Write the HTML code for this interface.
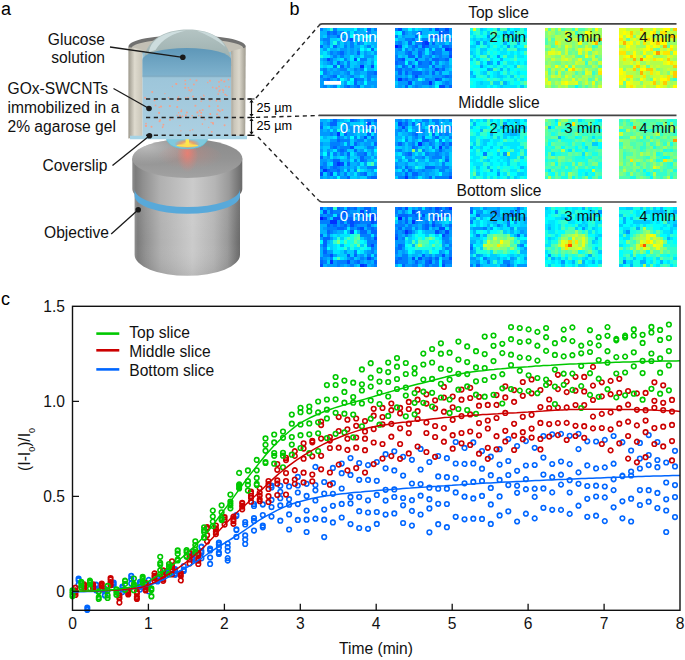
<!DOCTYPE html><html><head><meta charset="utf-8"><style>html,body{margin:0;padding:0;background:#fff;overflow:hidden}svg{display:block}text{font-family:"Liberation Sans", sans-serif}</style></head><body>
<svg width="685" height="660" viewBox="0 0 685 660">
<defs>
<linearGradient id="wallL" x1="0" x2="1" y1="0" y2="0"><stop offset="0" stop-color="#9d998d"/><stop offset="0.45" stop-color="#dedace"/><stop offset="1" stop-color="#c9c5b8"/></linearGradient>
<linearGradient id="wallR" x1="0" x2="1" y1="0" y2="0"><stop offset="0" stop-color="#a9a69b"/><stop offset="0.2" stop-color="#c9c5b9"/><stop offset="0.55" stop-color="#dcd8cc"/><stop offset="1" stop-color="#a09c90"/></linearGradient>
<linearGradient id="gel" x1="0" x2="0" y1="0" y2="1"><stop offset="0" stop-color="#96c1d6"/><stop offset="0.4" stop-color="#9fc7db"/><stop offset="1" stop-color="#acd0e2"/></linearGradient>
<linearGradient id="sol" x1="0" x2="0" y1="0" y2="1"><stop offset="0" stop-color="#5e97b8"/><stop offset="0.5" stop-color="#6fa5c3"/><stop offset="1" stop-color="#80b3ce"/></linearGradient>
<linearGradient id="dome" x1="0" x2="0" y1="0" y2="1"><stop offset="0" stop-color="#b4c4c3"/><stop offset="1" stop-color="#97abaa"/></linearGradient>
<linearGradient id="rim" x1="0" x2="0" y1="0" y2="1"><stop offset="0" stop-color="#7a7a78"/><stop offset="1" stop-color="#b9b6ab"/></linearGradient>
<linearGradient id="obj" x1="0" x2="1" y1="0" y2="0"><stop offset="0" stop-color="#8e8e8e"/><stop offset="0.03" stop-color="#7c7c7c"/><stop offset="0.1" stop-color="#909090"/><stop offset="0.25" stop-color="#b0b0b0"/><stop offset="0.55" stop-color="#cbcbcb"/><stop offset="0.75" stop-color="#b5b5b5"/><stop offset="0.88" stop-color="#9a9a9a"/><stop offset="0.97" stop-color="#747474"/><stop offset="1" stop-color="#6a6a6a"/></linearGradient>
<linearGradient id="objv" x1="0" x2="0" y1="0" y2="1"><stop offset="0" stop-color="#fff" stop-opacity="0.08"/><stop offset="0.6" stop-color="#fff" stop-opacity="0"/><stop offset="1" stop-color="#000" stop-opacity="0.08"/></linearGradient>
<linearGradient id="face" x1="0" x2="0" y1="0" y2="1"><stop offset="0" stop-color="#8c8c8c"/><stop offset="0.5" stop-color="#939393"/><stop offset="1" stop-color="#a2a2a2"/></linearGradient>
<radialGradient id="glow" cx="0.5" cy="0.3" r="0.5"><stop offset="0" stop-color="#ff7a6a" stop-opacity="0.7"/><stop offset="0.6" stop-color="#ff7a6a" stop-opacity="0.25"/><stop offset="1" stop-color="#ff7a6a" stop-opacity="0"/></radialGradient>
<radialGradient id="spot" cx="0.5" cy="0.6" r="0.5"><stop offset="0" stop-color="#fff27a"/><stop offset="0.5" stop-color="#ff9a4a" stop-opacity="0.8"/><stop offset="1" stop-color="#ff7050" stop-opacity="0"/></radialGradient>
<linearGradient id="rimhl" x1="0" x2="1" y1="0" y2="0.4"><stop offset="0" stop-color="#d6d6d6" stop-opacity="0.8"/><stop offset="0.45" stop-color="#d6d6d6" stop-opacity="0.15"/><stop offset="1" stop-color="#d6d6d6" stop-opacity="0"/></linearGradient>
<radialGradient id="facehl" cx="0.12" cy="0.2" r="0.45"><stop offset="0" stop-color="#c8c8c8" stop-opacity="0.75"/><stop offset="1" stop-color="#c8c8c8" stop-opacity="0"/></radialGradient>
</defs>
<text x="1" y="14.8" font-size="18">a</text>
<text x="289.5" y="14.9" font-size="18">b</text>
<text x="1" y="304.8" font-size="18">c</text>
<path d="M134.6 194 L134.6 254.8 A52.7 21 0 0 0 240 254.8 L240 194 Z" fill="url(#obj)"/>
<path d="M134.6 194 L134.6 254.8 A52.7 21 0 0 0 240 254.8 L240 194 Z" fill="url(#objv)"/>
<path d="M132.3 158.5 L132.3 189 A55 18 0 0 0 242.3 189 L242.3 158.5 Z" fill="url(#obj)"/>
<path d="M134.6 189 A52.7 18 0 0 0 240 189 L240 195.8 A52.7 18 0 0 1 134.6 195.8 Z" fill="#58a9da"/>
<ellipse cx="187.3" cy="158.5" rx="55" ry="19.5" fill="url(#face)"/>
<clipPath id="faceclip"><ellipse cx="187.3" cy="158.5" rx="55" ry="19.5"/></clipPath>
<ellipse cx="187.3" cy="158.5" rx="55" ry="19.5" fill="url(#facehl)"/>
<ellipse cx="190" cy="160" rx="34" ry="16" fill="url(#glow)" opacity="0.35"/>
<ellipse cx="187.5" cy="161" rx="11" ry="19" fill="url(#glow)"/>
<path d="M166 137.5 L208 137.5 C206 146 198 148.6 187 148.6 C176 148.6 168 146 166 137.5Z" fill="#7fc9dd" stroke="#5ec3da" stroke-width="0.8"/>
<ellipse cx="187.3" cy="143" rx="13" ry="5" fill="url(#spot)"/>
<path d="M185.6 137.5 h3.4 v8.5 h-3.4z" fill="#ffe84a"/>
<ellipse cx="187.3" cy="145.6" rx="11" ry="1.4" fill="#ffe050"/>
<ellipse cx="187.1" cy="46.5" rx="58.6" ry="11.5" fill="#717170"/>
<ellipse cx="187.4" cy="48.2" rx="55.8" ry="9.6" fill="#c3c0b5"/>
<path d="M142.3 52 L231.2 52 L231.2 136 L142.3 136 Z" fill="url(#gel)"/>
<path d="M143 66 C143.5 40 164 29.5 188 29.5 C212 29.5 231 40 231.5 66 Z" fill="url(#dome)"/>
<path d="M142.3 60 A44.45 12 0 0 1 231.2 60 L231.2 76.5 L142.3 76.5 Z" fill="url(#sol)"/>
<path d="M142.3 75.6 L231.2 75.6 L231.2 77.2 L142.3 77.2 Z" fill="#7fa9c0" opacity="0.7"/>
<path d="M149 52 C151 38 167 31 186 30.5 C173 33.5 162 39 155.5 50 Z" fill="#d3e3e4" opacity="0.85"/>
<path d="M197 30.8 C211 32 221 38 225.5 47 C217 40 207 35 197 30.8Z" fill="#d3e3e4" opacity="0.7"/>
<g fill="#fb9f86" opacity="0.95"><circle cx="152.2" cy="92.0" r="1.00"/><circle cx="193.9" cy="84.2" r="0.82"/><circle cx="185.2" cy="87.8" r="0.97"/><circle cx="154.5" cy="100.5" r="0.86"/><circle cx="181.2" cy="111.3" r="0.97"/><circle cx="225.3" cy="94.6" r="0.92"/><circle cx="203.5" cy="95.1" r="0.60"/><circle cx="226.8" cy="95.4" r="0.76"/><circle cx="219.9" cy="111.2" r="0.84"/><circle cx="210.0" cy="80.7" r="0.95"/><circle cx="176.4" cy="84.0" r="0.93"/><circle cx="223.2" cy="90.4" r="0.92"/><circle cx="170.0" cy="119.8" r="0.96"/><circle cx="163.4" cy="124.6" r="0.93"/><circle cx="202.4" cy="124.1" r="0.81"/><circle cx="208.7" cy="127.3" r="0.65"/><circle cx="216.4" cy="100.7" r="0.84"/><circle cx="157.3" cy="117.4" r="0.75"/><circle cx="218.2" cy="94.1" r="0.88"/><circle cx="178.6" cy="112.7" r="0.70"/><circle cx="160.1" cy="120.1" r="0.98"/><circle cx="192.6" cy="129.7" r="0.70"/><circle cx="216.5" cy="88.3" r="1.08"/><circle cx="197.4" cy="112.4" r="1.09"/><circle cx="211.1" cy="122.4" r="0.63"/><circle cx="176.0" cy="83.7" r="0.70"/><circle cx="163.0" cy="126.2" r="0.66"/><circle cx="169.9" cy="106.1" r="1.02"/><circle cx="226.1" cy="117.9" r="0.71"/><circle cx="190.8" cy="117.8" r="0.63"/><circle cx="202.1" cy="99.3" r="0.89"/><circle cx="201.2" cy="115.8" r="0.86"/><circle cx="191.6" cy="89.9" r="0.85"/><circle cx="155.5" cy="105.4" r="0.87"/><circle cx="210.0" cy="100.7" r="0.61"/><circle cx="189.3" cy="90.3" r="0.97"/><circle cx="177.7" cy="99.9" r="1.05"/><circle cx="178.0" cy="98.2" r="0.77"/><circle cx="185.4" cy="84.1" r="0.87"/><circle cx="222.4" cy="110.0" r="0.97"/><circle cx="224.6" cy="125.3" r="0.97"/><circle cx="213.3" cy="124.1" r="0.73"/><circle cx="185.5" cy="97.8" r="0.73"/><circle cx="193.0" cy="96.5" r="0.91"/><circle cx="193.9" cy="84.7" r="0.82"/><circle cx="177.7" cy="117.9" r="0.64"/><circle cx="159.2" cy="107.2" r="0.80"/><circle cx="200.9" cy="97.3" r="0.70"/><circle cx="223.3" cy="92.4" r="0.67"/><circle cx="168.5" cy="97.7" r="0.71"/><circle cx="190.1" cy="130.5" r="0.66"/><circle cx="179.9" cy="115.7" r="1.04"/><circle cx="229.0" cy="86.9" r="0.87"/><circle cx="219.0" cy="81.9" r="0.89"/><circle cx="159.6" cy="121.2" r="1.07"/><circle cx="190.2" cy="79.5" r="0.63"/><circle cx="179.9" cy="125.6" r="0.72"/><circle cx="201.2" cy="101.3" r="0.73"/><circle cx="204.1" cy="96.0" r="0.79"/><circle cx="209.3" cy="106.2" r="0.99"/><circle cx="188.4" cy="87.8" r="0.82"/><circle cx="218.3" cy="110.1" r="1.08"/><circle cx="145.1" cy="97.7" r="0.98"/><circle cx="202.6" cy="109.9" r="0.93"/><circle cx="218.6" cy="116.6" r="0.87"/><circle cx="192.2" cy="115.7" r="0.76"/><circle cx="201.2" cy="112.8" r="0.99"/><circle cx="185.3" cy="80.5" r="0.87"/><circle cx="217.0" cy="114.2" r="0.92"/><circle cx="177.8" cy="98.6" r="0.96"/><circle cx="151.5" cy="126.7" r="1.04"/><circle cx="225.8" cy="86.5" r="0.66"/><circle cx="220.1" cy="101.1" r="0.74"/><circle cx="177.1" cy="115.3" r="0.68"/><circle cx="185.9" cy="115.3" r="0.96"/><circle cx="146.0" cy="123.6" r="0.82"/><circle cx="181.6" cy="109.9" r="0.74"/><circle cx="219.5" cy="90.7" r="0.87"/><circle cx="159.1" cy="112.9" r="1.05"/><circle cx="219.1" cy="86.4" r="0.91"/><circle cx="220.0" cy="90.0" r="0.81"/><circle cx="204.9" cy="119.6" r="0.83"/><circle cx="198.6" cy="115.8" r="0.78"/><circle cx="199.8" cy="110.8" r="0.95"/><circle cx="188.0" cy="97.5" r="0.82"/><circle cx="222.5" cy="89.3" r="0.67"/><circle cx="146.0" cy="125.9" r="1.09"/><circle cx="164.9" cy="93.6" r="0.70"/><circle cx="195.4" cy="105.7" r="1.01"/><circle cx="162.6" cy="127.3" r="0.83"/><circle cx="212.9" cy="123.1" r="1.06"/><circle cx="186.9" cy="112.5" r="0.88"/><circle cx="161.0" cy="106.6" r="1.06"/><circle cx="221.3" cy="80.2" r="0.93"/><circle cx="172.4" cy="86.5" r="0.67"/><circle cx="211.8" cy="131.8" r="0.86"/><circle cx="177.2" cy="107.0" r="1.01"/><circle cx="207.7" cy="82.5" r="0.71"/><circle cx="217.9" cy="106.1" r="0.93"/><circle cx="210.3" cy="114.0" r="0.97"/><circle cx="190.8" cy="91.6" r="0.69"/><circle cx="228.5" cy="79.6" r="0.95"/><circle cx="219.0" cy="91.7" r="0.62"/><circle cx="178.5" cy="97.1" r="0.83"/><circle cx="180.9" cy="130.8" r="0.66"/><circle cx="224.3" cy="81.5" r="1.07"/><circle cx="173.0" cy="119.0" r="0.60"/><circle cx="182.6" cy="116.3" r="0.91"/><circle cx="212.7" cy="87.4" r="0.80"/><circle cx="196.5" cy="80.6" r="1.02"/></g>
<path d="M128.4 47 L142.3 49.5 L142.3 136 L128.4 138.5 Z" fill="url(#wallL)"/>
<path d="M231.2 51 L245.7 47.5 L245.2 138.5 L231.2 136.5 Z" fill="url(#wallR)"/>
<path d="M130 135.8 L247 135.8 L247 139.2 L130 139.2 Z" fill="#a6d3e5"/>
<g stroke="#222" stroke-width="1.4" stroke-dasharray="4.2 3.6" fill="none">
<path d="M146 99 H252"/><path d="M146 117.5 H252"/><path d="M146 135.3 H252"/>
<path d="M256 98 L318.6 26"/><path d="M256 117.4 L319 115.5"/><path d="M258 137 L318.8 200.6"/>
</g>
<g stroke="#111" stroke-width="1.2" fill="none"><path d="M248.5 99 H254.5 M248.5 117.5 H254.5 M248.5 135.3 H254.5"/><path d="M251.5 101 V115.5 M251.5 119.5 V133.5"/></g>
<g fill="#111"><path d="M249.4 102.6 L251.5 99.6 L253.6 102.6Z M249.4 113.9 L251.5 116.9 L253.6 113.9Z M249.4 121.1 L251.5 118.1 L253.6 121.1Z M249.4 131.7 L251.5 134.7 L253.6 131.7Z"/></g>
<text x="256.5" y="111.7" font-size="12.7">25 µm</text>
<text x="256.5" y="130.1" font-size="12.7">25 µm</text>
<g stroke="#1a1a1a" stroke-width="1.3" fill="none"><path d="M110 47 L182.8 57.3"/><path d="M113.5 88.5 L149 108.5"/><path d="M112.5 165.6 L149.5 135.8"/><path d="M111.2 234 L138.2 209.8"/></g>
<g fill="#1a1a1a"><circle cx="182.8" cy="57.3" r="2.8"/><circle cx="149" cy="108.5" r="2.8"/><circle cx="149.5" cy="135.8" r="2.8"/><circle cx="138.2" cy="209.8" r="2.8"/></g>
<g font-size="15.6" fill="#111">
<text x="105" y="44.6" text-anchor="end">Glucose</text>
<text x="105" y="63" text-anchor="end">solution</text>
<text x="7.5" y="94">GOx-SWCNTs</text>
<text x="7.5" y="113">immobilized in a</text>
<text x="7.5" y="131.5">2% agarose gel</text>
<text x="42.4" y="171.3">Coverslip</text>
<text x="44" y="237.7">Objective</text>
</g>
<g font-size="15.6" fill="#111" text-anchor="middle">
<text x="498.5" y="17.9">Top slice</text><text x="499" y="108.1">Middle slice</text><text x="499" y="195.7">Bottom slice</text>
</g>
<g stroke="#444" stroke-width="1.6" fill="none"><path d="M318.6 26 Q319.9 23.9 322 23.9 H676.5"/><path d="M319 115.4 H676.5"/><path d="M318.8 200.6 Q320 202 322 202 H676.5"/></g>
<g transform="translate(320.00 28.00) scale(3.3706 3.3333)" shape-rendering="crispEdges"><path fill="#007fff" d="M0 0h1v1h-1zM4 0h1v1h-1zM16 0h1v1h-1zM3 1h1v1h-1zM6 1h1v1h-1zM14 1h1v1h-1zM2 2h1v1h-1zM1 3h1v1h-1zM2 3h1v1h-1zM6 3h1v1h-1zM8 3h1v1h-1zM13 3h1v1h-1zM2 4h1v1h-1zM9 4h1v1h-1zM11 4h1v1h-1zM7 5h1v1h-1zM9 5h1v1h-1zM14 5h1v1h-1zM3 7h1v1h-1zM5 7h1v1h-1zM4 8h1v1h-1zM6 8h1v1h-1zM3 9h1v1h-1zM7 9h1v1h-1zM12 9h1v1h-1zM13 9h1v1h-1zM3 10h1v1h-1zM8 10h1v1h-1zM8 11h1v1h-1zM1 12h1v1h-1zM6 12h1v1h-1zM7 12h1v1h-1zM10 12h1v1h-1zM12 12h1v1h-1zM1 13h1v1h-1zM8 13h1v1h-1zM14 13h1v1h-1zM15 13h1v1h-1zM0 14h1v1h-1zM3 14h1v1h-1zM9 14h1v1h-1zM14 14h1v1h-1zM1 15h1v1h-1zM5 15h1v1h-1zM11 15h1v1h-1zM12 15h1v1h-1zM14 15h1v1h-1zM2 16h1v1h-1zM4 16h1v1h-1zM5 16h1v1h-1zM1 17h1v1h-1zM4 17h1v1h-1zM7 17h1v1h-1zM10 17h1v1h-1z"/><path fill="#00b2ff" d="M1 0h1v1h-1zM12 0h1v1h-1zM15 0h1v1h-1zM0 1h1v1h-1zM1 1h1v1h-1zM11 1h1v1h-1zM12 1h1v1h-1zM13 1h1v1h-1zM15 1h1v1h-1zM16 1h1v1h-1zM0 2h1v1h-1zM6 2h1v1h-1zM10 2h1v1h-1zM11 2h1v1h-1zM10 3h1v1h-1zM16 3h1v1h-1zM8 4h1v1h-1zM15 4h1v1h-1zM16 4h1v1h-1zM1 5h1v1h-1zM5 5h1v1h-1zM8 5h1v1h-1zM10 5h1v1h-1zM11 5h1v1h-1zM13 5h1v1h-1zM16 5h1v1h-1zM3 6h1v1h-1zM4 6h1v1h-1zM8 6h1v1h-1zM10 6h1v1h-1zM2 7h1v1h-1zM8 7h1v1h-1zM10 7h1v1h-1zM14 7h1v1h-1zM3 8h1v1h-1zM5 8h1v1h-1zM7 8h1v1h-1zM8 8h1v1h-1zM10 8h1v1h-1zM11 8h1v1h-1zM0 9h1v1h-1zM4 9h1v1h-1zM8 9h1v1h-1zM15 9h1v1h-1zM1 10h1v1h-1zM11 10h1v1h-1zM13 10h1v1h-1zM7 11h1v1h-1zM10 11h1v1h-1zM11 11h1v1h-1zM14 11h1v1h-1zM2 12h1v1h-1zM4 12h1v1h-1zM9 12h1v1h-1zM14 12h1v1h-1zM15 12h1v1h-1zM3 13h1v1h-1zM6 13h1v1h-1zM12 13h1v1h-1zM13 13h1v1h-1zM1 14h1v1h-1zM7 14h1v1h-1zM10 14h1v1h-1zM11 14h1v1h-1zM13 14h1v1h-1zM4 15h1v1h-1zM16 15h1v1h-1zM1 16h1v1h-1zM11 16h1v1h-1zM2 17h1v1h-1zM6 17h1v1h-1zM15 17h1v1h-1z"/><path fill="#00ccff" d="M2 0h1v1h-1zM5 0h1v1h-1zM6 0h1v1h-1zM7 0h1v1h-1zM8 0h1v1h-1zM9 0h1v1h-1zM1 2h1v1h-1zM12 2h1v1h-1zM3 3h1v1h-1zM4 3h1v1h-1zM12 3h1v1h-1zM14 3h1v1h-1zM0 4h1v1h-1zM3 4h1v1h-1zM6 4h1v1h-1zM10 4h1v1h-1zM14 4h1v1h-1zM6 5h1v1h-1zM15 5h1v1h-1zM0 6h1v1h-1zM5 6h1v1h-1zM13 6h1v1h-1zM0 7h1v1h-1zM12 7h1v1h-1zM15 7h1v1h-1zM5 9h1v1h-1zM14 9h1v1h-1zM0 10h1v1h-1zM4 10h1v1h-1zM7 10h1v1h-1zM9 10h1v1h-1zM10 10h1v1h-1zM14 10h1v1h-1zM1 11h1v1h-1zM9 11h1v1h-1zM13 11h1v1h-1zM8 12h1v1h-1zM9 13h1v1h-1zM7 15h1v1h-1zM13 15h1v1h-1zM15 15h1v1h-1zM3 16h1v1h-1zM6 16h1v1h-1zM12 17h1v1h-1z"/><path fill="#32ffcc" d="M3 0h1v1h-1z"/><path fill="#00ffff" d="M10 0h1v1h-1zM9 2h1v1h-1zM14 2h1v1h-1zM12 6h1v1h-1zM14 6h1v1h-1zM11 9h1v1h-1zM16 10h1v1h-1zM13 12h1v1h-1zM0 13h1v1h-1zM6 15h1v1h-1zM9 15h1v1h-1zM8 16h1v1h-1zM13 16h1v1h-1z"/><path fill="#0099ff" d="M11 0h1v1h-1zM5 1h1v1h-1zM8 1h1v1h-1zM10 1h1v1h-1zM3 2h1v1h-1zM4 2h1v1h-1zM7 2h1v1h-1zM8 2h1v1h-1zM15 2h1v1h-1zM0 3h1v1h-1zM7 3h1v1h-1zM15 3h1v1h-1zM1 4h1v1h-1zM5 4h1v1h-1zM7 4h1v1h-1zM12 4h1v1h-1zM2 5h1v1h-1zM1 6h1v1h-1zM6 6h1v1h-1zM7 6h1v1h-1zM9 6h1v1h-1zM11 6h1v1h-1zM4 7h1v1h-1zM7 7h1v1h-1zM9 7h1v1h-1zM13 7h1v1h-1zM16 7h1v1h-1zM13 8h1v1h-1zM14 8h1v1h-1zM15 8h1v1h-1zM1 9h1v1h-1zM2 10h1v1h-1zM6 10h1v1h-1zM12 10h1v1h-1zM15 10h1v1h-1zM0 12h1v1h-1zM3 12h1v1h-1zM5 12h1v1h-1zM11 12h1v1h-1zM2 13h1v1h-1zM4 13h1v1h-1zM5 13h1v1h-1zM7 13h1v1h-1zM10 13h1v1h-1zM11 13h1v1h-1zM2 14h1v1h-1zM6 14h1v1h-1zM8 14h1v1h-1zM15 14h1v1h-1zM16 14h1v1h-1zM0 15h1v1h-1zM3 15h1v1h-1zM8 15h1v1h-1zM0 16h1v1h-1zM7 16h1v1h-1zM12 16h1v1h-1zM14 16h1v1h-1zM15 16h1v1h-1zM16 16h1v1h-1zM0 17h1v1h-1zM3 17h1v1h-1zM9 17h1v1h-1zM13 17h1v1h-1zM14 17h1v1h-1zM16 17h1v1h-1z"/><path fill="#00e5ff" d="M13 0h1v1h-1zM7 1h1v1h-1zM9 1h1v1h-1zM13 2h1v1h-1zM16 2h1v1h-1zM5 3h1v1h-1zM11 3h1v1h-1zM13 4h1v1h-1zM3 5h1v1h-1zM12 5h1v1h-1zM2 6h1v1h-1zM16 6h1v1h-1zM1 7h1v1h-1zM1 8h1v1h-1zM2 8h1v1h-1zM9 8h1v1h-1zM12 8h1v1h-1zM16 8h1v1h-1zM6 9h1v1h-1zM9 9h1v1h-1zM16 9h1v1h-1zM0 11h1v1h-1zM2 11h1v1h-1zM3 11h1v1h-1zM16 11h1v1h-1zM16 12h1v1h-1zM5 14h1v1h-1zM12 14h1v1h-1zM9 16h1v1h-1zM5 17h1v1h-1z"/><path fill="#0066ff" d="M14 0h1v1h-1zM2 1h1v1h-1zM4 1h1v1h-1zM5 2h1v1h-1zM0 5h1v1h-1zM4 5h1v1h-1zM15 6h1v1h-1zM6 7h1v1h-1zM11 7h1v1h-1zM5 10h1v1h-1zM4 11h1v1h-1zM6 11h1v1h-1zM16 13h1v1h-1zM4 14h1v1h-1zM2 15h1v1h-1zM10 15h1v1h-1zM10 16h1v1h-1zM8 17h1v1h-1zM11 17h1v1h-1z"/><path fill="#004cff" d="M9 3h1v1h-1zM2 9h1v1h-1zM10 9h1v1h-1zM15 11h1v1h-1z"/><path fill="#19ffe5" d="M4 4h1v1h-1zM0 8h1v1h-1zM5 11h1v1h-1z"/><path fill="#0032ff" d="M12 11h1v1h-1z"/></g>
<g transform="translate(394.85 28.00) scale(3.3706 3.3333)" shape-rendering="crispEdges"><path fill="#007fff" d="M0 0h1v1h-1zM10 0h1v1h-1zM13 0h1v1h-1zM14 0h1v1h-1zM0 2h1v1h-1zM10 2h1v1h-1zM3 3h1v1h-1zM4 3h1v1h-1zM8 3h1v1h-1zM9 3h1v1h-1zM14 3h1v1h-1zM16 3h1v1h-1zM1 4h1v1h-1zM6 4h1v1h-1zM7 4h1v1h-1zM5 5h1v1h-1zM16 5h1v1h-1zM1 6h1v1h-1zM3 6h1v1h-1zM5 6h1v1h-1zM7 6h1v1h-1zM8 6h1v1h-1zM10 6h1v1h-1zM12 6h1v1h-1zM13 6h1v1h-1zM3 7h1v1h-1zM12 7h1v1h-1zM13 7h1v1h-1zM0 8h1v1h-1zM10 8h1v1h-1zM13 8h1v1h-1zM0 9h1v1h-1zM9 9h1v1h-1zM13 9h1v1h-1zM14 9h1v1h-1zM1 10h1v1h-1zM2 10h1v1h-1zM4 10h1v1h-1zM8 10h1v1h-1zM9 10h1v1h-1zM12 10h1v1h-1zM3 11h1v1h-1zM7 11h1v1h-1zM8 11h1v1h-1zM9 11h1v1h-1zM14 11h1v1h-1zM0 12h1v1h-1zM3 12h1v1h-1zM4 12h1v1h-1zM13 12h1v1h-1zM9 13h1v1h-1zM13 13h1v1h-1zM5 14h1v1h-1zM14 14h1v1h-1zM16 14h1v1h-1zM2 15h1v1h-1zM5 15h1v1h-1zM9 15h1v1h-1zM8 16h1v1h-1zM9 16h1v1h-1zM15 16h1v1h-1zM6 17h1v1h-1z"/><path fill="#004cff" d="M1 0h1v1h-1zM12 0h1v1h-1zM15 0h1v1h-1zM13 1h1v1h-1zM11 2h1v1h-1zM8 4h1v1h-1zM1 5h1v1h-1zM8 5h1v1h-1zM16 6h1v1h-1zM16 8h1v1h-1zM2 9h1v1h-1zM6 9h1v1h-1zM5 11h1v1h-1zM12 12h1v1h-1zM6 14h1v1h-1zM12 15h1v1h-1zM4 16h1v1h-1zM13 17h1v1h-1zM14 17h1v1h-1z"/><path fill="#00b2ff" d="M2 0h1v1h-1zM3 0h1v1h-1zM5 0h1v1h-1zM8 0h1v1h-1zM9 0h1v1h-1zM4 1h1v1h-1zM8 1h1v1h-1zM9 1h1v1h-1zM12 1h1v1h-1zM3 2h1v1h-1zM4 2h1v1h-1zM5 2h1v1h-1zM14 2h1v1h-1zM15 2h1v1h-1zM1 3h1v1h-1zM2 3h1v1h-1zM6 3h1v1h-1zM7 3h1v1h-1zM10 3h1v1h-1zM2 4h1v1h-1zM10 4h1v1h-1zM12 4h1v1h-1zM7 5h1v1h-1zM4 6h1v1h-1zM6 6h1v1h-1zM1 7h1v1h-1zM2 7h1v1h-1zM5 7h1v1h-1zM6 7h1v1h-1zM14 7h1v1h-1zM15 7h1v1h-1zM2 8h1v1h-1zM8 8h1v1h-1zM7 9h1v1h-1zM8 9h1v1h-1zM10 9h1v1h-1zM5 10h1v1h-1zM14 10h1v1h-1zM6 11h1v1h-1zM12 11h1v1h-1zM13 11h1v1h-1zM16 11h1v1h-1zM6 12h1v1h-1zM8 12h1v1h-1zM10 12h1v1h-1zM15 12h1v1h-1zM0 13h1v1h-1zM2 13h1v1h-1zM10 13h1v1h-1zM12 13h1v1h-1zM2 14h1v1h-1zM9 14h1v1h-1zM10 14h1v1h-1zM15 15h1v1h-1zM0 17h1v1h-1zM2 17h1v1h-1zM8 17h1v1h-1zM9 17h1v1h-1zM11 17h1v1h-1z"/><path fill="#00ffff" d="M4 0h1v1h-1zM1 1h1v1h-1zM7 2h1v1h-1zM3 10h1v1h-1zM12 17h1v1h-1z"/><path fill="#00e5ff" d="M6 0h1v1h-1zM0 1h1v1h-1zM0 3h1v1h-1zM3 5h1v1h-1zM2 6h1v1h-1zM9 6h1v1h-1zM11 6h1v1h-1zM9 7h1v1h-1zM6 10h1v1h-1zM7 12h1v1h-1zM12 16h1v1h-1z"/><path fill="#00ccff" d="M7 0h1v1h-1zM11 0h1v1h-1zM10 1h1v1h-1zM11 1h1v1h-1zM1 2h1v1h-1zM8 2h1v1h-1zM9 2h1v1h-1zM16 2h1v1h-1zM11 3h1v1h-1zM3 4h1v1h-1zM5 4h1v1h-1zM15 4h1v1h-1zM2 5h1v1h-1zM13 5h1v1h-1zM14 6h1v1h-1zM1 8h1v1h-1zM3 8h1v1h-1zM6 8h1v1h-1zM11 8h1v1h-1zM3 9h1v1h-1zM4 9h1v1h-1zM5 9h1v1h-1zM16 9h1v1h-1zM11 10h1v1h-1zM13 10h1v1h-1zM16 10h1v1h-1zM1 11h1v1h-1zM4 11h1v1h-1zM10 11h1v1h-1zM16 12h1v1h-1zM14 13h1v1h-1zM15 13h1v1h-1zM4 14h1v1h-1zM8 15h1v1h-1zM14 15h1v1h-1zM0 16h1v1h-1zM5 16h1v1h-1zM13 16h1v1h-1zM4 17h1v1h-1z"/><path fill="#0099ff" d="M16 0h1v1h-1zM3 1h1v1h-1zM5 1h1v1h-1zM6 1h1v1h-1zM16 1h1v1h-1zM2 2h1v1h-1zM12 3h1v1h-1zM13 3h1v1h-1zM15 3h1v1h-1zM0 4h1v1h-1zM13 4h1v1h-1zM14 4h1v1h-1zM16 4h1v1h-1zM4 5h1v1h-1zM10 5h1v1h-1zM11 5h1v1h-1zM12 5h1v1h-1zM0 6h1v1h-1zM0 7h1v1h-1zM8 7h1v1h-1zM10 7h1v1h-1zM9 8h1v1h-1zM12 8h1v1h-1zM14 8h1v1h-1zM15 8h1v1h-1zM15 10h1v1h-1zM0 11h1v1h-1zM15 11h1v1h-1zM2 12h1v1h-1zM5 12h1v1h-1zM9 12h1v1h-1zM11 12h1v1h-1zM4 13h1v1h-1zM8 13h1v1h-1zM16 13h1v1h-1zM0 14h1v1h-1zM1 14h1v1h-1zM3 14h1v1h-1zM7 14h1v1h-1zM8 14h1v1h-1zM11 14h1v1h-1zM12 14h1v1h-1zM13 14h1v1h-1zM0 15h1v1h-1zM4 15h1v1h-1zM6 15h1v1h-1zM10 15h1v1h-1zM11 15h1v1h-1zM16 15h1v1h-1zM1 16h1v1h-1zM2 16h1v1h-1zM3 16h1v1h-1zM6 16h1v1h-1zM7 16h1v1h-1zM11 16h1v1h-1zM14 16h1v1h-1zM16 16h1v1h-1zM1 17h1v1h-1zM5 17h1v1h-1zM7 17h1v1h-1zM10 17h1v1h-1zM15 17h1v1h-1z"/><path fill="#0066ff" d="M2 1h1v1h-1zM7 1h1v1h-1zM14 1h1v1h-1zM15 1h1v1h-1zM6 2h1v1h-1zM12 2h1v1h-1zM13 2h1v1h-1zM5 3h1v1h-1zM4 4h1v1h-1zM11 4h1v1h-1zM6 5h1v1h-1zM9 5h1v1h-1zM14 5h1v1h-1zM15 5h1v1h-1zM4 7h1v1h-1zM7 7h1v1h-1zM11 7h1v1h-1zM16 7h1v1h-1zM4 8h1v1h-1zM5 8h1v1h-1zM7 8h1v1h-1zM1 9h1v1h-1zM11 9h1v1h-1zM12 9h1v1h-1zM15 9h1v1h-1zM0 10h1v1h-1zM7 10h1v1h-1zM10 10h1v1h-1zM2 11h1v1h-1zM11 11h1v1h-1zM1 12h1v1h-1zM14 12h1v1h-1zM1 13h1v1h-1zM3 13h1v1h-1zM5 13h1v1h-1zM6 13h1v1h-1zM7 13h1v1h-1zM11 13h1v1h-1zM15 14h1v1h-1zM3 15h1v1h-1zM13 15h1v1h-1zM3 17h1v1h-1zM16 17h1v1h-1z"/><path fill="#0032ff" d="M9 4h1v1h-1zM15 6h1v1h-1zM1 15h1v1h-1zM10 16h1v1h-1z"/><path fill="#0019ff" d="M0 5h1v1h-1z"/><path fill="#19ffe5" d="M7 15h1v1h-1z"/></g>
<g transform="translate(469.70 28.00) scale(3.3706 3.3333)" shape-rendering="crispEdges"><path fill="#19ffe5" d="M0 0h1v1h-1zM5 0h1v1h-1zM1 1h1v1h-1zM4 1h1v1h-1zM8 1h1v1h-1zM13 1h1v1h-1zM0 2h1v1h-1zM2 2h1v1h-1zM3 2h1v1h-1zM6 2h1v1h-1zM7 2h1v1h-1zM9 2h1v1h-1zM10 2h1v1h-1zM9 3h1v1h-1zM11 3h1v1h-1zM14 3h1v1h-1zM15 3h1v1h-1zM3 4h1v1h-1zM6 4h1v1h-1zM9 4h1v1h-1zM15 4h1v1h-1zM16 4h1v1h-1zM4 5h1v1h-1zM10 5h1v1h-1zM12 5h1v1h-1zM2 6h1v1h-1zM6 6h1v1h-1zM9 6h1v1h-1zM2 7h1v1h-1zM7 7h1v1h-1zM0 8h1v1h-1zM6 8h1v1h-1zM1 9h1v1h-1zM4 9h1v1h-1zM12 9h1v1h-1zM1 10h1v1h-1zM0 11h1v1h-1zM6 11h1v1h-1zM8 11h1v1h-1zM9 11h1v1h-1zM11 11h1v1h-1zM16 11h1v1h-1zM1 12h1v1h-1zM2 12h1v1h-1zM8 12h1v1h-1zM10 12h1v1h-1zM13 12h1v1h-1zM15 12h1v1h-1zM16 12h1v1h-1zM2 13h1v1h-1zM12 13h1v1h-1zM2 14h1v1h-1zM4 14h1v1h-1zM11 14h1v1h-1zM16 14h1v1h-1zM4 15h1v1h-1zM6 15h1v1h-1zM8 15h1v1h-1zM10 15h1v1h-1zM11 15h1v1h-1zM12 15h1v1h-1zM0 16h1v1h-1zM12 16h1v1h-1zM14 17h1v1h-1zM16 17h1v1h-1z"/><path fill="#cbff33" d="M1 0h1v1h-1z"/><path fill="#32ffcc" d="M2 0h1v1h-1zM7 0h1v1h-1zM15 0h1v1h-1zM2 1h1v1h-1zM6 1h1v1h-1zM15 1h1v1h-1zM12 2h1v1h-1zM7 3h1v1h-1zM16 3h1v1h-1zM12 4h1v1h-1zM13 4h1v1h-1zM3 5h1v1h-1zM7 5h1v1h-1zM12 6h1v1h-1zM5 7h1v1h-1zM13 8h1v1h-1zM10 10h1v1h-1zM15 11h1v1h-1zM5 13h1v1h-1zM10 13h1v1h-1zM3 14h1v1h-1zM13 14h1v1h-1zM15 14h1v1h-1zM7 15h1v1h-1zM14 15h1v1h-1zM15 16h1v1h-1z"/><path fill="#00ccff" d="M3 0h1v1h-1zM11 0h1v1h-1zM5 1h1v1h-1zM14 2h1v1h-1zM1 3h1v1h-1zM3 3h1v1h-1zM5 3h1v1h-1zM6 3h1v1h-1zM13 3h1v1h-1zM0 5h1v1h-1zM1 5h1v1h-1zM5 5h1v1h-1zM13 5h1v1h-1zM3 6h1v1h-1zM4 6h1v1h-1zM14 6h1v1h-1zM0 7h1v1h-1zM3 7h1v1h-1zM1 8h1v1h-1zM5 8h1v1h-1zM0 9h1v1h-1zM2 9h1v1h-1zM3 10h1v1h-1zM13 11h1v1h-1zM11 12h1v1h-1zM4 13h1v1h-1zM8 13h1v1h-1zM0 14h1v1h-1zM5 14h1v1h-1zM8 14h1v1h-1zM9 14h1v1h-1zM12 14h1v1h-1zM3 16h1v1h-1zM7 16h1v1h-1zM8 16h1v1h-1zM9 17h1v1h-1zM15 17h1v1h-1z"/><path fill="#00e5ff" d="M4 0h1v1h-1zM13 0h1v1h-1zM14 0h1v1h-1zM16 0h1v1h-1zM0 1h1v1h-1zM3 1h1v1h-1zM1 2h1v1h-1zM8 2h1v1h-1zM13 2h1v1h-1zM16 2h1v1h-1zM0 3h1v1h-1zM2 3h1v1h-1zM4 3h1v1h-1zM1 4h1v1h-1zM5 4h1v1h-1zM9 5h1v1h-1zM0 6h1v1h-1zM1 6h1v1h-1zM8 6h1v1h-1zM10 6h1v1h-1zM15 6h1v1h-1zM16 6h1v1h-1zM1 7h1v1h-1zM4 7h1v1h-1zM9 7h1v1h-1zM10 7h1v1h-1zM12 7h1v1h-1zM14 7h1v1h-1zM11 8h1v1h-1zM12 8h1v1h-1zM14 8h1v1h-1zM15 8h1v1h-1zM6 9h1v1h-1zM11 10h1v1h-1zM12 10h1v1h-1zM14 10h1v1h-1zM16 10h1v1h-1zM4 11h1v1h-1zM7 11h1v1h-1zM10 11h1v1h-1zM3 13h1v1h-1zM7 13h1v1h-1zM11 13h1v1h-1zM14 13h1v1h-1zM7 14h1v1h-1zM10 14h1v1h-1zM9 15h1v1h-1zM13 15h1v1h-1zM15 15h1v1h-1zM2 16h1v1h-1zM4 16h1v1h-1zM5 16h1v1h-1zM11 16h1v1h-1zM2 17h1v1h-1zM3 17h1v1h-1zM4 17h1v1h-1zM6 17h1v1h-1zM8 17h1v1h-1zM10 17h1v1h-1zM11 17h1v1h-1zM12 17h1v1h-1zM13 17h1v1h-1z"/><path fill="#00ffff" d="M6 0h1v1h-1zM12 0h1v1h-1zM9 1h1v1h-1zM11 1h1v1h-1zM16 1h1v1h-1zM4 2h1v1h-1zM15 2h1v1h-1zM8 3h1v1h-1zM12 3h1v1h-1zM0 4h1v1h-1zM7 4h1v1h-1zM8 4h1v1h-1zM11 4h1v1h-1zM2 5h1v1h-1zM6 5h1v1h-1zM8 5h1v1h-1zM14 5h1v1h-1zM15 5h1v1h-1zM5 6h1v1h-1zM7 6h1v1h-1zM6 7h1v1h-1zM8 7h1v1h-1zM11 7h1v1h-1zM13 7h1v1h-1zM15 7h1v1h-1zM2 8h1v1h-1zM7 8h1v1h-1zM9 8h1v1h-1zM16 8h1v1h-1zM3 9h1v1h-1zM7 9h1v1h-1zM8 9h1v1h-1zM10 9h1v1h-1zM11 9h1v1h-1zM14 9h1v1h-1zM15 9h1v1h-1zM16 9h1v1h-1zM0 10h1v1h-1zM4 10h1v1h-1zM7 10h1v1h-1zM9 10h1v1h-1zM13 10h1v1h-1zM15 10h1v1h-1zM1 11h1v1h-1zM2 11h1v1h-1zM5 11h1v1h-1zM12 11h1v1h-1zM0 12h1v1h-1zM3 12h1v1h-1zM4 12h1v1h-1zM12 12h1v1h-1zM14 12h1v1h-1zM1 13h1v1h-1zM6 13h1v1h-1zM9 13h1v1h-1zM13 13h1v1h-1zM15 13h1v1h-1zM16 13h1v1h-1zM6 14h1v1h-1zM14 14h1v1h-1zM0 15h1v1h-1zM1 15h1v1h-1zM2 15h1v1h-1zM3 15h1v1h-1zM16 15h1v1h-1zM1 16h1v1h-1zM13 16h1v1h-1zM14 16h1v1h-1zM0 17h1v1h-1zM1 17h1v1h-1zM5 17h1v1h-1zM7 17h1v1h-1z"/><path fill="#00b2ff" d="M8 0h1v1h-1zM10 1h1v1h-1zM12 1h1v1h-1zM4 4h1v1h-1zM10 4h1v1h-1zM14 4h1v1h-1zM9 9h1v1h-1zM6 10h1v1h-1zM6 12h1v1h-1zM9 12h1v1h-1zM0 13h1v1h-1zM1 14h1v1h-1zM10 16h1v1h-1z"/><path fill="#4cffb2" d="M9 0h1v1h-1zM10 0h1v1h-1zM14 1h1v1h-1zM10 3h1v1h-1zM11 6h1v1h-1zM13 6h1v1h-1zM16 7h1v1h-1zM3 8h1v1h-1zM4 8h1v1h-1zM10 8h1v1h-1zM5 9h1v1h-1zM13 9h1v1h-1zM2 10h1v1h-1zM7 12h1v1h-1zM5 15h1v1h-1zM6 16h1v1h-1zM9 16h1v1h-1z"/><path fill="#65ff99" d="M7 1h1v1h-1zM16 16h1v1h-1z"/><path fill="#0099ff" d="M5 2h1v1h-1zM11 2h1v1h-1zM2 4h1v1h-1zM11 5h1v1h-1zM8 8h1v1h-1zM5 10h1v1h-1zM8 10h1v1h-1zM3 11h1v1h-1zM5 12h1v1h-1z"/><path fill="#7fff7f" d="M16 5h1v1h-1zM14 11h1v1h-1z"/></g>
<g transform="translate(544.55 28.00) scale(3.3706 3.3333)" shape-rendering="crispEdges"><path fill="#cbff33" d="M0 0h1v1h-1zM4 0h1v1h-1zM9 0h1v1h-1zM6 2h1v1h-1zM9 3h1v1h-1zM4 4h1v1h-1zM12 5h1v1h-1zM2 6h1v1h-1zM6 6h1v1h-1zM3 7h1v1h-1zM6 7h1v1h-1zM12 7h1v1h-1zM15 7h1v1h-1zM5 8h1v1h-1zM14 8h1v1h-1zM2 9h1v1h-1zM5 9h1v1h-1zM14 9h1v1h-1zM9 10h1v1h-1zM16 10h1v1h-1zM5 12h1v1h-1zM9 12h1v1h-1zM12 12h1v1h-1zM0 13h1v1h-1zM4 13h1v1h-1zM13 13h1v1h-1zM2 14h1v1h-1zM4 14h1v1h-1zM15 15h1v1h-1zM0 16h1v1h-1zM7 16h1v1h-1zM8 16h1v1h-1zM12 16h1v1h-1zM16 17h1v1h-1z"/><path fill="#4cffb2" d="M1 0h1v1h-1zM5 0h1v1h-1zM10 0h1v1h-1zM11 0h1v1h-1zM0 3h1v1h-1zM2 3h1v1h-1zM0 4h1v1h-1zM2 5h1v1h-1zM15 5h1v1h-1zM10 8h1v1h-1zM15 8h1v1h-1zM16 11h1v1h-1zM1 12h1v1h-1zM1 13h1v1h-1zM3 13h1v1h-1zM9 13h1v1h-1zM11 13h1v1h-1zM13 15h1v1h-1zM10 17h1v1h-1zM12 17h1v1h-1z"/><path fill="#b2ff4c" d="M2 0h1v1h-1zM13 0h1v1h-1zM1 1h1v1h-1zM7 1h1v1h-1zM8 1h1v1h-1zM15 1h1v1h-1zM3 2h1v1h-1zM4 2h1v1h-1zM11 2h1v1h-1zM12 2h1v1h-1zM15 2h1v1h-1zM16 2h1v1h-1zM1 3h1v1h-1zM3 3h1v1h-1zM4 3h1v1h-1zM5 3h1v1h-1zM8 3h1v1h-1zM13 4h1v1h-1zM4 5h1v1h-1zM7 5h1v1h-1zM16 5h1v1h-1zM11 6h1v1h-1zM14 7h1v1h-1zM0 8h1v1h-1zM1 8h1v1h-1zM8 8h1v1h-1zM7 9h1v1h-1zM15 9h1v1h-1zM10 10h1v1h-1zM11 10h1v1h-1zM13 10h1v1h-1zM0 11h1v1h-1zM1 11h1v1h-1zM4 11h1v1h-1zM14 11h1v1h-1zM2 12h1v1h-1zM10 12h1v1h-1zM7 13h1v1h-1zM0 14h1v1h-1zM3 14h1v1h-1zM7 14h1v1h-1zM11 14h1v1h-1zM12 14h1v1h-1zM5 15h1v1h-1zM6 15h1v1h-1zM10 15h1v1h-1zM12 15h1v1h-1zM3 16h1v1h-1zM1 17h1v1h-1zM4 17h1v1h-1zM6 17h1v1h-1zM14 17h1v1h-1z"/><path fill="#65ff99" d="M3 0h1v1h-1zM14 0h1v1h-1zM3 1h1v1h-1zM7 2h1v1h-1zM2 4h1v1h-1zM16 4h1v1h-1zM10 5h1v1h-1zM0 6h1v1h-1zM8 6h1v1h-1zM14 6h1v1h-1zM7 7h1v1h-1zM9 7h1v1h-1zM13 7h1v1h-1zM9 8h1v1h-1zM11 8h1v1h-1zM11 9h1v1h-1zM12 9h1v1h-1zM13 9h1v1h-1zM16 9h1v1h-1zM3 10h1v1h-1zM4 10h1v1h-1zM15 10h1v1h-1zM7 11h1v1h-1zM12 11h1v1h-1zM13 11h1v1h-1zM15 12h1v1h-1zM5 13h1v1h-1zM15 13h1v1h-1zM8 14h1v1h-1zM14 14h1v1h-1zM1 15h1v1h-1zM4 15h1v1h-1zM14 15h1v1h-1zM16 15h1v1h-1zM10 16h1v1h-1zM15 16h1v1h-1zM2 17h1v1h-1zM7 17h1v1h-1zM8 17h1v1h-1z"/><path fill="#7fff7f" d="M6 0h1v1h-1zM7 0h1v1h-1zM12 0h1v1h-1zM0 1h1v1h-1zM4 1h1v1h-1zM10 1h1v1h-1zM0 2h1v1h-1zM2 2h1v1h-1zM10 3h1v1h-1zM11 3h1v1h-1zM14 3h1v1h-1zM15 3h1v1h-1zM1 4h1v1h-1zM8 4h1v1h-1zM11 4h1v1h-1zM12 4h1v1h-1zM3 5h1v1h-1zM5 5h1v1h-1zM8 5h1v1h-1zM11 5h1v1h-1zM1 6h1v1h-1zM4 6h1v1h-1zM5 6h1v1h-1zM7 6h1v1h-1zM5 7h1v1h-1zM8 7h1v1h-1zM11 7h1v1h-1zM3 8h1v1h-1zM4 8h1v1h-1zM16 8h1v1h-1zM1 9h1v1h-1zM8 9h1v1h-1zM0 10h1v1h-1zM2 10h1v1h-1zM6 10h1v1h-1zM8 10h1v1h-1zM14 10h1v1h-1zM2 11h1v1h-1zM5 11h1v1h-1zM9 11h1v1h-1zM10 11h1v1h-1zM11 11h1v1h-1zM3 12h1v1h-1zM11 12h1v1h-1zM14 12h1v1h-1zM10 13h1v1h-1zM1 14h1v1h-1zM5 14h1v1h-1zM10 14h1v1h-1zM16 14h1v1h-1zM2 15h1v1h-1zM3 15h1v1h-1zM9 15h1v1h-1zM2 16h1v1h-1zM13 16h1v1h-1zM3 17h1v1h-1zM11 17h1v1h-1zM13 17h1v1h-1zM15 17h1v1h-1z"/><path fill="#32ffcc" d="M8 0h1v1h-1zM9 1h1v1h-1zM10 2h1v1h-1zM6 3h1v1h-1zM14 5h1v1h-1zM12 10h1v1h-1zM6 12h1v1h-1zM14 13h1v1h-1z"/><path fill="#ffff00" d="M15 0h1v1h-1zM12 1h1v1h-1zM12 3h1v1h-1zM10 4h1v1h-1zM12 8h1v1h-1zM3 11h1v1h-1zM6 11h1v1h-1zM7 12h1v1h-1zM6 16h1v1h-1z"/><path fill="#99ff65" d="M16 0h1v1h-1zM2 1h1v1h-1zM5 1h1v1h-1zM11 1h1v1h-1zM14 1h1v1h-1zM16 1h1v1h-1zM1 2h1v1h-1zM5 2h1v1h-1zM8 2h1v1h-1zM9 2h1v1h-1zM14 2h1v1h-1zM13 3h1v1h-1zM5 4h1v1h-1zM6 4h1v1h-1zM7 4h1v1h-1zM9 4h1v1h-1zM0 5h1v1h-1zM1 5h1v1h-1zM9 5h1v1h-1zM13 5h1v1h-1zM3 6h1v1h-1zM9 6h1v1h-1zM15 6h1v1h-1zM16 6h1v1h-1zM0 7h1v1h-1zM16 7h1v1h-1zM2 8h1v1h-1zM6 8h1v1h-1zM7 8h1v1h-1zM13 8h1v1h-1zM0 9h1v1h-1zM3 9h1v1h-1zM4 9h1v1h-1zM9 9h1v1h-1zM1 10h1v1h-1zM5 10h1v1h-1zM7 10h1v1h-1zM15 11h1v1h-1zM0 12h1v1h-1zM4 12h1v1h-1zM13 12h1v1h-1zM2 13h1v1h-1zM6 13h1v1h-1zM8 13h1v1h-1zM9 14h1v1h-1zM13 14h1v1h-1zM15 14h1v1h-1zM7 15h1v1h-1zM11 15h1v1h-1zM4 16h1v1h-1zM11 16h1v1h-1zM16 16h1v1h-1zM0 17h1v1h-1zM5 17h1v1h-1z"/><path fill="#e5ff19" d="M6 1h1v1h-1zM13 1h1v1h-1zM13 2h1v1h-1zM7 3h1v1h-1zM14 4h1v1h-1zM6 5h1v1h-1zM10 6h1v1h-1zM12 6h1v1h-1zM13 6h1v1h-1zM1 7h1v1h-1zM2 7h1v1h-1zM4 7h1v1h-1zM10 7h1v1h-1zM6 9h1v1h-1zM10 9h1v1h-1zM8 11h1v1h-1zM16 12h1v1h-1zM12 13h1v1h-1zM6 14h1v1h-1zM0 15h1v1h-1zM8 15h1v1h-1zM1 16h1v1h-1zM5 16h1v1h-1zM9 16h1v1h-1zM14 16h1v1h-1z"/><path fill="#ff9900" d="M16 3h1v1h-1z"/><path fill="#ffe500" d="M3 4h1v1h-1zM16 13h1v1h-1z"/><path fill="#ffb200" d="M15 4h1v1h-1z"/><path fill="#ffcb00" d="M8 12h1v1h-1z"/><path fill="#00ffff" d="M9 17h1v1h-1z"/></g>
<g transform="translate(619.40 28.00) scale(3.3706 3.3333)" shape-rendering="crispEdges"><path fill="#e5ff19" d="M0 0h1v1h-1zM1 0h1v1h-1zM0 1h1v1h-1zM2 1h1v1h-1zM6 1h1v1h-1zM5 2h1v1h-1zM8 2h1v1h-1zM4 3h1v1h-1zM7 3h1v1h-1zM9 3h1v1h-1zM10 3h1v1h-1zM13 3h1v1h-1zM0 4h1v1h-1zM2 4h1v1h-1zM5 4h1v1h-1zM10 4h1v1h-1zM11 5h1v1h-1zM0 6h1v1h-1zM2 6h1v1h-1zM7 6h1v1h-1zM14 6h1v1h-1zM12 7h1v1h-1zM1 8h1v1h-1zM6 8h1v1h-1zM9 8h1v1h-1zM14 8h1v1h-1zM8 9h1v1h-1zM11 9h1v1h-1zM3 10h1v1h-1zM5 10h1v1h-1zM13 10h1v1h-1zM16 10h1v1h-1zM4 11h1v1h-1zM7 11h1v1h-1zM1 13h1v1h-1zM11 13h1v1h-1zM15 13h1v1h-1zM0 14h1v1h-1zM1 14h1v1h-1zM12 14h1v1h-1zM0 15h1v1h-1zM3 15h1v1h-1zM3 16h1v1h-1zM9 16h1v1h-1zM12 16h1v1h-1zM2 17h1v1h-1zM4 17h1v1h-1zM7 17h1v1h-1zM12 17h1v1h-1z"/><path fill="#b2ff4c" d="M2 0h1v1h-1zM9 0h1v1h-1zM11 0h1v1h-1zM5 1h1v1h-1zM14 1h1v1h-1zM16 1h1v1h-1zM1 2h1v1h-1zM7 2h1v1h-1zM11 2h1v1h-1zM13 2h1v1h-1zM5 3h1v1h-1zM6 3h1v1h-1zM11 3h1v1h-1zM16 3h1v1h-1zM4 4h1v1h-1zM1 5h1v1h-1zM5 6h1v1h-1zM13 6h1v1h-1zM16 6h1v1h-1zM3 7h1v1h-1zM5 7h1v1h-1zM8 7h1v1h-1zM9 7h1v1h-1zM13 8h1v1h-1zM16 8h1v1h-1zM3 9h1v1h-1zM5 9h1v1h-1zM15 9h1v1h-1zM0 10h1v1h-1zM4 10h1v1h-1zM9 10h1v1h-1zM10 10h1v1h-1zM11 10h1v1h-1zM12 10h1v1h-1zM0 11h1v1h-1zM10 11h1v1h-1zM12 11h1v1h-1zM13 11h1v1h-1zM14 11h1v1h-1zM15 11h1v1h-1zM13 12h1v1h-1zM15 12h1v1h-1zM2 13h1v1h-1zM3 13h1v1h-1zM4 13h1v1h-1zM8 13h1v1h-1zM13 13h1v1h-1zM4 14h1v1h-1zM5 14h1v1h-1zM9 14h1v1h-1zM15 14h1v1h-1zM11 16h1v1h-1zM14 16h1v1h-1zM16 16h1v1h-1zM5 17h1v1h-1zM6 17h1v1h-1zM8 17h1v1h-1zM10 17h1v1h-1zM15 17h1v1h-1z"/><path fill="#cbff33" d="M3 0h1v1h-1zM4 0h1v1h-1zM5 0h1v1h-1zM7 0h1v1h-1zM8 0h1v1h-1zM12 0h1v1h-1zM4 1h1v1h-1zM8 1h1v1h-1zM15 1h1v1h-1zM6 2h1v1h-1zM9 2h1v1h-1zM12 2h1v1h-1zM1 3h1v1h-1zM3 3h1v1h-1zM14 3h1v1h-1zM15 3h1v1h-1zM8 4h1v1h-1zM3 5h1v1h-1zM4 5h1v1h-1zM9 5h1v1h-1zM16 5h1v1h-1zM1 6h1v1h-1zM3 6h1v1h-1zM4 6h1v1h-1zM6 6h1v1h-1zM12 6h1v1h-1zM0 8h1v1h-1zM5 8h1v1h-1zM15 8h1v1h-1zM0 9h1v1h-1zM2 9h1v1h-1zM9 9h1v1h-1zM13 9h1v1h-1zM1 10h1v1h-1zM2 10h1v1h-1zM8 10h1v1h-1zM6 11h1v1h-1zM9 11h1v1h-1zM11 11h1v1h-1zM2 12h1v1h-1zM3 12h1v1h-1zM10 12h1v1h-1zM14 12h1v1h-1zM7 13h1v1h-1zM10 13h1v1h-1zM6 14h1v1h-1zM10 14h1v1h-1zM11 14h1v1h-1zM13 14h1v1h-1zM7 15h1v1h-1zM11 15h1v1h-1zM4 16h1v1h-1zM5 16h1v1h-1zM7 16h1v1h-1zM8 16h1v1h-1zM9 17h1v1h-1zM13 17h1v1h-1z"/><path fill="#ffb200" d="M6 0h1v1h-1zM15 2h1v1h-1zM1 4h1v1h-1zM13 5h1v1h-1zM4 9h1v1h-1zM6 13h1v1h-1z"/><path fill="#ffff00" d="M10 0h1v1h-1zM13 0h1v1h-1zM14 0h1v1h-1zM1 1h1v1h-1zM9 1h1v1h-1zM0 2h1v1h-1zM2 2h1v1h-1zM3 4h1v1h-1zM9 4h1v1h-1zM12 4h1v1h-1zM13 4h1v1h-1zM2 5h1v1h-1zM8 5h1v1h-1zM10 5h1v1h-1zM15 5h1v1h-1zM8 6h1v1h-1zM4 7h1v1h-1zM7 7h1v1h-1zM10 7h1v1h-1zM16 7h1v1h-1zM2 8h1v1h-1zM4 8h1v1h-1zM8 8h1v1h-1zM7 9h1v1h-1zM12 9h1v1h-1zM14 10h1v1h-1zM0 12h1v1h-1zM6 12h1v1h-1zM7 12h1v1h-1zM0 13h1v1h-1zM1 15h1v1h-1zM6 15h1v1h-1zM10 15h1v1h-1zM12 15h1v1h-1zM13 15h1v1h-1zM0 16h1v1h-1zM2 16h1v1h-1zM11 17h1v1h-1zM16 17h1v1h-1z"/><path fill="#99ff65" d="M15 0h1v1h-1zM14 2h1v1h-1zM6 4h1v1h-1zM15 4h1v1h-1zM16 4h1v1h-1zM0 5h1v1h-1zM5 5h1v1h-1zM6 5h1v1h-1zM7 5h1v1h-1zM12 5h1v1h-1zM2 7h1v1h-1zM6 7h1v1h-1zM10 8h1v1h-1zM11 8h1v1h-1zM12 8h1v1h-1zM16 9h1v1h-1zM6 10h1v1h-1zM7 10h1v1h-1zM1 11h1v1h-1zM2 11h1v1h-1zM12 12h1v1h-1zM16 12h1v1h-1zM5 13h1v1h-1zM12 13h1v1h-1zM8 14h1v1h-1zM2 15h1v1h-1zM4 15h1v1h-1zM8 15h1v1h-1zM15 16h1v1h-1zM0 17h1v1h-1zM14 17h1v1h-1z"/><path fill="#ffcb00" d="M16 0h1v1h-1zM3 1h1v1h-1zM8 3h1v1h-1zM11 4h1v1h-1zM3 8h1v1h-1zM14 9h1v1h-1zM5 11h1v1h-1zM16 11h1v1h-1zM4 12h1v1h-1zM8 12h1v1h-1zM9 12h1v1h-1zM16 13h1v1h-1zM16 14h1v1h-1zM10 16h1v1h-1zM13 16h1v1h-1z"/><path fill="#ffe500" d="M7 1h1v1h-1zM10 1h1v1h-1zM12 1h1v1h-1zM13 1h1v1h-1zM3 2h1v1h-1zM16 2h1v1h-1zM0 3h1v1h-1zM12 3h1v1h-1zM7 4h1v1h-1zM9 6h1v1h-1zM15 6h1v1h-1zM0 7h1v1h-1zM1 7h1v1h-1zM13 7h1v1h-1zM14 7h1v1h-1zM1 9h1v1h-1zM10 9h1v1h-1zM15 10h1v1h-1zM9 13h1v1h-1zM2 14h1v1h-1zM3 14h1v1h-1zM7 14h1v1h-1zM14 14h1v1h-1zM14 15h1v1h-1zM3 17h1v1h-1z"/><path fill="#7fff7f" d="M11 1h1v1h-1zM4 2h1v1h-1zM10 2h1v1h-1zM14 4h1v1h-1zM10 6h1v1h-1zM15 7h1v1h-1zM7 8h1v1h-1zM3 11h1v1h-1zM1 12h1v1h-1zM5 12h1v1h-1zM11 12h1v1h-1zM14 13h1v1h-1zM5 15h1v1h-1zM6 16h1v1h-1zM1 17h1v1h-1z"/><path fill="#65ff99" d="M2 3h1v1h-1zM14 5h1v1h-1zM11 6h1v1h-1zM8 11h1v1h-1zM9 15h1v1h-1zM15 15h1v1h-1zM1 16h1v1h-1z"/><path fill="#ff9900" d="M11 7h1v1h-1z"/><path fill="#ff7f00" d="M6 9h1v1h-1z"/><path fill="#32ffcc" d="M16 15h1v1h-1z"/></g>
<g transform="translate(320.00 119.00) scale(3.3706 3.3333)" shape-rendering="crispEdges"><path fill="#00b2ff" d="M0 0h1v1h-1zM1 0h1v1h-1zM6 0h1v1h-1zM1 1h1v1h-1zM13 1h1v1h-1zM4 2h1v1h-1zM6 2h1v1h-1zM7 2h1v1h-1zM11 2h1v1h-1zM12 2h1v1h-1zM15 2h1v1h-1zM16 2h1v1h-1zM1 3h1v1h-1zM6 3h1v1h-1zM10 4h1v1h-1zM12 4h1v1h-1zM1 5h1v1h-1zM1 7h1v1h-1zM2 7h1v1h-1zM12 7h1v1h-1zM0 8h1v1h-1zM13 8h1v1h-1zM16 8h1v1h-1zM3 9h1v1h-1zM11 9h1v1h-1zM14 9h1v1h-1zM0 10h1v1h-1zM5 10h1v1h-1zM7 10h1v1h-1zM10 10h1v1h-1zM1 11h1v1h-1zM4 11h1v1h-1zM11 11h1v1h-1zM2 12h1v1h-1zM6 12h1v1h-1zM7 12h1v1h-1zM14 12h1v1h-1zM15 12h1v1h-1zM9 13h1v1h-1zM10 13h1v1h-1zM16 13h1v1h-1zM2 14h1v1h-1zM7 14h1v1h-1zM9 14h1v1h-1zM12 14h1v1h-1zM13 14h1v1h-1zM14 15h1v1h-1zM6 16h1v1h-1zM9 16h1v1h-1zM15 16h1v1h-1zM1 17h1v1h-1zM3 17h1v1h-1zM11 17h1v1h-1z"/><path fill="#00ccff" d="M2 0h1v1h-1zM7 0h1v1h-1zM12 0h1v1h-1zM5 1h1v1h-1zM9 1h1v1h-1zM10 1h1v1h-1zM11 1h1v1h-1zM15 1h1v1h-1zM1 2h1v1h-1zM5 2h1v1h-1zM8 3h1v1h-1zM11 4h1v1h-1zM13 4h1v1h-1zM2 5h1v1h-1zM3 5h1v1h-1zM7 5h1v1h-1zM14 5h1v1h-1zM0 6h1v1h-1zM1 6h1v1h-1zM2 6h1v1h-1zM9 6h1v1h-1zM13 6h1v1h-1zM9 7h1v1h-1zM15 7h1v1h-1zM1 8h1v1h-1zM2 8h1v1h-1zM10 8h1v1h-1zM11 8h1v1h-1zM12 8h1v1h-1zM1 9h1v1h-1zM8 9h1v1h-1zM9 9h1v1h-1zM14 10h1v1h-1zM16 10h1v1h-1zM5 11h1v1h-1zM7 11h1v1h-1zM9 11h1v1h-1zM10 11h1v1h-1zM15 11h1v1h-1zM11 12h1v1h-1zM2 13h1v1h-1zM7 13h1v1h-1zM9 15h1v1h-1zM13 15h1v1h-1zM1 16h1v1h-1zM8 16h1v1h-1zM14 16h1v1h-1zM9 17h1v1h-1zM10 17h1v1h-1zM12 17h1v1h-1zM13 17h1v1h-1z"/><path fill="#0099ff" d="M3 0h1v1h-1zM5 0h1v1h-1zM11 0h1v1h-1zM13 0h1v1h-1zM15 0h1v1h-1zM2 1h1v1h-1zM7 1h1v1h-1zM8 1h1v1h-1zM16 1h1v1h-1zM3 2h1v1h-1zM8 2h1v1h-1zM9 2h1v1h-1zM10 2h1v1h-1zM0 3h1v1h-1zM2 3h1v1h-1zM4 3h1v1h-1zM9 3h1v1h-1zM10 3h1v1h-1zM11 3h1v1h-1zM13 3h1v1h-1zM0 4h1v1h-1zM1 4h1v1h-1zM2 4h1v1h-1zM4 4h1v1h-1zM8 4h1v1h-1zM9 4h1v1h-1zM16 4h1v1h-1zM6 5h1v1h-1zM8 5h1v1h-1zM12 5h1v1h-1zM16 5h1v1h-1zM3 6h1v1h-1zM4 6h1v1h-1zM10 6h1v1h-1zM14 6h1v1h-1zM15 6h1v1h-1zM16 6h1v1h-1zM0 7h1v1h-1zM6 7h1v1h-1zM11 7h1v1h-1zM13 7h1v1h-1zM14 7h1v1h-1zM5 8h1v1h-1zM0 9h1v1h-1zM2 9h1v1h-1zM12 9h1v1h-1zM15 9h1v1h-1zM15 10h1v1h-1zM2 11h1v1h-1zM13 11h1v1h-1zM14 11h1v1h-1zM16 11h1v1h-1zM0 12h1v1h-1zM1 12h1v1h-1zM3 12h1v1h-1zM8 12h1v1h-1zM0 13h1v1h-1zM11 13h1v1h-1zM13 13h1v1h-1zM6 14h1v1h-1zM8 14h1v1h-1zM10 14h1v1h-1zM0 15h1v1h-1zM6 15h1v1h-1zM15 15h1v1h-1zM11 16h1v1h-1zM16 16h1v1h-1zM0 17h1v1h-1zM2 17h1v1h-1zM4 17h1v1h-1zM6 17h1v1h-1zM7 17h1v1h-1z"/><path fill="#0066ff" d="M4 0h1v1h-1zM9 0h1v1h-1zM16 0h1v1h-1zM3 1h1v1h-1zM4 1h1v1h-1zM0 2h1v1h-1zM15 3h1v1h-1zM7 4h1v1h-1zM14 4h1v1h-1zM15 5h1v1h-1zM5 6h1v1h-1zM10 7h1v1h-1zM16 7h1v1h-1zM4 8h1v1h-1zM6 9h1v1h-1zM10 9h1v1h-1zM8 10h1v1h-1zM13 10h1v1h-1zM0 11h1v1h-1zM12 11h1v1h-1zM4 12h1v1h-1zM5 12h1v1h-1zM12 12h1v1h-1zM4 13h1v1h-1zM8 13h1v1h-1zM0 14h1v1h-1zM4 14h1v1h-1zM2 15h1v1h-1zM5 15h1v1h-1zM13 16h1v1h-1zM8 17h1v1h-1zM15 17h1v1h-1zM16 17h1v1h-1z"/><path fill="#00e5ff" d="M8 0h1v1h-1zM6 1h1v1h-1zM12 1h1v1h-1zM2 2h1v1h-1zM3 3h1v1h-1zM12 3h1v1h-1zM6 4h1v1h-1zM15 4h1v1h-1zM0 5h1v1h-1zM4 5h1v1h-1zM11 5h1v1h-1zM7 7h1v1h-1zM4 9h1v1h-1zM13 9h1v1h-1zM3 10h1v1h-1zM9 10h1v1h-1zM3 11h1v1h-1zM6 11h1v1h-1zM9 12h1v1h-1zM16 12h1v1h-1zM3 13h1v1h-1zM12 13h1v1h-1zM11 14h1v1h-1zM7 15h1v1h-1zM12 15h1v1h-1zM4 16h1v1h-1zM10 16h1v1h-1z"/><path fill="#007fff" d="M10 0h1v1h-1zM14 0h1v1h-1zM0 1h1v1h-1zM13 2h1v1h-1zM14 2h1v1h-1zM7 3h1v1h-1zM16 3h1v1h-1zM3 4h1v1h-1zM5 5h1v1h-1zM10 5h1v1h-1zM6 6h1v1h-1zM7 6h1v1h-1zM8 6h1v1h-1zM11 6h1v1h-1zM12 6h1v1h-1zM3 7h1v1h-1zM4 7h1v1h-1zM5 7h1v1h-1zM8 7h1v1h-1zM3 8h1v1h-1zM6 8h1v1h-1zM7 8h1v1h-1zM8 8h1v1h-1zM14 8h1v1h-1zM15 8h1v1h-1zM5 9h1v1h-1zM7 9h1v1h-1zM2 10h1v1h-1zM4 10h1v1h-1zM6 10h1v1h-1zM11 10h1v1h-1zM12 10h1v1h-1zM8 11h1v1h-1zM10 12h1v1h-1zM13 12h1v1h-1zM1 13h1v1h-1zM1 14h1v1h-1zM3 14h1v1h-1zM5 14h1v1h-1zM14 14h1v1h-1zM15 14h1v1h-1zM16 14h1v1h-1zM3 15h1v1h-1zM4 15h1v1h-1zM8 15h1v1h-1zM10 15h1v1h-1zM2 16h1v1h-1zM5 16h1v1h-1zM7 16h1v1h-1zM12 16h1v1h-1zM14 17h1v1h-1z"/><path fill="#004cff" d="M14 1h1v1h-1zM13 5h1v1h-1zM9 8h1v1h-1zM6 13h1v1h-1zM0 16h1v1h-1zM3 16h1v1h-1z"/><path fill="#19ffe5" d="M5 3h1v1h-1zM14 13h1v1h-1z"/><path fill="#00ffff" d="M14 3h1v1h-1zM9 5h1v1h-1zM16 9h1v1h-1zM1 10h1v1h-1zM16 15h1v1h-1zM5 17h1v1h-1z"/><path fill="#0032ff" d="M5 4h1v1h-1zM5 13h1v1h-1zM1 15h1v1h-1z"/><path fill="#4cffb2" d="M15 13h1v1h-1z"/><path fill="#32ffcc" d="M11 15h1v1h-1z"/></g>
<g transform="translate(394.85 119.00) scale(3.3706 3.3333)" shape-rendering="crispEdges"><path fill="#0099ff" d="M0 0h1v1h-1zM14 0h1v1h-1zM9 1h1v1h-1zM1 2h1v1h-1zM3 2h1v1h-1zM5 2h1v1h-1zM6 2h1v1h-1zM7 2h1v1h-1zM12 2h1v1h-1zM15 2h1v1h-1zM0 3h1v1h-1zM6 3h1v1h-1zM7 3h1v1h-1zM15 3h1v1h-1zM0 4h1v1h-1zM4 4h1v1h-1zM8 4h1v1h-1zM14 4h1v1h-1zM3 5h1v1h-1zM5 5h1v1h-1zM11 5h1v1h-1zM5 6h1v1h-1zM10 6h1v1h-1zM11 6h1v1h-1zM0 7h1v1h-1zM2 7h1v1h-1zM4 7h1v1h-1zM8 7h1v1h-1zM11 7h1v1h-1zM13 7h1v1h-1zM15 7h1v1h-1zM0 9h1v1h-1zM6 9h1v1h-1zM12 9h1v1h-1zM14 9h1v1h-1zM2 10h1v1h-1zM10 10h1v1h-1zM11 10h1v1h-1zM13 10h1v1h-1zM15 10h1v1h-1zM3 11h1v1h-1zM4 11h1v1h-1zM6 11h1v1h-1zM7 11h1v1h-1zM10 11h1v1h-1zM1 12h1v1h-1zM5 12h1v1h-1zM10 12h1v1h-1zM11 12h1v1h-1zM0 13h1v1h-1zM3 13h1v1h-1zM1 14h1v1h-1zM4 14h1v1h-1zM12 14h1v1h-1zM13 14h1v1h-1zM5 15h1v1h-1zM7 15h1v1h-1zM9 15h1v1h-1zM10 15h1v1h-1zM16 15h1v1h-1zM0 16h1v1h-1zM1 16h1v1h-1zM7 16h1v1h-1zM9 16h1v1h-1zM14 16h1v1h-1zM15 16h1v1h-1zM4 17h1v1h-1zM6 17h1v1h-1zM9 17h1v1h-1z"/><path fill="#007fff" d="M1 0h1v1h-1zM3 0h1v1h-1zM8 0h1v1h-1zM9 0h1v1h-1zM11 0h1v1h-1zM12 0h1v1h-1zM16 0h1v1h-1zM2 1h1v1h-1zM7 1h1v1h-1zM12 1h1v1h-1zM16 2h1v1h-1zM1 3h1v1h-1zM3 3h1v1h-1zM8 3h1v1h-1zM16 3h1v1h-1zM5 4h1v1h-1zM13 4h1v1h-1zM15 4h1v1h-1zM6 5h1v1h-1zM16 5h1v1h-1zM3 6h1v1h-1zM13 6h1v1h-1zM5 7h1v1h-1zM10 7h1v1h-1zM6 8h1v1h-1zM11 8h1v1h-1zM15 8h1v1h-1zM1 9h1v1h-1zM8 9h1v1h-1zM3 10h1v1h-1zM9 10h1v1h-1zM12 10h1v1h-1zM8 11h1v1h-1zM11 11h1v1h-1zM12 11h1v1h-1zM13 11h1v1h-1zM15 11h1v1h-1zM4 12h1v1h-1zM14 13h1v1h-1zM0 14h1v1h-1zM14 14h1v1h-1zM15 14h1v1h-1zM2 15h1v1h-1zM8 15h1v1h-1zM13 15h1v1h-1zM14 15h1v1h-1zM16 16h1v1h-1zM1 17h1v1h-1zM2 17h1v1h-1zM5 17h1v1h-1zM12 17h1v1h-1zM13 17h1v1h-1zM14 17h1v1h-1zM15 17h1v1h-1z"/><path fill="#00b2ff" d="M2 0h1v1h-1zM4 0h1v1h-1zM6 0h1v1h-1zM13 0h1v1h-1zM15 0h1v1h-1zM4 1h1v1h-1zM13 1h1v1h-1zM15 1h1v1h-1zM8 2h1v1h-1zM2 3h1v1h-1zM5 3h1v1h-1zM9 3h1v1h-1zM10 3h1v1h-1zM12 3h1v1h-1zM2 4h1v1h-1zM3 4h1v1h-1zM7 4h1v1h-1zM9 4h1v1h-1zM16 4h1v1h-1zM0 5h1v1h-1zM1 5h1v1h-1zM7 5h1v1h-1zM14 5h1v1h-1zM0 6h1v1h-1zM6 6h1v1h-1zM15 6h1v1h-1zM9 7h1v1h-1zM2 8h1v1h-1zM4 8h1v1h-1zM7 8h1v1h-1zM9 8h1v1h-1zM14 8h1v1h-1zM16 8h1v1h-1zM2 9h1v1h-1zM4 9h1v1h-1zM9 9h1v1h-1zM15 9h1v1h-1zM16 9h1v1h-1zM5 10h1v1h-1zM7 10h1v1h-1zM14 10h1v1h-1zM0 11h1v1h-1zM1 11h1v1h-1zM7 12h1v1h-1zM8 12h1v1h-1zM12 12h1v1h-1zM1 13h1v1h-1zM2 13h1v1h-1zM6 13h1v1h-1zM9 13h1v1h-1zM12 13h1v1h-1zM5 14h1v1h-1zM16 14h1v1h-1zM6 15h1v1h-1zM11 15h1v1h-1zM15 15h1v1h-1zM2 16h1v1h-1zM4 16h1v1h-1zM8 16h1v1h-1zM10 16h1v1h-1zM11 16h1v1h-1zM8 17h1v1h-1z"/><path fill="#00ffff" d="M5 0h1v1h-1zM4 3h1v1h-1zM2 6h1v1h-1zM12 6h1v1h-1zM14 6h1v1h-1zM2 11h1v1h-1zM13 16h1v1h-1z"/><path fill="#00ccff" d="M7 0h1v1h-1zM10 0h1v1h-1zM0 1h1v1h-1zM6 1h1v1h-1zM8 1h1v1h-1zM10 1h1v1h-1zM11 1h1v1h-1zM14 1h1v1h-1zM16 1h1v1h-1zM0 2h1v1h-1zM11 2h1v1h-1zM14 2h1v1h-1zM13 3h1v1h-1zM14 3h1v1h-1zM1 4h1v1h-1zM4 5h1v1h-1zM13 5h1v1h-1zM15 5h1v1h-1zM1 6h1v1h-1zM4 6h1v1h-1zM16 6h1v1h-1zM3 7h1v1h-1zM6 7h1v1h-1zM12 7h1v1h-1zM0 8h1v1h-1zM1 8h1v1h-1zM3 8h1v1h-1zM8 8h1v1h-1zM12 8h1v1h-1zM3 9h1v1h-1zM10 9h1v1h-1zM0 10h1v1h-1zM16 10h1v1h-1zM5 11h1v1h-1zM9 11h1v1h-1zM14 11h1v1h-1zM16 11h1v1h-1zM2 12h1v1h-1zM14 12h1v1h-1zM16 12h1v1h-1zM4 13h1v1h-1zM5 13h1v1h-1zM7 13h1v1h-1zM8 13h1v1h-1zM10 13h1v1h-1zM11 13h1v1h-1zM13 13h1v1h-1zM15 13h1v1h-1zM16 13h1v1h-1zM2 14h1v1h-1zM8 14h1v1h-1zM0 15h1v1h-1zM3 15h1v1h-1zM12 15h1v1h-1zM12 16h1v1h-1zM0 17h1v1h-1zM11 17h1v1h-1z"/><path fill="#004cff" d="M1 1h1v1h-1zM2 2h1v1h-1zM10 2h1v1h-1zM11 3h1v1h-1zM16 17h1v1h-1z"/><path fill="#0066ff" d="M3 1h1v1h-1zM5 1h1v1h-1zM13 2h1v1h-1zM6 4h1v1h-1zM11 4h1v1h-1zM8 5h1v1h-1zM12 5h1v1h-1zM8 6h1v1h-1zM9 6h1v1h-1zM1 7h1v1h-1zM14 7h1v1h-1zM16 7h1v1h-1zM5 8h1v1h-1zM13 9h1v1h-1zM4 10h1v1h-1zM15 12h1v1h-1zM3 14h1v1h-1zM9 14h1v1h-1zM10 14h1v1h-1zM11 14h1v1h-1zM4 15h1v1h-1zM3 16h1v1h-1zM5 16h1v1h-1zM6 16h1v1h-1zM10 17h1v1h-1z"/><path fill="#00e5ff" d="M4 2h1v1h-1zM9 2h1v1h-1zM12 4h1v1h-1zM2 5h1v1h-1zM9 5h1v1h-1zM10 5h1v1h-1zM7 6h1v1h-1zM10 8h1v1h-1zM11 9h1v1h-1zM1 10h1v1h-1zM6 10h1v1h-1zM8 10h1v1h-1zM0 12h1v1h-1zM3 12h1v1h-1zM9 12h1v1h-1zM7 14h1v1h-1zM1 15h1v1h-1zM7 17h1v1h-1z"/><path fill="#19ffe5" d="M10 4h1v1h-1zM6 12h1v1h-1zM13 12h1v1h-1zM6 14h1v1h-1z"/><path fill="#0032ff" d="M7 7h1v1h-1zM13 8h1v1h-1zM3 17h1v1h-1z"/><path fill="#99ff65" d="M5 9h1v1h-1z"/><path fill="#32ffcc" d="M7 9h1v1h-1z"/></g>
<g transform="translate(469.70 119.00) scale(3.3706 3.3333)" shape-rendering="crispEdges"><path fill="#00ccff" d="M0 0h1v1h-1zM4 0h1v1h-1zM6 0h1v1h-1zM11 0h1v1h-1zM13 0h1v1h-1zM14 0h1v1h-1zM16 0h1v1h-1zM14 1h1v1h-1zM0 2h1v1h-1zM10 2h1v1h-1zM15 2h1v1h-1zM16 2h1v1h-1zM8 3h1v1h-1zM13 3h1v1h-1zM10 4h1v1h-1zM11 4h1v1h-1zM14 4h1v1h-1zM8 5h1v1h-1zM10 5h1v1h-1zM4 6h1v1h-1zM5 6h1v1h-1zM1 7h1v1h-1zM4 7h1v1h-1zM3 8h1v1h-1zM6 8h1v1h-1zM9 8h1v1h-1zM8 10h1v1h-1zM11 11h1v1h-1zM15 11h1v1h-1zM5 12h1v1h-1zM11 12h1v1h-1zM11 13h1v1h-1zM2 14h1v1h-1zM8 15h1v1h-1zM2 16h1v1h-1zM14 16h1v1h-1zM15 16h1v1h-1zM11 17h1v1h-1zM13 17h1v1h-1z"/><path fill="#19ffe5" d="M1 0h1v1h-1zM0 1h1v1h-1zM3 1h1v1h-1zM4 1h1v1h-1zM7 1h1v1h-1zM13 1h1v1h-1zM16 1h1v1h-1zM2 2h1v1h-1zM8 2h1v1h-1zM12 2h1v1h-1zM0 3h1v1h-1zM7 3h1v1h-1zM9 3h1v1h-1zM15 3h1v1h-1zM1 4h1v1h-1zM7 4h1v1h-1zM8 4h1v1h-1zM9 4h1v1h-1zM2 5h1v1h-1zM4 5h1v1h-1zM9 5h1v1h-1zM11 6h1v1h-1zM12 6h1v1h-1zM14 6h1v1h-1zM15 6h1v1h-1zM16 6h1v1h-1zM0 7h1v1h-1zM8 7h1v1h-1zM9 7h1v1h-1zM10 8h1v1h-1zM11 9h1v1h-1zM2 10h1v1h-1zM5 10h1v1h-1zM6 10h1v1h-1zM9 10h1v1h-1zM3 11h1v1h-1zM12 12h1v1h-1zM16 12h1v1h-1zM5 13h1v1h-1zM12 13h1v1h-1zM13 13h1v1h-1zM1 14h1v1h-1zM4 14h1v1h-1zM6 14h1v1h-1zM10 14h1v1h-1zM11 14h1v1h-1zM13 14h1v1h-1zM4 15h1v1h-1zM9 15h1v1h-1zM11 15h1v1h-1zM0 16h1v1h-1zM0 17h1v1h-1zM3 17h1v1h-1zM7 17h1v1h-1zM10 17h1v1h-1zM12 17h1v1h-1zM15 17h1v1h-1z"/><path fill="#00e5ff" d="M2 0h1v1h-1zM8 0h1v1h-1zM12 0h1v1h-1zM8 1h1v1h-1zM12 1h1v1h-1zM3 2h1v1h-1zM4 2h1v1h-1zM7 2h1v1h-1zM13 2h1v1h-1zM11 3h1v1h-1zM16 3h1v1h-1zM2 4h1v1h-1zM0 5h1v1h-1zM1 5h1v1h-1zM6 5h1v1h-1zM12 5h1v1h-1zM14 5h1v1h-1zM0 6h1v1h-1zM1 6h1v1h-1zM3 6h1v1h-1zM7 6h1v1h-1zM8 6h1v1h-1zM13 6h1v1h-1zM3 7h1v1h-1zM7 7h1v1h-1zM10 7h1v1h-1zM11 7h1v1h-1zM12 7h1v1h-1zM13 7h1v1h-1zM14 7h1v1h-1zM2 8h1v1h-1zM12 8h1v1h-1zM13 8h1v1h-1zM15 8h1v1h-1zM1 9h1v1h-1zM3 9h1v1h-1zM5 9h1v1h-1zM13 9h1v1h-1zM14 9h1v1h-1zM16 9h1v1h-1zM0 10h1v1h-1zM1 10h1v1h-1zM12 10h1v1h-1zM13 10h1v1h-1zM16 10h1v1h-1zM1 11h1v1h-1zM2 11h1v1h-1zM6 11h1v1h-1zM9 11h1v1h-1zM10 11h1v1h-1zM12 11h1v1h-1zM13 11h1v1h-1zM0 12h1v1h-1zM1 12h1v1h-1zM4 12h1v1h-1zM8 12h1v1h-1zM10 12h1v1h-1zM1 13h1v1h-1zM2 13h1v1h-1zM3 13h1v1h-1zM6 13h1v1h-1zM9 13h1v1h-1zM14 13h1v1h-1zM16 14h1v1h-1zM2 15h1v1h-1zM12 15h1v1h-1zM13 15h1v1h-1zM16 15h1v1h-1zM4 16h1v1h-1zM10 16h1v1h-1zM16 16h1v1h-1zM1 17h1v1h-1zM4 17h1v1h-1zM6 17h1v1h-1zM8 17h1v1h-1zM14 17h1v1h-1z"/><path fill="#00ffff" d="M3 0h1v1h-1zM7 0h1v1h-1zM10 0h1v1h-1zM15 0h1v1h-1zM2 1h1v1h-1zM6 1h1v1h-1zM11 1h1v1h-1zM15 1h1v1h-1zM1 2h1v1h-1zM5 2h1v1h-1zM11 2h1v1h-1zM14 2h1v1h-1zM1 3h1v1h-1zM2 3h1v1h-1zM6 3h1v1h-1zM10 3h1v1h-1zM5 4h1v1h-1zM3 5h1v1h-1zM5 5h1v1h-1zM11 5h1v1h-1zM13 5h1v1h-1zM16 5h1v1h-1zM6 6h1v1h-1zM9 6h1v1h-1zM5 7h1v1h-1zM6 7h1v1h-1zM1 8h1v1h-1zM4 8h1v1h-1zM5 8h1v1h-1zM7 8h1v1h-1zM8 8h1v1h-1zM11 8h1v1h-1zM14 8h1v1h-1zM0 9h1v1h-1zM4 9h1v1h-1zM6 9h1v1h-1zM7 9h1v1h-1zM9 9h1v1h-1zM10 9h1v1h-1zM3 10h1v1h-1zM7 10h1v1h-1zM14 10h1v1h-1zM0 11h1v1h-1zM5 11h1v1h-1zM7 11h1v1h-1zM8 11h1v1h-1zM2 12h1v1h-1zM6 12h1v1h-1zM7 12h1v1h-1zM9 12h1v1h-1zM15 12h1v1h-1zM0 13h1v1h-1zM7 13h1v1h-1zM8 13h1v1h-1zM10 13h1v1h-1zM15 13h1v1h-1zM16 13h1v1h-1zM0 14h1v1h-1zM3 14h1v1h-1zM7 14h1v1h-1zM9 14h1v1h-1zM12 14h1v1h-1zM14 14h1v1h-1zM0 15h1v1h-1zM3 15h1v1h-1zM7 15h1v1h-1zM15 15h1v1h-1zM3 16h1v1h-1zM5 16h1v1h-1zM6 16h1v1h-1zM7 16h1v1h-1zM9 16h1v1h-1zM12 16h1v1h-1zM13 16h1v1h-1zM9 17h1v1h-1zM16 17h1v1h-1z"/><path fill="#4cffb2" d="M5 0h1v1h-1zM9 0h1v1h-1zM5 1h1v1h-1zM9 1h1v1h-1zM6 2h1v1h-1zM4 3h1v1h-1zM10 6h1v1h-1zM16 7h1v1h-1zM16 8h1v1h-1zM8 9h1v1h-1zM12 9h1v1h-1zM15 10h1v1h-1zM4 11h1v1h-1zM14 11h1v1h-1zM13 12h1v1h-1zM11 16h1v1h-1z"/><path fill="#00b2ff" d="M1 1h1v1h-1zM9 2h1v1h-1zM3 3h1v1h-1zM12 3h1v1h-1zM14 3h1v1h-1zM6 4h1v1h-1zM12 4h1v1h-1zM13 4h1v1h-1zM0 8h1v1h-1zM5 14h1v1h-1zM15 14h1v1h-1zM6 15h1v1h-1z"/><path fill="#0099ff" d="M10 1h1v1h-1zM10 10h1v1h-1zM8 16h1v1h-1z"/><path fill="#32ffcc" d="M5 3h1v1h-1zM0 4h1v1h-1zM3 4h1v1h-1zM4 4h1v1h-1zM15 4h1v1h-1zM16 4h1v1h-1zM7 5h1v1h-1zM15 5h1v1h-1zM2 6h1v1h-1zM2 7h1v1h-1zM15 7h1v1h-1zM2 9h1v1h-1zM15 9h1v1h-1zM16 11h1v1h-1zM3 12h1v1h-1zM14 12h1v1h-1zM4 13h1v1h-1zM8 14h1v1h-1zM1 15h1v1h-1zM5 15h1v1h-1zM10 15h1v1h-1zM14 15h1v1h-1zM2 17h1v1h-1zM5 17h1v1h-1z"/><path fill="#007fff" d="M4 10h1v1h-1z"/><path fill="#b2ff4c" d="M11 10h1v1h-1z"/><path fill="#65ff99" d="M1 16h1v1h-1z"/></g>
<g transform="translate(544.55 119.00) scale(3.3706 3.3333)" shape-rendering="crispEdges"><path fill="#7fff7f" d="M0 0h1v1h-1zM13 1h1v1h-1zM11 3h1v1h-1zM9 4h1v1h-1zM11 6h1v1h-1zM14 6h1v1h-1zM16 6h1v1h-1zM12 10h1v1h-1zM2 11h1v1h-1zM4 11h1v1h-1zM5 11h1v1h-1zM4 12h1v1h-1zM2 13h1v1h-1zM8 13h1v1h-1zM10 13h1v1h-1zM14 13h1v1h-1zM15 13h1v1h-1zM9 14h1v1h-1zM7 17h1v1h-1zM12 17h1v1h-1z"/><path fill="#4cffb2" d="M1 0h1v1h-1zM7 0h1v1h-1zM12 0h1v1h-1zM13 0h1v1h-1zM14 0h1v1h-1zM0 1h1v1h-1zM4 2h1v1h-1zM5 2h1v1h-1zM8 2h1v1h-1zM9 2h1v1h-1zM14 2h1v1h-1zM2 3h1v1h-1zM4 3h1v1h-1zM8 3h1v1h-1zM14 3h1v1h-1zM1 4h1v1h-1zM5 4h1v1h-1zM6 4h1v1h-1zM8 4h1v1h-1zM10 4h1v1h-1zM13 4h1v1h-1zM15 4h1v1h-1zM16 4h1v1h-1zM0 5h1v1h-1zM1 5h1v1h-1zM7 5h1v1h-1zM8 5h1v1h-1zM10 6h1v1h-1zM12 6h1v1h-1zM0 7h1v1h-1zM3 7h1v1h-1zM4 7h1v1h-1zM5 7h1v1h-1zM12 7h1v1h-1zM13 7h1v1h-1zM6 8h1v1h-1zM10 8h1v1h-1zM13 8h1v1h-1zM2 9h1v1h-1zM3 9h1v1h-1zM11 9h1v1h-1zM15 9h1v1h-1zM8 10h1v1h-1zM10 10h1v1h-1zM13 10h1v1h-1zM16 10h1v1h-1zM3 11h1v1h-1zM6 11h1v1h-1zM7 11h1v1h-1zM14 11h1v1h-1zM15 11h1v1h-1zM6 12h1v1h-1zM14 12h1v1h-1zM16 12h1v1h-1zM1 13h1v1h-1zM11 13h1v1h-1zM13 13h1v1h-1zM0 14h1v1h-1zM1 14h1v1h-1zM3 14h1v1h-1zM4 14h1v1h-1zM8 15h1v1h-1zM9 15h1v1h-1zM9 16h1v1h-1zM16 16h1v1h-1zM4 17h1v1h-1zM9 17h1v1h-1zM11 17h1v1h-1zM14 17h1v1h-1z"/><path fill="#32ffcc" d="M2 0h1v1h-1zM2 1h1v1h-1zM6 1h1v1h-1zM10 1h1v1h-1zM11 1h1v1h-1zM16 1h1v1h-1zM6 2h1v1h-1zM7 2h1v1h-1zM10 2h1v1h-1zM15 2h1v1h-1zM1 3h1v1h-1zM3 3h1v1h-1zM6 3h1v1h-1zM7 3h1v1h-1zM9 3h1v1h-1zM12 3h1v1h-1zM3 4h1v1h-1zM7 4h1v1h-1zM11 4h1v1h-1zM12 4h1v1h-1zM14 4h1v1h-1zM6 5h1v1h-1zM13 5h1v1h-1zM15 5h1v1h-1zM3 6h1v1h-1zM8 6h1v1h-1zM13 6h1v1h-1zM15 6h1v1h-1zM6 7h1v1h-1zM9 7h1v1h-1zM10 7h1v1h-1zM1 8h1v1h-1zM7 8h1v1h-1zM8 8h1v1h-1zM14 8h1v1h-1zM15 8h1v1h-1zM4 9h1v1h-1zM13 9h1v1h-1zM14 9h1v1h-1zM5 10h1v1h-1zM6 10h1v1h-1zM0 11h1v1h-1zM8 11h1v1h-1zM12 11h1v1h-1zM16 11h1v1h-1zM1 12h1v1h-1zM3 12h1v1h-1zM8 12h1v1h-1zM15 12h1v1h-1zM0 13h1v1h-1zM5 13h1v1h-1zM2 14h1v1h-1zM8 14h1v1h-1zM10 14h1v1h-1zM11 14h1v1h-1zM13 14h1v1h-1zM15 14h1v1h-1zM3 15h1v1h-1zM5 15h1v1h-1zM15 15h1v1h-1zM16 15h1v1h-1zM0 17h1v1h-1zM2 17h1v1h-1z"/><path fill="#00e5ff" d="M3 0h1v1h-1zM10 0h1v1h-1zM16 0h1v1h-1zM14 5h1v1h-1zM12 8h1v1h-1zM7 9h1v1h-1zM2 10h1v1h-1zM11 10h1v1h-1zM1 15h1v1h-1zM12 16h1v1h-1z"/><path fill="#65ff99" d="M4 0h1v1h-1zM9 0h1v1h-1zM1 1h1v1h-1zM5 1h1v1h-1zM9 1h1v1h-1zM3 2h1v1h-1zM16 2h1v1h-1zM0 3h1v1h-1zM0 4h1v1h-1zM4 4h1v1h-1zM2 5h1v1h-1zM3 5h1v1h-1zM11 5h1v1h-1zM12 5h1v1h-1zM0 6h1v1h-1zM4 6h1v1h-1zM9 6h1v1h-1zM2 7h1v1h-1zM8 7h1v1h-1zM3 8h1v1h-1zM4 8h1v1h-1zM8 9h1v1h-1zM16 9h1v1h-1zM1 10h1v1h-1zM7 10h1v1h-1zM9 10h1v1h-1zM1 11h1v1h-1zM5 12h1v1h-1zM7 12h1v1h-1zM13 12h1v1h-1zM4 13h1v1h-1zM6 14h1v1h-1zM12 14h1v1h-1zM2 15h1v1h-1zM0 16h1v1h-1zM3 16h1v1h-1zM5 16h1v1h-1zM8 16h1v1h-1zM15 16h1v1h-1zM3 17h1v1h-1zM15 17h1v1h-1z"/><path fill="#99ff65" d="M5 0h1v1h-1zM6 0h1v1h-1zM0 2h1v1h-1zM7 16h1v1h-1z"/><path fill="#19ffe5" d="M8 0h1v1h-1zM11 0h1v1h-1zM7 1h1v1h-1zM12 1h1v1h-1zM14 1h1v1h-1zM12 2h1v1h-1zM13 3h1v1h-1zM15 3h1v1h-1zM2 4h1v1h-1zM10 5h1v1h-1zM16 5h1v1h-1zM1 6h1v1h-1zM2 6h1v1h-1zM5 6h1v1h-1zM6 6h1v1h-1zM7 6h1v1h-1zM7 7h1v1h-1zM0 8h1v1h-1zM2 8h1v1h-1zM11 8h1v1h-1zM0 9h1v1h-1zM1 9h1v1h-1zM6 9h1v1h-1zM10 9h1v1h-1zM0 10h1v1h-1zM3 10h1v1h-1zM4 10h1v1h-1zM14 10h1v1h-1zM15 10h1v1h-1zM9 11h1v1h-1zM10 11h1v1h-1zM13 11h1v1h-1zM0 12h1v1h-1zM2 12h1v1h-1zM9 12h1v1h-1zM10 12h1v1h-1zM11 12h1v1h-1zM12 12h1v1h-1zM6 13h1v1h-1zM7 13h1v1h-1zM9 13h1v1h-1zM12 13h1v1h-1zM16 13h1v1h-1zM5 14h1v1h-1zM7 14h1v1h-1zM16 14h1v1h-1zM0 15h1v1h-1zM4 15h1v1h-1zM6 15h1v1h-1zM7 15h1v1h-1zM12 15h1v1h-1zM1 16h1v1h-1zM4 16h1v1h-1zM6 16h1v1h-1zM11 16h1v1h-1zM13 16h1v1h-1zM5 17h1v1h-1zM6 17h1v1h-1zM10 17h1v1h-1zM16 17h1v1h-1z"/><path fill="#00ffff" d="M15 0h1v1h-1zM3 1h1v1h-1zM15 1h1v1h-1zM2 2h1v1h-1zM11 2h1v1h-1zM13 2h1v1h-1zM5 3h1v1h-1zM10 3h1v1h-1zM16 3h1v1h-1zM5 5h1v1h-1zM9 5h1v1h-1zM1 7h1v1h-1zM11 7h1v1h-1zM16 7h1v1h-1zM5 8h1v1h-1zM9 8h1v1h-1zM16 8h1v1h-1zM9 9h1v1h-1zM12 9h1v1h-1zM11 11h1v1h-1zM3 13h1v1h-1zM14 14h1v1h-1zM10 15h1v1h-1zM11 15h1v1h-1zM13 15h1v1h-1zM2 16h1v1h-1zM10 16h1v1h-1zM14 16h1v1h-1zM8 17h1v1h-1zM13 17h1v1h-1z"/><path fill="#cbff33" d="M4 1h1v1h-1zM14 15h1v1h-1z"/><path fill="#ffe500" d="M8 1h1v1h-1z"/><path fill="#00b2ff" d="M1 2h1v1h-1zM4 5h1v1h-1z"/><path fill="#00ccff" d="M14 7h1v1h-1zM15 7h1v1h-1z"/><path fill="#b2ff4c" d="M5 9h1v1h-1zM1 17h1v1h-1z"/></g>
<g transform="translate(619.40 119.00) scale(3.3706 3.3333)" shape-rendering="crispEdges"><path fill="#32ffcc" d="M0 0h1v1h-1zM2 0h1v1h-1zM14 0h1v1h-1zM16 0h1v1h-1zM11 1h1v1h-1zM12 1h1v1h-1zM16 1h1v1h-1zM11 2h1v1h-1zM1 3h1v1h-1zM8 3h1v1h-1zM12 3h1v1h-1zM14 3h1v1h-1zM16 3h1v1h-1zM12 4h1v1h-1zM16 4h1v1h-1zM0 5h1v1h-1zM9 5h1v1h-1zM11 5h1v1h-1zM6 6h1v1h-1zM0 7h1v1h-1zM7 7h1v1h-1zM9 7h1v1h-1zM13 7h1v1h-1zM6 8h1v1h-1zM7 8h1v1h-1zM6 9h1v1h-1zM14 9h1v1h-1zM1 10h1v1h-1zM12 10h1v1h-1zM1 11h1v1h-1zM8 11h1v1h-1zM12 11h1v1h-1zM12 12h1v1h-1zM16 12h1v1h-1zM5 13h1v1h-1zM14 13h1v1h-1zM14 14h1v1h-1zM15 14h1v1h-1zM5 15h1v1h-1zM11 15h1v1h-1zM13 15h1v1h-1zM2 16h1v1h-1zM7 16h1v1h-1zM9 16h1v1h-1zM11 16h1v1h-1zM12 16h1v1h-1zM13 16h1v1h-1zM15 16h1v1h-1zM12 17h1v1h-1z"/><path fill="#65ff99" d="M1 0h1v1h-1zM5 0h1v1h-1zM7 0h1v1h-1zM11 0h1v1h-1zM13 0h1v1h-1zM6 1h1v1h-1zM9 1h1v1h-1zM10 1h1v1h-1zM1 2h1v1h-1zM2 2h1v1h-1zM3 2h1v1h-1zM5 2h1v1h-1zM6 2h1v1h-1zM8 2h1v1h-1zM9 2h1v1h-1zM12 2h1v1h-1zM13 2h1v1h-1zM3 3h1v1h-1zM1 4h1v1h-1zM2 4h1v1h-1zM4 4h1v1h-1zM6 4h1v1h-1zM8 4h1v1h-1zM9 4h1v1h-1zM13 4h1v1h-1zM14 4h1v1h-1zM5 5h1v1h-1zM10 5h1v1h-1zM12 5h1v1h-1zM3 6h1v1h-1zM4 6h1v1h-1zM10 6h1v1h-1zM14 6h1v1h-1zM15 6h1v1h-1zM5 7h1v1h-1zM6 7h1v1h-1zM12 7h1v1h-1zM16 7h1v1h-1zM5 8h1v1h-1zM8 8h1v1h-1zM12 8h1v1h-1zM14 8h1v1h-1zM2 9h1v1h-1zM5 9h1v1h-1zM9 9h1v1h-1zM11 9h1v1h-1zM5 10h1v1h-1zM9 10h1v1h-1zM14 10h1v1h-1zM16 10h1v1h-1zM5 11h1v1h-1zM6 11h1v1h-1zM15 11h1v1h-1zM2 12h1v1h-1zM10 12h1v1h-1zM6 13h1v1h-1zM9 13h1v1h-1zM11 13h1v1h-1zM2 14h1v1h-1zM3 14h1v1h-1zM9 14h1v1h-1zM12 14h1v1h-1zM16 14h1v1h-1zM0 15h1v1h-1zM2 15h1v1h-1zM6 15h1v1h-1zM9 15h1v1h-1zM12 15h1v1h-1zM14 15h1v1h-1zM1 16h1v1h-1zM5 16h1v1h-1zM14 16h1v1h-1zM5 17h1v1h-1zM7 17h1v1h-1zM13 17h1v1h-1zM16 17h1v1h-1z"/><path fill="#7fff7f" d="M3 0h1v1h-1zM12 0h1v1h-1zM1 1h1v1h-1zM4 1h1v1h-1zM5 1h1v1h-1zM16 2h1v1h-1zM4 3h1v1h-1zM5 4h1v1h-1zM10 4h1v1h-1zM13 5h1v1h-1zM15 5h1v1h-1zM1 6h1v1h-1zM2 6h1v1h-1zM11 6h1v1h-1zM1 7h1v1h-1zM2 7h1v1h-1zM8 7h1v1h-1zM2 8h1v1h-1zM3 8h1v1h-1zM9 8h1v1h-1zM16 8h1v1h-1zM0 9h1v1h-1zM3 9h1v1h-1zM4 9h1v1h-1zM8 9h1v1h-1zM10 9h1v1h-1zM12 9h1v1h-1zM0 10h1v1h-1zM4 10h1v1h-1zM7 10h1v1h-1zM13 10h1v1h-1zM15 10h1v1h-1zM0 11h1v1h-1zM2 11h1v1h-1zM3 11h1v1h-1zM4 11h1v1h-1zM9 11h1v1h-1zM16 11h1v1h-1zM0 12h1v1h-1zM4 12h1v1h-1zM6 12h1v1h-1zM8 12h1v1h-1zM2 13h1v1h-1zM7 13h1v1h-1zM16 13h1v1h-1zM1 14h1v1h-1zM4 14h1v1h-1zM5 14h1v1h-1zM7 14h1v1h-1zM4 15h1v1h-1zM15 15h1v1h-1zM0 16h1v1h-1zM6 17h1v1h-1zM10 17h1v1h-1z"/><path fill="#99ff65" d="M4 0h1v1h-1zM13 1h1v1h-1zM15 1h1v1h-1zM0 2h1v1h-1zM15 2h1v1h-1zM8 5h1v1h-1zM16 5h1v1h-1zM0 6h1v1h-1zM9 6h1v1h-1zM11 7h1v1h-1zM14 7h1v1h-1zM1 8h1v1h-1zM13 8h1v1h-1zM8 10h1v1h-1zM10 10h1v1h-1zM10 11h1v1h-1zM5 12h1v1h-1zM14 12h1v1h-1zM15 12h1v1h-1zM0 13h1v1h-1zM4 13h1v1h-1zM10 13h1v1h-1zM12 13h1v1h-1zM3 16h1v1h-1z"/><path fill="#4cffb2" d="M6 0h1v1h-1zM8 0h1v1h-1zM9 0h1v1h-1zM10 0h1v1h-1zM0 1h1v1h-1zM2 1h1v1h-1zM8 1h1v1h-1zM10 2h1v1h-1zM14 2h1v1h-1zM5 3h1v1h-1zM6 3h1v1h-1zM7 3h1v1h-1zM10 3h1v1h-1zM11 3h1v1h-1zM13 3h1v1h-1zM3 4h1v1h-1zM7 4h1v1h-1zM15 4h1v1h-1zM1 5h1v1h-1zM2 5h1v1h-1zM14 5h1v1h-1zM5 6h1v1h-1zM7 6h1v1h-1zM8 6h1v1h-1zM12 6h1v1h-1zM13 6h1v1h-1zM3 7h1v1h-1zM4 7h1v1h-1zM10 7h1v1h-1zM0 8h1v1h-1zM4 8h1v1h-1zM11 8h1v1h-1zM15 8h1v1h-1zM1 9h1v1h-1zM7 9h1v1h-1zM16 9h1v1h-1zM2 10h1v1h-1zM3 10h1v1h-1zM7 11h1v1h-1zM11 11h1v1h-1zM1 12h1v1h-1zM7 12h1v1h-1zM1 13h1v1h-1zM3 13h1v1h-1zM8 13h1v1h-1zM13 13h1v1h-1zM0 14h1v1h-1zM6 14h1v1h-1zM8 14h1v1h-1zM13 14h1v1h-1zM3 15h1v1h-1zM8 15h1v1h-1zM4 16h1v1h-1zM6 16h1v1h-1zM16 16h1v1h-1zM0 17h1v1h-1zM1 17h1v1h-1zM2 17h1v1h-1zM8 17h1v1h-1zM11 17h1v1h-1z"/><path fill="#19ffe5" d="M15 0h1v1h-1zM3 1h1v1h-1zM7 1h1v1h-1zM14 1h1v1h-1zM7 2h1v1h-1zM0 3h1v1h-1zM9 3h1v1h-1zM7 5h1v1h-1zM15 7h1v1h-1zM10 8h1v1h-1zM13 9h1v1h-1zM15 9h1v1h-1zM11 10h1v1h-1zM14 11h1v1h-1zM11 12h1v1h-1zM15 13h1v1h-1zM10 15h1v1h-1zM16 15h1v1h-1zM3 17h1v1h-1zM4 17h1v1h-1zM15 17h1v1h-1z"/><path fill="#ff7f00" d="M4 2h1v1h-1z"/><path fill="#b2ff4c" d="M2 3h1v1h-1zM15 3h1v1h-1zM11 4h1v1h-1zM3 5h1v1h-1zM4 5h1v1h-1zM6 5h1v1h-1zM6 10h1v1h-1zM9 12h1v1h-1zM11 14h1v1h-1zM1 15h1v1h-1zM10 16h1v1h-1zM14 17h1v1h-1z"/><path fill="#cbff33" d="M0 4h1v1h-1z"/><path fill="#ff9900" d="M16 6h1v1h-1z"/><path fill="#00ffff" d="M13 11h1v1h-1zM7 15h1v1h-1zM8 16h1v1h-1zM9 17h1v1h-1z"/><path fill="#ffe500" d="M3 12h1v1h-1zM13 12h1v1h-1z"/><path fill="#e5ff19" d="M10 14h1v1h-1z"/></g>
<g transform="translate(320.00 207.00) scale(3.3706 3.3333)" shape-rendering="crispEdges"><path fill="#0066ff" d="M0 0h1v1h-1zM3 0h1v1h-1zM5 0h1v1h-1zM8 0h1v1h-1zM10 0h1v1h-1zM13 0h1v1h-1zM14 0h1v1h-1zM3 1h1v1h-1zM14 1h1v1h-1zM5 2h1v1h-1zM6 2h1v1h-1zM7 2h1v1h-1zM12 2h1v1h-1zM13 2h1v1h-1zM16 2h1v1h-1zM8 3h1v1h-1zM9 3h1v1h-1zM6 4h1v1h-1zM8 4h1v1h-1zM10 4h1v1h-1zM11 4h1v1h-1zM16 4h1v1h-1zM2 5h1v1h-1zM4 5h1v1h-1zM7 5h1v1h-1zM14 5h1v1h-1zM5 6h1v1h-1zM6 6h1v1h-1zM11 6h1v1h-1zM15 6h1v1h-1zM2 7h1v1h-1zM12 7h1v1h-1zM13 7h1v1h-1zM15 7h1v1h-1zM16 7h1v1h-1zM0 8h1v1h-1zM1 9h1v1h-1zM2 9h1v1h-1zM1 10h1v1h-1zM1 11h1v1h-1zM1 13h1v1h-1zM8 14h1v1h-1zM10 14h1v1h-1zM0 16h1v1h-1zM11 16h1v1h-1zM16 16h1v1h-1z"/><path fill="#00b2ff" d="M1 0h1v1h-1zM11 0h1v1h-1zM15 0h1v1h-1zM2 1h1v1h-1zM11 1h1v1h-1zM7 4h1v1h-1zM0 5h1v1h-1zM1 5h1v1h-1zM15 5h1v1h-1zM0 6h1v1h-1zM13 6h1v1h-1zM0 7h1v1h-1zM1 7h1v1h-1zM5 7h1v1h-1zM6 7h1v1h-1zM8 7h1v1h-1zM11 7h1v1h-1zM14 7h1v1h-1zM2 10h1v1h-1zM6 11h1v1h-1zM0 12h1v1h-1zM0 13h1v1h-1zM13 13h1v1h-1zM16 13h1v1h-1zM0 14h1v1h-1zM11 14h1v1h-1zM2 15h1v1h-1zM11 15h1v1h-1zM16 15h1v1h-1zM13 16h1v1h-1zM15 16h1v1h-1zM1 17h1v1h-1zM7 17h1v1h-1zM10 17h1v1h-1zM14 17h1v1h-1z"/><path fill="#007fff" d="M2 0h1v1h-1zM6 0h1v1h-1zM9 0h1v1h-1zM16 0h1v1h-1zM4 1h1v1h-1zM5 1h1v1h-1zM6 1h1v1h-1zM8 1h1v1h-1zM0 2h1v1h-1zM2 2h1v1h-1zM3 2h1v1h-1zM9 2h1v1h-1zM10 2h1v1h-1zM6 3h1v1h-1zM7 3h1v1h-1zM11 3h1v1h-1zM14 3h1v1h-1zM0 4h1v1h-1zM1 4h1v1h-1zM2 4h1v1h-1zM12 4h1v1h-1zM13 4h1v1h-1zM14 4h1v1h-1zM3 5h1v1h-1zM6 5h1v1h-1zM10 5h1v1h-1zM2 6h1v1h-1zM3 6h1v1h-1zM4 6h1v1h-1zM7 6h1v1h-1zM9 6h1v1h-1zM14 6h1v1h-1zM16 6h1v1h-1zM3 7h1v1h-1zM2 8h1v1h-1zM12 8h1v1h-1zM13 8h1v1h-1zM14 8h1v1h-1zM16 8h1v1h-1zM14 9h1v1h-1zM14 10h1v1h-1zM15 10h1v1h-1zM16 10h1v1h-1zM14 11h1v1h-1zM1 12h1v1h-1zM15 12h1v1h-1zM10 13h1v1h-1zM15 13h1v1h-1zM1 14h1v1h-1zM2 14h1v1h-1zM14 14h1v1h-1zM16 14h1v1h-1zM0 15h1v1h-1zM3 15h1v1h-1zM9 15h1v1h-1zM12 15h1v1h-1zM15 15h1v1h-1zM1 16h1v1h-1zM5 16h1v1h-1zM6 16h1v1h-1zM7 16h1v1h-1zM10 16h1v1h-1zM5 17h1v1h-1zM9 17h1v1h-1zM16 17h1v1h-1z"/><path fill="#32ffcc" d="M4 0h1v1h-1zM10 8h1v1h-1zM5 9h1v1h-1zM4 10h1v1h-1zM11 10h1v1h-1zM9 11h1v1h-1zM7 12h1v1h-1z"/><path fill="#00ccff" d="M7 0h1v1h-1zM0 1h1v1h-1zM11 2h1v1h-1zM3 3h1v1h-1zM10 3h1v1h-1zM16 5h1v1h-1zM1 8h1v1h-1zM3 8h1v1h-1zM5 8h1v1h-1zM4 9h1v1h-1zM6 9h1v1h-1zM12 9h1v1h-1zM3 10h1v1h-1zM2 11h1v1h-1zM3 11h1v1h-1zM12 11h1v1h-1zM3 12h1v1h-1zM8 12h1v1h-1zM6 13h1v1h-1zM8 13h1v1h-1zM9 13h1v1h-1zM5 14h1v1h-1zM6 14h1v1h-1zM7 14h1v1h-1zM9 14h1v1h-1zM13 14h1v1h-1zM7 15h1v1h-1zM10 15h1v1h-1zM2 16h1v1h-1zM11 17h1v1h-1z"/><path fill="#0099ff" d="M12 0h1v1h-1zM9 1h1v1h-1zM10 1h1v1h-1zM13 1h1v1h-1zM15 1h1v1h-1zM16 1h1v1h-1zM1 2h1v1h-1zM8 2h1v1h-1zM2 3h1v1h-1zM12 3h1v1h-1zM16 3h1v1h-1zM5 4h1v1h-1zM5 5h1v1h-1zM8 5h1v1h-1zM11 5h1v1h-1zM12 5h1v1h-1zM13 5h1v1h-1zM1 6h1v1h-1zM10 6h1v1h-1zM4 7h1v1h-1zM0 9h1v1h-1zM3 9h1v1h-1zM13 9h1v1h-1zM15 9h1v1h-1zM0 11h1v1h-1zM16 11h1v1h-1zM16 12h1v1h-1zM2 13h1v1h-1zM3 13h1v1h-1zM7 13h1v1h-1zM14 13h1v1h-1zM4 14h1v1h-1zM12 14h1v1h-1zM1 15h1v1h-1zM8 15h1v1h-1zM13 15h1v1h-1zM4 16h1v1h-1zM9 16h1v1h-1zM12 16h1v1h-1zM14 16h1v1h-1zM2 17h1v1h-1zM3 17h1v1h-1zM4 17h1v1h-1zM6 17h1v1h-1zM8 17h1v1h-1zM15 17h1v1h-1z"/><path fill="#004cff" d="M1 1h1v1h-1zM7 1h1v1h-1zM12 1h1v1h-1zM15 2h1v1h-1zM1 3h1v1h-1zM4 3h1v1h-1zM5 3h1v1h-1zM13 3h1v1h-1zM9 4h1v1h-1zM15 4h1v1h-1zM9 5h1v1h-1zM12 6h1v1h-1zM9 7h1v1h-1zM16 9h1v1h-1zM15 11h1v1h-1zM3 14h1v1h-1zM14 15h1v1h-1zM8 16h1v1h-1zM0 17h1v1h-1zM13 17h1v1h-1z"/><path fill="#00e5ff" d="M4 2h1v1h-1zM14 2h1v1h-1zM8 6h1v1h-1zM4 8h1v1h-1zM6 8h1v1h-1zM7 8h1v1h-1zM8 8h1v1h-1zM15 8h1v1h-1zM13 10h1v1h-1zM4 11h1v1h-1zM4 12h1v1h-1zM10 12h1v1h-1zM11 12h1v1h-1zM14 12h1v1h-1zM4 13h1v1h-1zM5 13h1v1h-1zM12 13h1v1h-1zM15 14h1v1h-1zM6 15h1v1h-1z"/><path fill="#0019ff" d="M0 3h1v1h-1z"/><path fill="#0032ff" d="M15 3h1v1h-1zM3 4h1v1h-1zM4 4h1v1h-1zM3 16h1v1h-1zM12 17h1v1h-1z"/><path fill="#00ffff" d="M7 7h1v1h-1zM10 7h1v1h-1zM0 10h1v1h-1zM6 10h1v1h-1zM8 10h1v1h-1zM12 10h1v1h-1zM5 11h1v1h-1zM7 11h1v1h-1zM8 11h1v1h-1zM10 11h1v1h-1zM2 12h1v1h-1zM5 12h1v1h-1zM6 12h1v1h-1zM13 12h1v1h-1zM11 13h1v1h-1zM4 15h1v1h-1z"/><path fill="#19ffe5" d="M9 8h1v1h-1zM7 9h1v1h-1zM9 9h1v1h-1zM9 10h1v1h-1zM13 11h1v1h-1zM9 12h1v1h-1zM12 12h1v1h-1z"/><path fill="#4cffb2" d="M11 8h1v1h-1zM8 9h1v1h-1zM10 9h1v1h-1zM7 10h1v1h-1zM5 15h1v1h-1z"/><path fill="#65ff99" d="M11 9h1v1h-1zM10 10h1v1h-1zM11 11h1v1h-1z"/><path fill="#7fff7f" d="M5 10h1v1h-1z"/></g>
<g transform="translate(394.85 207.00) scale(3.3706 3.3333)" shape-rendering="crispEdges"><path fill="#007fff" d="M0 0h1v1h-1zM7 0h1v1h-1zM9 0h1v1h-1zM0 1h1v1h-1zM2 1h1v1h-1zM7 1h1v1h-1zM8 1h1v1h-1zM9 1h1v1h-1zM10 1h1v1h-1zM13 1h1v1h-1zM15 1h1v1h-1zM16 1h1v1h-1zM4 2h1v1h-1zM5 2h1v1h-1zM10 2h1v1h-1zM11 2h1v1h-1zM12 2h1v1h-1zM15 2h1v1h-1zM16 2h1v1h-1zM5 3h1v1h-1zM6 3h1v1h-1zM8 3h1v1h-1zM11 3h1v1h-1zM1 4h1v1h-1zM6 4h1v1h-1zM9 4h1v1h-1zM0 5h1v1h-1zM1 5h1v1h-1zM2 5h1v1h-1zM4 5h1v1h-1zM8 5h1v1h-1zM12 5h1v1h-1zM13 5h1v1h-1zM3 6h1v1h-1zM4 6h1v1h-1zM6 6h1v1h-1zM8 6h1v1h-1zM16 6h1v1h-1zM0 7h1v1h-1zM2 7h1v1h-1zM13 7h1v1h-1zM3 8h1v1h-1zM15 8h1v1h-1zM2 9h1v1h-1zM14 9h1v1h-1zM15 9h1v1h-1zM15 10h1v1h-1zM2 11h1v1h-1zM16 11h1v1h-1zM0 12h1v1h-1zM15 12h1v1h-1zM0 13h1v1h-1zM16 13h1v1h-1zM2 14h1v1h-1zM3 14h1v1h-1zM16 14h1v1h-1zM0 15h1v1h-1zM2 15h1v1h-1zM3 15h1v1h-1zM9 15h1v1h-1zM1 16h1v1h-1zM2 16h1v1h-1zM3 16h1v1h-1zM12 16h1v1h-1zM15 16h1v1h-1zM16 16h1v1h-1zM5 17h1v1h-1zM6 17h1v1h-1zM11 17h1v1h-1zM12 17h1v1h-1z"/><path fill="#0066ff" d="M1 0h1v1h-1zM10 0h1v1h-1zM13 0h1v1h-1zM15 0h1v1h-1zM6 1h1v1h-1zM12 1h1v1h-1zM14 1h1v1h-1zM1 2h1v1h-1zM2 2h1v1h-1zM3 2h1v1h-1zM6 2h1v1h-1zM3 3h1v1h-1zM7 3h1v1h-1zM3 4h1v1h-1zM11 4h1v1h-1zM9 5h1v1h-1zM16 5h1v1h-1zM1 6h1v1h-1zM9 6h1v1h-1zM4 7h1v1h-1zM0 8h1v1h-1zM1 11h1v1h-1zM1 12h1v1h-1zM8 14h1v1h-1zM1 15h1v1h-1zM10 15h1v1h-1zM12 15h1v1h-1zM0 16h1v1h-1zM6 16h1v1h-1zM9 16h1v1h-1zM14 16h1v1h-1zM2 17h1v1h-1zM9 17h1v1h-1z"/><path fill="#0099ff" d="M2 0h1v1h-1zM5 0h1v1h-1zM11 0h1v1h-1zM14 0h1v1h-1zM11 1h1v1h-1zM0 2h1v1h-1zM10 3h1v1h-1zM16 3h1v1h-1zM2 4h1v1h-1zM7 4h1v1h-1zM8 4h1v1h-1zM12 4h1v1h-1zM5 5h1v1h-1zM6 5h1v1h-1zM10 5h1v1h-1zM15 5h1v1h-1zM0 6h1v1h-1zM11 6h1v1h-1zM1 7h1v1h-1zM5 7h1v1h-1zM14 7h1v1h-1zM16 7h1v1h-1zM1 8h1v1h-1zM16 8h1v1h-1zM1 9h1v1h-1zM0 10h1v1h-1zM1 10h1v1h-1zM2 10h1v1h-1zM14 10h1v1h-1zM16 10h1v1h-1zM0 11h1v1h-1zM14 11h1v1h-1zM2 12h1v1h-1zM16 12h1v1h-1zM2 13h1v1h-1zM13 13h1v1h-1zM0 14h1v1h-1zM10 14h1v1h-1zM12 14h1v1h-1zM13 14h1v1h-1zM8 15h1v1h-1zM11 15h1v1h-1zM14 15h1v1h-1zM15 15h1v1h-1zM5 16h1v1h-1zM7 16h1v1h-1zM3 17h1v1h-1zM4 17h1v1h-1zM8 17h1v1h-1zM10 17h1v1h-1zM15 17h1v1h-1zM16 17h1v1h-1z"/><path fill="#004cff" d="M3 0h1v1h-1zM12 0h1v1h-1zM5 1h1v1h-1zM8 2h1v1h-1zM14 2h1v1h-1zM12 3h1v1h-1zM11 5h1v1h-1zM13 6h1v1h-1zM14 6h1v1h-1zM12 7h1v1h-1zM15 7h1v1h-1zM14 8h1v1h-1zM0 9h1v1h-1zM14 14h1v1h-1zM5 15h1v1h-1zM7 15h1v1h-1zM16 15h1v1h-1zM10 16h1v1h-1zM14 17h1v1h-1z"/><path fill="#00ccff" d="M4 0h1v1h-1zM7 2h1v1h-1zM4 3h1v1h-1zM0 4h1v1h-1zM10 4h1v1h-1zM14 4h1v1h-1zM14 5h1v1h-1zM5 6h1v1h-1zM10 6h1v1h-1zM6 7h1v1h-1zM8 7h1v1h-1zM9 8h1v1h-1zM12 8h1v1h-1zM4 9h1v1h-1zM4 10h1v1h-1zM15 11h1v1h-1zM9 13h1v1h-1zM4 14h1v1h-1zM7 14h1v1h-1zM11 14h1v1h-1zM6 15h1v1h-1zM7 17h1v1h-1z"/><path fill="#00b2ff" d="M6 0h1v1h-1zM1 1h1v1h-1zM3 1h1v1h-1zM9 2h1v1h-1zM2 3h1v1h-1zM9 3h1v1h-1zM14 3h1v1h-1zM4 4h1v1h-1zM13 4h1v1h-1zM16 4h1v1h-1zM3 5h1v1h-1zM7 5h1v1h-1zM2 6h1v1h-1zM7 6h1v1h-1zM12 6h1v1h-1zM9 7h1v1h-1zM10 7h1v1h-1zM11 7h1v1h-1zM2 8h1v1h-1zM4 8h1v1h-1zM16 9h1v1h-1zM5 11h1v1h-1zM14 12h1v1h-1zM1 13h1v1h-1zM3 13h1v1h-1zM6 13h1v1h-1zM7 13h1v1h-1zM14 13h1v1h-1zM1 14h1v1h-1zM5 14h1v1h-1zM6 14h1v1h-1zM9 14h1v1h-1zM15 14h1v1h-1zM4 15h1v1h-1zM4 16h1v1h-1zM8 16h1v1h-1zM11 16h1v1h-1zM0 17h1v1h-1z"/><path fill="#00e5ff" d="M8 0h1v1h-1zM4 1h1v1h-1zM13 2h1v1h-1zM15 3h1v1h-1zM15 4h1v1h-1zM15 6h1v1h-1zM5 8h1v1h-1zM5 9h1v1h-1zM13 9h1v1h-1zM3 10h1v1h-1zM6 10h1v1h-1zM3 12h1v1h-1zM11 12h1v1h-1zM5 13h1v1h-1zM8 13h1v1h-1zM15 13h1v1h-1zM13 15h1v1h-1zM1 17h1v1h-1z"/><path fill="#0032ff" d="M16 0h1v1h-1zM13 3h1v1h-1zM5 4h1v1h-1zM3 7h1v1h-1z"/><path fill="#19ffe5" d="M0 3h1v1h-1zM6 8h1v1h-1zM10 8h1v1h-1zM3 9h1v1h-1zM4 11h1v1h-1zM10 11h1v1h-1zM12 11h1v1h-1zM7 12h1v1h-1zM8 12h1v1h-1zM9 12h1v1h-1zM10 12h1v1h-1zM12 12h1v1h-1z"/><path fill="#0019ff" d="M1 3h1v1h-1z"/><path fill="#00ffff" d="M7 7h1v1h-1zM7 8h1v1h-1zM8 8h1v1h-1zM11 8h1v1h-1zM13 8h1v1h-1zM6 9h1v1h-1zM8 9h1v1h-1zM12 9h1v1h-1zM10 10h1v1h-1zM11 10h1v1h-1zM13 10h1v1h-1zM3 11h1v1h-1zM4 12h1v1h-1zM5 12h1v1h-1zM13 12h1v1h-1zM4 13h1v1h-1zM11 13h1v1h-1zM12 13h1v1h-1zM13 16h1v1h-1zM13 17h1v1h-1z"/><path fill="#32ffcc" d="M7 9h1v1h-1zM12 10h1v1h-1zM9 11h1v1h-1zM13 11h1v1h-1zM6 12h1v1h-1zM10 13h1v1h-1z"/><path fill="#4cffb2" d="M9 9h1v1h-1zM11 9h1v1h-1zM5 10h1v1h-1zM8 10h1v1h-1zM9 10h1v1h-1zM6 11h1v1h-1zM8 11h1v1h-1z"/><path fill="#7fff7f" d="M10 9h1v1h-1z"/><path fill="#65ff99" d="M7 10h1v1h-1zM11 11h1v1h-1z"/><path fill="#b2ff4c" d="M7 11h1v1h-1z"/></g>
<g transform="translate(469.70 207.00) scale(3.3706 3.3333)" shape-rendering="crispEdges"><path fill="#007fff" d="M0 0h1v1h-1zM7 1h1v1h-1zM12 1h1v1h-1zM14 1h1v1h-1zM12 2h1v1h-1zM13 2h1v1h-1zM0 4h1v1h-1zM11 4h1v1h-1zM8 5h1v1h-1zM11 5h1v1h-1zM4 6h1v1h-1zM2 8h1v1h-1zM0 11h1v1h-1zM15 11h1v1h-1zM4 15h1v1h-1zM5 16h1v1h-1zM10 16h1v1h-1zM11 16h1v1h-1zM0 17h1v1h-1z"/><path fill="#00b2ff" d="M1 0h1v1h-1zM2 0h1v1h-1zM5 0h1v1h-1zM6 0h1v1h-1zM7 0h1v1h-1zM13 0h1v1h-1zM15 0h1v1h-1zM6 1h1v1h-1zM3 2h1v1h-1zM4 2h1v1h-1zM5 2h1v1h-1zM14 2h1v1h-1zM0 3h1v1h-1zM3 3h1v1h-1zM6 3h1v1h-1zM7 3h1v1h-1zM8 3h1v1h-1zM9 3h1v1h-1zM14 3h1v1h-1zM15 3h1v1h-1zM7 4h1v1h-1zM16 4h1v1h-1zM5 5h1v1h-1zM9 5h1v1h-1zM0 6h1v1h-1zM14 6h1v1h-1zM15 6h1v1h-1zM16 6h1v1h-1zM1 7h1v1h-1zM12 7h1v1h-1zM16 7h1v1h-1zM4 8h1v1h-1zM13 8h1v1h-1zM0 10h1v1h-1zM1 10h1v1h-1zM16 10h1v1h-1zM14 11h1v1h-1zM1 13h1v1h-1zM15 13h1v1h-1zM16 13h1v1h-1zM3 14h1v1h-1zM5 15h1v1h-1zM8 15h1v1h-1zM13 15h1v1h-1zM0 16h1v1h-1zM1 16h1v1h-1zM12 16h1v1h-1zM3 17h1v1h-1z"/><path fill="#00e5ff" d="M3 0h1v1h-1zM16 0h1v1h-1zM4 1h1v1h-1zM9 1h1v1h-1zM15 1h1v1h-1zM0 2h1v1h-1zM1 2h1v1h-1zM4 3h1v1h-1zM12 3h1v1h-1zM1 4h1v1h-1zM4 4h1v1h-1zM8 4h1v1h-1zM9 4h1v1h-1zM14 4h1v1h-1zM0 5h1v1h-1zM4 5h1v1h-1zM10 5h1v1h-1zM12 5h1v1h-1zM13 5h1v1h-1zM14 5h1v1h-1zM8 6h1v1h-1zM10 6h1v1h-1zM11 6h1v1h-1zM0 7h1v1h-1zM11 7h1v1h-1zM13 7h1v1h-1zM3 8h1v1h-1zM12 8h1v1h-1zM15 8h1v1h-1zM3 9h1v1h-1zM14 9h1v1h-1zM2 10h1v1h-1zM2 11h1v1h-1zM3 11h1v1h-1zM6 13h1v1h-1zM4 14h1v1h-1zM8 14h1v1h-1zM11 14h1v1h-1zM13 14h1v1h-1zM15 14h1v1h-1zM9 15h1v1h-1zM15 15h1v1h-1zM3 16h1v1h-1zM9 16h1v1h-1zM13 16h1v1h-1zM15 16h1v1h-1zM8 17h1v1h-1zM13 17h1v1h-1z"/><path fill="#0099ff" d="M4 0h1v1h-1zM8 0h1v1h-1zM2 1h1v1h-1zM3 1h1v1h-1zM8 1h1v1h-1zM6 2h1v1h-1zM8 2h1v1h-1zM10 2h1v1h-1zM11 2h1v1h-1zM1 3h1v1h-1zM10 3h1v1h-1zM16 3h1v1h-1zM13 4h1v1h-1zM1 6h1v1h-1zM2 6h1v1h-1zM3 6h1v1h-1zM6 6h1v1h-1zM12 6h1v1h-1zM15 7h1v1h-1zM16 8h1v1h-1zM16 12h1v1h-1zM0 13h1v1h-1zM2 14h1v1h-1zM0 15h1v1h-1zM1 15h1v1h-1zM12 15h1v1h-1zM16 15h1v1h-1zM2 16h1v1h-1zM9 17h1v1h-1zM10 17h1v1h-1zM12 17h1v1h-1zM14 17h1v1h-1zM15 17h1v1h-1zM16 17h1v1h-1z"/><path fill="#00ccff" d="M9 0h1v1h-1zM10 0h1v1h-1zM11 0h1v1h-1zM12 0h1v1h-1zM5 1h1v1h-1zM10 1h1v1h-1zM11 1h1v1h-1zM13 1h1v1h-1zM16 1h1v1h-1zM7 2h1v1h-1zM9 2h1v1h-1zM15 2h1v1h-1zM16 2h1v1h-1zM11 3h1v1h-1zM2 4h1v1h-1zM5 4h1v1h-1zM6 4h1v1h-1zM10 4h1v1h-1zM15 4h1v1h-1zM2 5h1v1h-1zM7 5h1v1h-1zM15 5h1v1h-1zM16 5h1v1h-1zM5 6h1v1h-1zM9 6h1v1h-1zM5 7h1v1h-1zM10 7h1v1h-1zM14 7h1v1h-1zM1 8h1v1h-1zM0 9h1v1h-1zM1 9h1v1h-1zM2 9h1v1h-1zM3 10h1v1h-1zM15 10h1v1h-1zM1 12h1v1h-1zM3 12h1v1h-1zM15 12h1v1h-1zM0 14h1v1h-1zM6 14h1v1h-1zM7 14h1v1h-1zM12 14h1v1h-1zM14 14h1v1h-1zM16 14h1v1h-1zM2 15h1v1h-1zM6 15h1v1h-1zM7 15h1v1h-1zM10 15h1v1h-1zM4 16h1v1h-1zM6 16h1v1h-1zM8 16h1v1h-1zM16 16h1v1h-1zM1 17h1v1h-1zM4 17h1v1h-1zM5 17h1v1h-1zM6 17h1v1h-1zM7 17h1v1h-1z"/><path fill="#0066ff" d="M14 0h1v1h-1zM0 1h1v1h-1zM2 2h1v1h-1zM14 8h1v1h-1zM0 12h1v1h-1zM2 17h1v1h-1zM11 17h1v1h-1z"/><path fill="#00ffff" d="M1 1h1v1h-1zM5 3h1v1h-1zM3 4h1v1h-1zM12 4h1v1h-1zM1 5h1v1h-1zM3 5h1v1h-1zM6 5h1v1h-1zM7 6h1v1h-1zM2 7h1v1h-1zM4 7h1v1h-1zM6 7h1v1h-1zM7 7h1v1h-1zM0 8h1v1h-1zM4 9h1v1h-1zM15 9h1v1h-1zM16 9h1v1h-1zM1 11h1v1h-1zM16 11h1v1h-1zM14 12h1v1h-1zM12 13h1v1h-1zM5 14h1v1h-1zM9 14h1v1h-1zM10 14h1v1h-1zM3 15h1v1h-1zM11 15h1v1h-1zM14 16h1v1h-1z"/><path fill="#19ffe5" d="M2 3h1v1h-1zM13 3h1v1h-1zM13 6h1v1h-1zM3 7h1v1h-1zM8 7h1v1h-1zM13 10h1v1h-1zM2 12h1v1h-1zM2 13h1v1h-1zM3 13h1v1h-1zM4 13h1v1h-1zM13 13h1v1h-1zM1 14h1v1h-1zM14 15h1v1h-1z"/><path fill="#4cffb2" d="M9 7h1v1h-1zM5 8h1v1h-1zM6 8h1v1h-1zM10 8h1v1h-1zM6 9h1v1h-1zM14 10h1v1h-1zM12 11h1v1h-1zM11 12h1v1h-1zM13 12h1v1h-1zM14 13h1v1h-1z"/><path fill="#7fff7f" d="M7 8h1v1h-1zM11 8h1v1h-1zM8 9h1v1h-1zM9 9h1v1h-1zM6 10h1v1h-1zM8 10h1v1h-1zM6 12h1v1h-1zM9 12h1v1h-1zM10 12h1v1h-1z"/><path fill="#65ff99" d="M8 8h1v1h-1zM9 8h1v1h-1zM5 9h1v1h-1zM10 9h1v1h-1zM12 10h1v1h-1zM13 11h1v1h-1zM4 12h1v1h-1zM7 13h1v1h-1zM10 13h1v1h-1z"/><path fill="#cbff33" d="M7 9h1v1h-1zM5 10h1v1h-1zM4 11h1v1h-1z"/><path fill="#99ff65" d="M11 9h1v1h-1zM12 9h1v1h-1zM7 10h1v1h-1zM7 11h1v1h-1zM10 11h1v1h-1zM7 12h1v1h-1zM8 12h1v1h-1zM12 12h1v1h-1z"/><path fill="#32ffcc" d="M13 9h1v1h-1zM4 10h1v1h-1zM5 13h1v1h-1zM8 13h1v1h-1zM9 13h1v1h-1zM11 13h1v1h-1zM7 16h1v1h-1z"/><path fill="#ffff00" d="M9 10h1v1h-1z"/><path fill="#b2ff4c" d="M10 10h1v1h-1zM11 10h1v1h-1zM5 11h1v1h-1zM6 11h1v1h-1zM9 11h1v1h-1zM11 11h1v1h-1zM5 12h1v1h-1z"/><path fill="#ffe500" d="M8 11h1v1h-1z"/></g>
<g transform="translate(544.55 207.00) scale(3.3706 3.3333)" shape-rendering="crispEdges"><path fill="#00ccff" d="M0 0h1v1h-1zM14 1h1v1h-1zM7 2h1v1h-1zM15 2h1v1h-1zM5 3h1v1h-1zM11 4h1v1h-1zM1 5h1v1h-1zM10 5h1v1h-1zM12 5h1v1h-1zM9 6h1v1h-1zM14 6h1v1h-1zM16 8h1v1h-1zM1 9h1v1h-1zM14 10h1v1h-1zM15 12h1v1h-1zM16 13h1v1h-1zM4 15h1v1h-1zM12 15h1v1h-1zM16 16h1v1h-1zM1 17h1v1h-1zM5 17h1v1h-1zM10 17h1v1h-1zM11 17h1v1h-1z"/><path fill="#00e5ff" d="M1 0h1v1h-1zM6 0h1v1h-1zM8 0h1v1h-1zM9 0h1v1h-1zM13 0h1v1h-1zM0 1h1v1h-1zM1 1h1v1h-1zM8 1h1v1h-1zM13 1h1v1h-1zM0 2h1v1h-1zM5 2h1v1h-1zM9 2h1v1h-1zM10 2h1v1h-1zM11 2h1v1h-1zM13 2h1v1h-1zM3 3h1v1h-1zM4 3h1v1h-1zM9 3h1v1h-1zM10 3h1v1h-1zM11 3h1v1h-1zM12 3h1v1h-1zM1 4h1v1h-1zM2 4h1v1h-1zM7 4h1v1h-1zM8 4h1v1h-1zM12 4h1v1h-1zM15 4h1v1h-1zM16 4h1v1h-1zM0 5h1v1h-1zM2 5h1v1h-1zM4 5h1v1h-1zM11 5h1v1h-1zM15 5h1v1h-1zM0 6h1v1h-1zM2 6h1v1h-1zM4 6h1v1h-1zM12 6h1v1h-1zM15 6h1v1h-1zM1 7h1v1h-1zM2 7h1v1h-1zM13 7h1v1h-1zM15 7h1v1h-1zM3 8h1v1h-1zM15 8h1v1h-1zM2 9h1v1h-1zM1 10h1v1h-1zM15 10h1v1h-1zM0 11h1v1h-1zM1 11h1v1h-1zM0 13h1v1h-1zM0 15h1v1h-1zM3 15h1v1h-1zM6 15h1v1h-1zM11 15h1v1h-1zM14 15h1v1h-1zM2 16h1v1h-1zM4 16h1v1h-1zM7 16h1v1h-1zM13 16h1v1h-1zM8 17h1v1h-1zM12 17h1v1h-1z"/><path fill="#32ffcc" d="M2 0h1v1h-1zM12 0h1v1h-1zM16 0h1v1h-1zM5 1h1v1h-1zM9 1h1v1h-1zM15 1h1v1h-1zM3 2h1v1h-1zM8 2h1v1h-1zM14 3h1v1h-1zM5 4h1v1h-1zM6 4h1v1h-1zM14 4h1v1h-1zM5 5h1v1h-1zM9 5h1v1h-1zM16 5h1v1h-1zM14 7h1v1h-1zM1 8h1v1h-1zM13 9h1v1h-1zM13 10h1v1h-1zM13 11h1v1h-1zM0 12h1v1h-1zM2 12h1v1h-1zM4 12h1v1h-1zM16 12h1v1h-1zM4 13h1v1h-1zM14 13h1v1h-1zM3 14h1v1h-1zM7 14h1v1h-1zM9 14h1v1h-1zM14 14h1v1h-1zM1 15h1v1h-1zM16 17h1v1h-1z"/><path fill="#00ffff" d="M3 0h1v1h-1zM7 0h1v1h-1zM10 0h1v1h-1zM15 0h1v1h-1zM2 1h1v1h-1zM11 1h1v1h-1zM12 1h1v1h-1zM1 2h1v1h-1zM12 2h1v1h-1zM16 2h1v1h-1zM0 3h1v1h-1zM1 3h1v1h-1zM2 3h1v1h-1zM7 3h1v1h-1zM15 3h1v1h-1zM0 4h1v1h-1zM3 4h1v1h-1zM9 4h1v1h-1zM10 4h1v1h-1zM3 5h1v1h-1zM6 5h1v1h-1zM8 5h1v1h-1zM3 6h1v1h-1zM10 6h1v1h-1zM16 6h1v1h-1zM4 7h1v1h-1zM5 7h1v1h-1zM16 7h1v1h-1zM4 8h1v1h-1zM13 8h1v1h-1zM14 8h1v1h-1zM0 9h1v1h-1zM3 9h1v1h-1zM16 9h1v1h-1zM15 11h1v1h-1zM14 12h1v1h-1zM10 13h1v1h-1zM0 14h1v1h-1zM4 14h1v1h-1zM6 14h1v1h-1zM12 14h1v1h-1zM16 14h1v1h-1zM8 15h1v1h-1zM9 15h1v1h-1zM16 15h1v1h-1zM0 16h1v1h-1zM1 16h1v1h-1zM3 16h1v1h-1zM6 16h1v1h-1zM12 16h1v1h-1zM15 16h1v1h-1zM3 17h1v1h-1zM4 17h1v1h-1zM7 17h1v1h-1zM13 17h1v1h-1zM14 17h1v1h-1zM15 17h1v1h-1z"/><path fill="#19ffe5" d="M4 0h1v1h-1zM5 0h1v1h-1zM14 0h1v1h-1zM4 1h1v1h-1zM6 1h1v1h-1zM7 1h1v1h-1zM10 1h1v1h-1zM2 2h1v1h-1zM4 2h1v1h-1zM6 2h1v1h-1zM8 3h1v1h-1zM4 4h1v1h-1zM13 4h1v1h-1zM7 5h1v1h-1zM13 5h1v1h-1zM14 5h1v1h-1zM6 6h1v1h-1zM13 6h1v1h-1zM0 7h1v1h-1zM3 7h1v1h-1zM11 7h1v1h-1zM0 8h1v1h-1zM2 8h1v1h-1zM14 9h1v1h-1zM0 10h1v1h-1zM2 10h1v1h-1zM3 10h1v1h-1zM16 10h1v1h-1zM14 11h1v1h-1zM16 11h1v1h-1zM1 13h1v1h-1zM11 13h1v1h-1zM15 13h1v1h-1zM2 14h1v1h-1zM8 14h1v1h-1zM15 14h1v1h-1zM5 15h1v1h-1zM10 15h1v1h-1zM13 15h1v1h-1zM15 15h1v1h-1zM9 16h1v1h-1zM0 17h1v1h-1zM2 17h1v1h-1zM6 17h1v1h-1zM9 17h1v1h-1z"/><path fill="#00b2ff" d="M11 0h1v1h-1zM6 3h1v1h-1zM13 3h1v1h-1zM1 6h1v1h-1zM15 9h1v1h-1zM13 14h1v1h-1zM2 15h1v1h-1zM8 16h1v1h-1zM11 16h1v1h-1zM14 16h1v1h-1z"/><path fill="#0099ff" d="M3 1h1v1h-1zM16 1h1v1h-1zM11 6h1v1h-1zM1 14h1v1h-1zM5 16h1v1h-1z"/><path fill="#4cffb2" d="M14 2h1v1h-1zM16 3h1v1h-1zM5 6h1v1h-1zM7 6h1v1h-1zM8 6h1v1h-1zM6 7h1v1h-1zM7 7h1v1h-1zM8 7h1v1h-1zM10 7h1v1h-1zM12 7h1v1h-1zM4 9h1v1h-1zM7 9h1v1h-1zM2 11h1v1h-1zM1 12h1v1h-1zM13 12h1v1h-1zM2 13h1v1h-1zM6 13h1v1h-1zM12 13h1v1h-1zM5 14h1v1h-1zM11 14h1v1h-1zM7 15h1v1h-1z"/><path fill="#99ff65" d="M9 7h1v1h-1zM7 8h1v1h-1zM10 8h1v1h-1zM5 9h1v1h-1zM6 9h1v1h-1zM9 9h1v1h-1zM12 9h1v1h-1zM10 10h1v1h-1zM12 10h1v1h-1zM10 11h1v1h-1zM11 12h1v1h-1zM8 13h1v1h-1z"/><path fill="#65ff99" d="M5 8h1v1h-1zM12 8h1v1h-1zM3 11h1v1h-1zM12 11h1v1h-1zM3 12h1v1h-1zM12 12h1v1h-1zM3 13h1v1h-1zM5 13h1v1h-1zM7 13h1v1h-1zM10 14h1v1h-1z"/><path fill="#7fff7f" d="M6 8h1v1h-1zM4 10h1v1h-1zM9 13h1v1h-1zM13 13h1v1h-1zM10 16h1v1h-1z"/><path fill="#b2ff4c" d="M8 8h1v1h-1zM11 8h1v1h-1zM10 9h1v1h-1zM8 10h1v1h-1zM4 11h1v1h-1zM5 12h1v1h-1zM7 12h1v1h-1zM8 12h1v1h-1z"/><path fill="#cbff33" d="M9 8h1v1h-1zM6 10h1v1h-1zM8 11h1v1h-1zM9 11h1v1h-1zM9 12h1v1h-1z"/><path fill="#e5ff19" d="M8 9h1v1h-1zM11 9h1v1h-1zM5 10h1v1h-1zM11 10h1v1h-1zM5 11h1v1h-1zM11 11h1v1h-1zM10 12h1v1h-1z"/><path fill="#ffcb00" d="M7 10h1v1h-1zM6 11h1v1h-1z"/><path fill="#ffe500" d="M9 10h1v1h-1zM6 12h1v1h-1z"/><path fill="#ff4c00" d="M7 11h1v1h-1z"/></g>
<g transform="translate(619.40 207.00) scale(3.3706 3.3333)" shape-rendering="crispEdges"><path fill="#00e5ff" d="M0 0h1v1h-1zM1 0h1v1h-1zM8 0h1v1h-1zM16 0h1v1h-1zM5 1h1v1h-1zM9 1h1v1h-1zM15 1h1v1h-1zM5 2h1v1h-1zM9 2h1v1h-1zM11 2h1v1h-1zM15 2h1v1h-1zM9 3h1v1h-1zM10 3h1v1h-1zM9 4h1v1h-1zM11 4h1v1h-1zM15 4h1v1h-1zM3 5h1v1h-1zM5 5h1v1h-1zM7 5h1v1h-1zM13 5h1v1h-1zM15 5h1v1h-1zM1 6h1v1h-1zM2 6h1v1h-1zM12 6h1v1h-1zM16 6h1v1h-1zM13 7h1v1h-1zM14 7h1v1h-1zM0 8h1v1h-1zM2 8h1v1h-1zM14 8h1v1h-1zM1 9h1v1h-1zM2 9h1v1h-1zM15 9h1v1h-1zM0 11h1v1h-1zM3 14h1v1h-1zM1 15h1v1h-1zM11 15h1v1h-1zM16 15h1v1h-1zM2 16h1v1h-1zM9 16h1v1h-1zM14 16h1v1h-1zM6 17h1v1h-1zM8 17h1v1h-1zM11 17h1v1h-1zM15 17h1v1h-1z"/><path fill="#00ccff" d="M2 0h1v1h-1zM3 0h1v1h-1zM6 0h1v1h-1zM10 0h1v1h-1zM8 1h1v1h-1zM10 1h1v1h-1zM11 1h1v1h-1zM13 1h1v1h-1zM0 2h1v1h-1zM3 3h1v1h-1zM4 4h1v1h-1zM5 4h1v1h-1zM6 4h1v1h-1zM7 4h1v1h-1zM8 4h1v1h-1zM14 4h1v1h-1zM16 4h1v1h-1zM0 5h1v1h-1zM15 6h1v1h-1zM1 7h1v1h-1zM15 7h1v1h-1zM4 15h1v1h-1zM7 15h1v1h-1zM3 16h1v1h-1zM0 17h1v1h-1z"/><path fill="#19ffe5" d="M4 0h1v1h-1zM5 0h1v1h-1zM14 0h1v1h-1zM0 1h1v1h-1zM1 1h1v1h-1zM2 1h1v1h-1zM2 2h1v1h-1zM4 2h1v1h-1zM7 2h1v1h-1zM8 2h1v1h-1zM16 2h1v1h-1zM0 3h1v1h-1zM4 3h1v1h-1zM8 3h1v1h-1zM13 3h1v1h-1zM14 3h1v1h-1zM15 3h1v1h-1zM6 5h1v1h-1zM9 5h1v1h-1zM14 5h1v1h-1zM3 6h1v1h-1zM8 6h1v1h-1zM0 7h1v1h-1zM3 7h1v1h-1zM4 7h1v1h-1zM10 7h1v1h-1zM12 7h1v1h-1zM3 8h1v1h-1zM16 8h1v1h-1zM13 9h1v1h-1zM0 10h1v1h-1zM15 10h1v1h-1zM2 11h1v1h-1zM13 11h1v1h-1zM15 11h1v1h-1zM16 11h1v1h-1zM1 12h1v1h-1zM1 13h1v1h-1zM2 13h1v1h-1zM6 14h1v1h-1zM12 14h1v1h-1zM13 14h1v1h-1zM16 14h1v1h-1zM0 15h1v1h-1zM3 15h1v1h-1zM4 16h1v1h-1zM5 16h1v1h-1zM15 16h1v1h-1zM2 17h1v1h-1zM4 17h1v1h-1zM5 17h1v1h-1zM16 17h1v1h-1z"/><path fill="#32ffcc" d="M7 0h1v1h-1zM9 0h1v1h-1zM3 1h1v1h-1zM14 1h1v1h-1zM1 2h1v1h-1zM14 2h1v1h-1zM5 3h1v1h-1zM6 3h1v1h-1zM16 3h1v1h-1zM4 6h1v1h-1zM6 6h1v1h-1zM9 6h1v1h-1zM5 7h1v1h-1zM15 8h1v1h-1zM4 10h1v1h-1zM14 11h1v1h-1zM14 12h1v1h-1zM15 12h1v1h-1zM16 12h1v1h-1zM15 13h1v1h-1zM16 13h1v1h-1zM1 14h1v1h-1zM9 14h1v1h-1zM10 14h1v1h-1zM15 14h1v1h-1zM2 15h1v1h-1zM10 15h1v1h-1zM13 15h1v1h-1zM14 15h1v1h-1zM0 16h1v1h-1zM10 16h1v1h-1zM16 16h1v1h-1zM12 17h1v1h-1zM14 17h1v1h-1z"/><path fill="#00ffff" d="M11 0h1v1h-1zM13 0h1v1h-1zM15 0h1v1h-1zM4 1h1v1h-1zM6 1h1v1h-1zM7 1h1v1h-1zM3 2h1v1h-1zM6 2h1v1h-1zM10 2h1v1h-1zM12 2h1v1h-1zM13 2h1v1h-1zM2 3h1v1h-1zM11 3h1v1h-1zM12 3h1v1h-1zM0 4h1v1h-1zM2 4h1v1h-1zM3 4h1v1h-1zM10 4h1v1h-1zM12 4h1v1h-1zM1 5h1v1h-1zM2 5h1v1h-1zM4 5h1v1h-1zM8 5h1v1h-1zM10 5h1v1h-1zM11 5h1v1h-1zM12 5h1v1h-1zM0 6h1v1h-1zM10 6h1v1h-1zM11 6h1v1h-1zM13 6h1v1h-1zM14 6h1v1h-1zM16 7h1v1h-1zM12 8h1v1h-1zM13 8h1v1h-1zM0 9h1v1h-1zM16 9h1v1h-1zM1 10h1v1h-1zM14 10h1v1h-1zM16 10h1v1h-1zM1 11h1v1h-1zM0 13h1v1h-1zM3 13h1v1h-1zM8 13h1v1h-1zM0 14h1v1h-1zM5 14h1v1h-1zM7 14h1v1h-1zM14 14h1v1h-1zM5 15h1v1h-1zM6 15h1v1h-1zM8 15h1v1h-1zM9 15h1v1h-1zM8 16h1v1h-1zM11 16h1v1h-1zM13 16h1v1h-1zM1 17h1v1h-1zM10 17h1v1h-1z"/><path fill="#00b2ff" d="M12 0h1v1h-1zM12 1h1v1h-1zM16 1h1v1h-1zM1 3h1v1h-1zM7 3h1v1h-1zM1 4h1v1h-1zM16 5h1v1h-1zM5 6h1v1h-1zM14 9h1v1h-1zM6 16h1v1h-1zM7 16h1v1h-1zM12 16h1v1h-1zM3 17h1v1h-1z"/><path fill="#4cffb2" d="M13 4h1v1h-1zM6 7h1v1h-1zM9 7h1v1h-1zM1 8h1v1h-1zM4 8h1v1h-1zM11 8h1v1h-1zM3 9h1v1h-1zM3 10h1v1h-1zM3 11h1v1h-1zM2 12h1v1h-1zM5 13h1v1h-1zM10 13h1v1h-1zM11 13h1v1h-1zM13 13h1v1h-1zM2 14h1v1h-1zM8 14h1v1h-1zM15 15h1v1h-1zM13 17h1v1h-1z"/><path fill="#b2ff4c" d="M7 6h1v1h-1zM6 8h1v1h-1zM6 9h1v1h-1zM7 9h1v1h-1zM11 9h1v1h-1zM7 17h1v1h-1z"/><path fill="#0099ff" d="M2 7h1v1h-1z"/><path fill="#7fff7f" d="M7 7h1v1h-1zM5 8h1v1h-1zM4 9h1v1h-1zM12 9h1v1h-1zM2 10h1v1h-1zM5 10h1v1h-1zM13 10h1v1h-1zM9 12h1v1h-1zM13 12h1v1h-1zM4 13h1v1h-1z"/><path fill="#99ff65" d="M8 7h1v1h-1zM7 8h1v1h-1zM5 9h1v1h-1zM9 9h1v1h-1zM10 10h1v1h-1zM8 11h1v1h-1zM9 11h1v1h-1zM3 12h1v1h-1zM6 12h1v1h-1zM10 12h1v1h-1zM12 12h1v1h-1zM6 13h1v1h-1zM9 13h1v1h-1zM12 13h1v1h-1z"/><path fill="#65ff99" d="M11 7h1v1h-1zM4 11h1v1h-1zM0 12h1v1h-1zM4 12h1v1h-1zM7 13h1v1h-1zM14 13h1v1h-1zM4 14h1v1h-1zM11 14h1v1h-1zM12 15h1v1h-1zM9 17h1v1h-1z"/><path fill="#e5ff19" d="M8 8h1v1h-1zM10 8h1v1h-1zM8 9h1v1h-1zM6 10h1v1h-1zM12 10h1v1h-1zM11 11h1v1h-1zM7 12h1v1h-1zM11 12h1v1h-1z"/><path fill="#ffff00" d="M9 8h1v1h-1zM9 10h1v1h-1zM10 11h1v1h-1z"/><path fill="#cbff33" d="M10 9h1v1h-1zM7 10h1v1h-1zM11 10h1v1h-1zM5 11h1v1h-1zM12 11h1v1h-1zM5 12h1v1h-1zM8 12h1v1h-1z"/><path fill="#ffe500" d="M8 10h1v1h-1z"/><path fill="#ffcb00" d="M6 11h1v1h-1z"/><path fill="#ff4c00" d="M7 11h1v1h-1z"/><path fill="#007fff" d="M1 16h1v1h-1z"/></g>
<text x="376.5" y="42.0" font-size="15" fill="#fff" text-anchor="end">0 min</text>
<text x="451.4" y="42.0" font-size="15" fill="#fff" text-anchor="end">1 min</text>
<text x="526.2" y="42.0" font-size="15" fill="#111" text-anchor="end">2 min</text>
<text x="601.0" y="42.0" font-size="15" fill="#111" text-anchor="end">3 min</text>
<text x="675.9" y="42.0" font-size="15" fill="#111" text-anchor="end">4 min</text>
<text x="376.5" y="133.0" font-size="15" fill="#fff" text-anchor="end">0 min</text>
<text x="451.4" y="133.0" font-size="15" fill="#fff" text-anchor="end">1 min</text>
<text x="526.2" y="133.0" font-size="15" fill="#111" text-anchor="end">2 min</text>
<text x="601.0" y="133.0" font-size="15" fill="#111" text-anchor="end">3 min</text>
<text x="675.9" y="133.0" font-size="15" fill="#111" text-anchor="end">4 min</text>
<text x="376.5" y="221.0" font-size="15" fill="#fff" text-anchor="end">0 min</text>
<text x="451.4" y="221.0" font-size="15" fill="#fff" text-anchor="end">1 min</text>
<text x="526.2" y="221.0" font-size="15" fill="#111" text-anchor="end">2 min</text>
<text x="601.0" y="221.0" font-size="15" fill="#111" text-anchor="end">3 min</text>
<text x="675.9" y="221.0" font-size="15" fill="#111" text-anchor="end">4 min</text>
<rect x="324" y="81" width="17" height="3.8" fill="#fff"/>
<g font-size="15.6" fill="#111">
<text x="65" y="597.4" text-anchor="end">0</text>
<text x="65" y="502.4" text-anchor="end">0.5</text>
<text x="65" y="407.4" text-anchor="end">1.0</text>
<text x="65" y="312.4" text-anchor="end">1.5</text>
<text x="72.5" y="629.3" text-anchor="middle">0</text>
<text x="148.4" y="629.3" text-anchor="middle">1</text>
<text x="224.4" y="629.3" text-anchor="middle">2</text>
<text x="300.3" y="629.3" text-anchor="middle">3</text>
<text x="376.2" y="629.3" text-anchor="middle">4</text>
<text x="452.2" y="629.3" text-anchor="middle">5</text>
<text x="528.1" y="629.3" text-anchor="middle">6</text>
<text x="604.1" y="629.3" text-anchor="middle">7</text>
<text x="680.0" y="629.3" text-anchor="middle">8</text>
<text x="376" y="654.3" text-anchor="middle">Time (min)</text>
<text transform="translate(30 470.9) rotate(-90)">(I-I<tspan font-size="9" dy="5.2">0</tspan><tspan dy="-5.2">)/I</tspan><tspan font-size="9" dy="5.2">0</tspan></text>
</g>
<g fill="none" stroke-width="1.6">
<path stroke="#0066ff" d="M76.3 584.6a2.3 2.3 0 1 0 4.6 0a2.3 2.3 0 1 0 -4.6 0M85.0 609.9a2.3 2.3 0 1 0 4.6 0a2.3 2.3 0 1 0 -4.6 0M93.8 589.0a2.3 2.3 0 1 0 4.6 0a2.3 2.3 0 1 0 -4.6 0M102.6 590.9a2.3 2.3 0 1 0 4.6 0a2.3 2.3 0 1 0 -4.6 0M111.4 583.6a2.3 2.3 0 1 0 4.6 0a2.3 2.3 0 1 0 -4.6 0M120.1 586.8a2.3 2.3 0 1 0 4.6 0a2.3 2.3 0 1 0 -4.6 0M128.9 583.5a2.3 2.3 0 1 0 4.6 0a2.3 2.3 0 1 0 -4.6 0M137.7 586.7a2.3 2.3 0 1 0 4.6 0a2.3 2.3 0 1 0 -4.6 0M146.4 591.4a2.3 2.3 0 1 0 4.6 0a2.3 2.3 0 1 0 -4.6 0M155.2 581.5a2.3 2.3 0 1 0 4.6 0a2.3 2.3 0 1 0 -4.6 0M164.0 574.0a2.3 2.3 0 1 0 4.6 0a2.3 2.3 0 1 0 -4.6 0M172.8 574.1a2.3 2.3 0 1 0 4.6 0a2.3 2.3 0 1 0 -4.6 0M181.5 569.8a2.3 2.3 0 1 0 4.6 0a2.3 2.3 0 1 0 -4.6 0M190.3 558.2a2.3 2.3 0 1 0 4.6 0a2.3 2.3 0 1 0 -4.6 0M199.1 551.1a2.3 2.3 0 1 0 4.6 0a2.3 2.3 0 1 0 -4.6 0M207.8 548.7a2.3 2.3 0 1 0 4.6 0a2.3 2.3 0 1 0 -4.6 0M216.6 544.7a2.3 2.3 0 1 0 4.6 0a2.3 2.3 0 1 0 -4.6 0M225.4 547.2a2.3 2.3 0 1 0 4.6 0a2.3 2.3 0 1 0 -4.6 0M234.1 515.1a2.3 2.3 0 1 0 4.6 0a2.3 2.3 0 1 0 -4.6 0M242.9 524.5a2.3 2.3 0 1 0 4.6 0a2.3 2.3 0 1 0 -4.6 0M251.7 506.0a2.3 2.3 0 1 0 4.6 0a2.3 2.3 0 1 0 -4.6 0M260.5 504.3a2.3 2.3 0 1 0 4.6 0a2.3 2.3 0 1 0 -4.6 0M269.2 485.5a2.3 2.3 0 1 0 4.6 0a2.3 2.3 0 1 0 -4.6 0M278.0 485.8a2.3 2.3 0 1 0 4.6 0a2.3 2.3 0 1 0 -4.6 0M286.8 486.4a2.3 2.3 0 1 0 4.6 0a2.3 2.3 0 1 0 -4.6 0M295.5 476.9a2.3 2.3 0 1 0 4.6 0a2.3 2.3 0 1 0 -4.6 0M304.3 483.8a2.3 2.3 0 1 0 4.6 0a2.3 2.3 0 1 0 -4.6 0M313.1 466.9a2.3 2.3 0 1 0 4.6 0a2.3 2.3 0 1 0 -4.6 0M321.9 482.0a2.3 2.3 0 1 0 4.6 0a2.3 2.3 0 1 0 -4.6 0M330.6 467.9a2.3 2.3 0 1 0 4.6 0a2.3 2.3 0 1 0 -4.6 0M339.4 463.6a2.3 2.3 0 1 0 4.6 0a2.3 2.3 0 1 0 -4.6 0M348.2 458.1a2.3 2.3 0 1 0 4.6 0a2.3 2.3 0 1 0 -4.6 0M356.9 463.0a2.3 2.3 0 1 0 4.6 0a2.3 2.3 0 1 0 -4.6 0M365.7 465.1a2.3 2.3 0 1 0 4.6 0a2.3 2.3 0 1 0 -4.6 0M374.5 462.0a2.3 2.3 0 1 0 4.6 0a2.3 2.3 0 1 0 -4.6 0M383.3 454.2a2.3 2.3 0 1 0 4.6 0a2.3 2.3 0 1 0 -4.6 0M392.0 451.3a2.3 2.3 0 1 0 4.6 0a2.3 2.3 0 1 0 -4.6 0M400.8 456.8a2.3 2.3 0 1 0 4.6 0a2.3 2.3 0 1 0 -4.6 0M409.6 459.8a2.3 2.3 0 1 0 4.6 0a2.3 2.3 0 1 0 -4.6 0M418.3 448.9a2.3 2.3 0 1 0 4.6 0a2.3 2.3 0 1 0 -4.6 0M427.1 462.0a2.3 2.3 0 1 0 4.6 0a2.3 2.3 0 1 0 -4.6 0M435.9 456.0a2.3 2.3 0 1 0 4.6 0a2.3 2.3 0 1 0 -4.6 0M444.6 458.2a2.3 2.3 0 1 0 4.6 0a2.3 2.3 0 1 0 -4.6 0M453.4 442.0a2.3 2.3 0 1 0 4.6 0a2.3 2.3 0 1 0 -4.6 0M462.2 447.9a2.3 2.3 0 1 0 4.6 0a2.3 2.3 0 1 0 -4.6 0M471.0 442.4a2.3 2.3 0 1 0 4.6 0a2.3 2.3 0 1 0 -4.6 0M479.7 451.1a2.3 2.3 0 1 0 4.6 0a2.3 2.3 0 1 0 -4.6 0M488.5 456.7a2.3 2.3 0 1 0 4.6 0a2.3 2.3 0 1 0 -4.6 0M497.3 449.2a2.3 2.3 0 1 0 4.6 0a2.3 2.3 0 1 0 -4.6 0M506.0 439.1a2.3 2.3 0 1 0 4.6 0a2.3 2.3 0 1 0 -4.6 0M514.8 446.0a2.3 2.3 0 1 0 4.6 0a2.3 2.3 0 1 0 -4.6 0M523.6 441.1a2.3 2.3 0 1 0 4.6 0a2.3 2.3 0 1 0 -4.6 0M532.4 447.8a2.3 2.3 0 1 0 4.6 0a2.3 2.3 0 1 0 -4.6 0M541.1 436.0a2.3 2.3 0 1 0 4.6 0a2.3 2.3 0 1 0 -4.6 0M549.9 434.3a2.3 2.3 0 1 0 4.6 0a2.3 2.3 0 1 0 -4.6 0M558.7 433.9a2.3 2.3 0 1 0 4.6 0a2.3 2.3 0 1 0 -4.6 0M567.4 435.8a2.3 2.3 0 1 0 4.6 0a2.3 2.3 0 1 0 -4.6 0M576.2 433.8a2.3 2.3 0 1 0 4.6 0a2.3 2.3 0 1 0 -4.6 0M585.0 441.3a2.3 2.3 0 1 0 4.6 0a2.3 2.3 0 1 0 -4.6 0M593.8 441.5a2.3 2.3 0 1 0 4.6 0a2.3 2.3 0 1 0 -4.6 0M602.5 439.9a2.3 2.3 0 1 0 4.6 0a2.3 2.3 0 1 0 -4.6 0M611.3 436.0a2.3 2.3 0 1 0 4.6 0a2.3 2.3 0 1 0 -4.6 0M620.1 442.2a2.3 2.3 0 1 0 4.6 0a2.3 2.3 0 1 0 -4.6 0M628.8 450.5a2.3 2.3 0 1 0 4.6 0a2.3 2.3 0 1 0 -4.6 0M637.6 442.9a2.3 2.3 0 1 0 4.6 0a2.3 2.3 0 1 0 -4.6 0M646.4 435.1a2.3 2.3 0 1 0 4.6 0a2.3 2.3 0 1 0 -4.6 0M655.1 442.0a2.3 2.3 0 1 0 4.6 0a2.3 2.3 0 1 0 -4.6 0M663.9 462.5a2.3 2.3 0 1 0 4.6 0a2.3 2.3 0 1 0 -4.6 0M672.7 450.8a2.3 2.3 0 1 0 4.6 0a2.3 2.3 0 1 0 -4.6 0M76.3 579.3a2.3 2.3 0 1 0 4.6 0a2.3 2.3 0 1 0 -4.6 0M93.8 590.3a2.3 2.3 0 1 0 4.6 0a2.3 2.3 0 1 0 -4.6 0M102.6 594.9a2.3 2.3 0 1 0 4.6 0a2.3 2.3 0 1 0 -4.6 0M111.4 584.9a2.3 2.3 0 1 0 4.6 0a2.3 2.3 0 1 0 -4.6 0M120.1 589.6a2.3 2.3 0 1 0 4.6 0a2.3 2.3 0 1 0 -4.6 0M128.9 575.9a2.3 2.3 0 1 0 4.6 0a2.3 2.3 0 1 0 -4.6 0M137.7 581.9a2.3 2.3 0 1 0 4.6 0a2.3 2.3 0 1 0 -4.6 0M146.4 579.9a2.3 2.3 0 1 0 4.6 0a2.3 2.3 0 1 0 -4.6 0M155.2 578.4a2.3 2.3 0 1 0 4.6 0a2.3 2.3 0 1 0 -4.6 0M164.0 573.0a2.3 2.3 0 1 0 4.6 0a2.3 2.3 0 1 0 -4.6 0M172.8 569.2a2.3 2.3 0 1 0 4.6 0a2.3 2.3 0 1 0 -4.6 0M181.5 566.1a2.3 2.3 0 1 0 4.6 0a2.3 2.3 0 1 0 -4.6 0M190.3 551.3a2.3 2.3 0 1 0 4.6 0a2.3 2.3 0 1 0 -4.6 0M199.1 546.6a2.3 2.3 0 1 0 4.6 0a2.3 2.3 0 1 0 -4.6 0M207.8 550.2a2.3 2.3 0 1 0 4.6 0a2.3 2.3 0 1 0 -4.6 0M216.6 542.7a2.3 2.3 0 1 0 4.6 0a2.3 2.3 0 1 0 -4.6 0M225.4 543.5a2.3 2.3 0 1 0 4.6 0a2.3 2.3 0 1 0 -4.6 0M234.1 516.1a2.3 2.3 0 1 0 4.6 0a2.3 2.3 0 1 0 -4.6 0M242.9 522.0a2.3 2.3 0 1 0 4.6 0a2.3 2.3 0 1 0 -4.6 0M251.7 504.0a2.3 2.3 0 1 0 4.6 0a2.3 2.3 0 1 0 -4.6 0M260.5 504.6a2.3 2.3 0 1 0 4.6 0a2.3 2.3 0 1 0 -4.6 0M269.2 487.4a2.3 2.3 0 1 0 4.6 0a2.3 2.3 0 1 0 -4.6 0M278.0 491.8a2.3 2.3 0 1 0 4.6 0a2.3 2.3 0 1 0 -4.6 0M286.8 499.2a2.3 2.3 0 1 0 4.6 0a2.3 2.3 0 1 0 -4.6 0M295.5 485.5a2.3 2.3 0 1 0 4.6 0a2.3 2.3 0 1 0 -4.6 0M304.3 495.9a2.3 2.3 0 1 0 4.6 0a2.3 2.3 0 1 0 -4.6 0M313.1 485.1a2.3 2.3 0 1 0 4.6 0a2.3 2.3 0 1 0 -4.6 0M321.9 493.5a2.3 2.3 0 1 0 4.6 0a2.3 2.3 0 1 0 -4.6 0M330.6 483.2a2.3 2.3 0 1 0 4.6 0a2.3 2.3 0 1 0 -4.6 0M339.4 473.2a2.3 2.3 0 1 0 4.6 0a2.3 2.3 0 1 0 -4.6 0M348.2 474.9a2.3 2.3 0 1 0 4.6 0a2.3 2.3 0 1 0 -4.6 0M356.9 479.8a2.3 2.3 0 1 0 4.6 0a2.3 2.3 0 1 0 -4.6 0M365.7 479.9a2.3 2.3 0 1 0 4.6 0a2.3 2.3 0 1 0 -4.6 0M374.5 480.8a2.3 2.3 0 1 0 4.6 0a2.3 2.3 0 1 0 -4.6 0M383.3 468.3a2.3 2.3 0 1 0 4.6 0a2.3 2.3 0 1 0 -4.6 0M392.0 470.4a2.3 2.3 0 1 0 4.6 0a2.3 2.3 0 1 0 -4.6 0M400.8 475.6a2.3 2.3 0 1 0 4.6 0a2.3 2.3 0 1 0 -4.6 0M409.6 483.5a2.3 2.3 0 1 0 4.6 0a2.3 2.3 0 1 0 -4.6 0M418.3 469.5a2.3 2.3 0 1 0 4.6 0a2.3 2.3 0 1 0 -4.6 0M427.1 487.7a2.3 2.3 0 1 0 4.6 0a2.3 2.3 0 1 0 -4.6 0M435.9 476.4a2.3 2.3 0 1 0 4.6 0a2.3 2.3 0 1 0 -4.6 0M444.6 477.2a2.3 2.3 0 1 0 4.6 0a2.3 2.3 0 1 0 -4.6 0M453.4 463.5a2.3 2.3 0 1 0 4.6 0a2.3 2.3 0 1 0 -4.6 0M462.2 463.9a2.3 2.3 0 1 0 4.6 0a2.3 2.3 0 1 0 -4.6 0M471.0 463.4a2.3 2.3 0 1 0 4.6 0a2.3 2.3 0 1 0 -4.6 0M479.7 468.7a2.3 2.3 0 1 0 4.6 0a2.3 2.3 0 1 0 -4.6 0M488.5 475.2a2.3 2.3 0 1 0 4.6 0a2.3 2.3 0 1 0 -4.6 0M497.3 464.6a2.3 2.3 0 1 0 4.6 0a2.3 2.3 0 1 0 -4.6 0M506.0 461.0a2.3 2.3 0 1 0 4.6 0a2.3 2.3 0 1 0 -4.6 0M514.8 470.8a2.3 2.3 0 1 0 4.6 0a2.3 2.3 0 1 0 -4.6 0M523.6 465.5a2.3 2.3 0 1 0 4.6 0a2.3 2.3 0 1 0 -4.6 0M532.4 465.0a2.3 2.3 0 1 0 4.6 0a2.3 2.3 0 1 0 -4.6 0M541.1 457.6a2.3 2.3 0 1 0 4.6 0a2.3 2.3 0 1 0 -4.6 0M549.9 464.0a2.3 2.3 0 1 0 4.6 0a2.3 2.3 0 1 0 -4.6 0M558.7 461.5a2.3 2.3 0 1 0 4.6 0a2.3 2.3 0 1 0 -4.6 0M567.4 464.1a2.3 2.3 0 1 0 4.6 0a2.3 2.3 0 1 0 -4.6 0M576.2 449.1a2.3 2.3 0 1 0 4.6 0a2.3 2.3 0 1 0 -4.6 0M585.0 465.4a2.3 2.3 0 1 0 4.6 0a2.3 2.3 0 1 0 -4.6 0M593.8 468.4a2.3 2.3 0 1 0 4.6 0a2.3 2.3 0 1 0 -4.6 0M602.5 467.4a2.3 2.3 0 1 0 4.6 0a2.3 2.3 0 1 0 -4.6 0M611.3 463.7a2.3 2.3 0 1 0 4.6 0a2.3 2.3 0 1 0 -4.6 0M620.1 475.7a2.3 2.3 0 1 0 4.6 0a2.3 2.3 0 1 0 -4.6 0M628.8 471.6a2.3 2.3 0 1 0 4.6 0a2.3 2.3 0 1 0 -4.6 0M637.6 458.6a2.3 2.3 0 1 0 4.6 0a2.3 2.3 0 1 0 -4.6 0M646.4 455.0a2.3 2.3 0 1 0 4.6 0a2.3 2.3 0 1 0 -4.6 0M655.1 460.0a2.3 2.3 0 1 0 4.6 0a2.3 2.3 0 1 0 -4.6 0M663.9 482.5a2.3 2.3 0 1 0 4.6 0a2.3 2.3 0 1 0 -4.6 0M672.7 466.4a2.3 2.3 0 1 0 4.6 0a2.3 2.3 0 1 0 -4.6 0M76.3 579.2a2.3 2.3 0 1 0 4.6 0a2.3 2.3 0 1 0 -4.6 0M85.0 608.7a2.3 2.3 0 1 0 4.6 0a2.3 2.3 0 1 0 -4.6 0M93.8 588.6a2.3 2.3 0 1 0 4.6 0a2.3 2.3 0 1 0 -4.6 0M102.6 591.2a2.3 2.3 0 1 0 4.6 0a2.3 2.3 0 1 0 -4.6 0M111.4 582.6a2.3 2.3 0 1 0 4.6 0a2.3 2.3 0 1 0 -4.6 0M120.1 586.5a2.3 2.3 0 1 0 4.6 0a2.3 2.3 0 1 0 -4.6 0M128.9 578.8a2.3 2.3 0 1 0 4.6 0a2.3 2.3 0 1 0 -4.6 0M137.7 586.8a2.3 2.3 0 1 0 4.6 0a2.3 2.3 0 1 0 -4.6 0M146.4 586.0a2.3 2.3 0 1 0 4.6 0a2.3 2.3 0 1 0 -4.6 0M155.2 577.3a2.3 2.3 0 1 0 4.6 0a2.3 2.3 0 1 0 -4.6 0M164.0 571.2a2.3 2.3 0 1 0 4.6 0a2.3 2.3 0 1 0 -4.6 0M172.8 574.8a2.3 2.3 0 1 0 4.6 0a2.3 2.3 0 1 0 -4.6 0M181.5 571.0a2.3 2.3 0 1 0 4.6 0a2.3 2.3 0 1 0 -4.6 0M190.3 557.3a2.3 2.3 0 1 0 4.6 0a2.3 2.3 0 1 0 -4.6 0M199.1 558.2a2.3 2.3 0 1 0 4.6 0a2.3 2.3 0 1 0 -4.6 0M207.8 563.9a2.3 2.3 0 1 0 4.6 0a2.3 2.3 0 1 0 -4.6 0M216.6 554.0a2.3 2.3 0 1 0 4.6 0a2.3 2.3 0 1 0 -4.6 0M225.4 560.6a2.3 2.3 0 1 0 4.6 0a2.3 2.3 0 1 0 -4.6 0M234.1 529.4a2.3 2.3 0 1 0 4.6 0a2.3 2.3 0 1 0 -4.6 0M242.9 535.4a2.3 2.3 0 1 0 4.6 0a2.3 2.3 0 1 0 -4.6 0M251.7 518.2a2.3 2.3 0 1 0 4.6 0a2.3 2.3 0 1 0 -4.6 0M260.5 515.1a2.3 2.3 0 1 0 4.6 0a2.3 2.3 0 1 0 -4.6 0M269.2 499.9a2.3 2.3 0 1 0 4.6 0a2.3 2.3 0 1 0 -4.6 0M278.0 498.2a2.3 2.3 0 1 0 4.6 0a2.3 2.3 0 1 0 -4.6 0M286.8 504.7a2.3 2.3 0 1 0 4.6 0a2.3 2.3 0 1 0 -4.6 0M295.5 492.5a2.3 2.3 0 1 0 4.6 0a2.3 2.3 0 1 0 -4.6 0M304.3 510.5a2.3 2.3 0 1 0 4.6 0a2.3 2.3 0 1 0 -4.6 0M313.1 490.3a2.3 2.3 0 1 0 4.6 0a2.3 2.3 0 1 0 -4.6 0M321.9 509.6a2.3 2.3 0 1 0 4.6 0a2.3 2.3 0 1 0 -4.6 0M330.6 493.8a2.3 2.3 0 1 0 4.6 0a2.3 2.3 0 1 0 -4.6 0M339.4 488.5a2.3 2.3 0 1 0 4.6 0a2.3 2.3 0 1 0 -4.6 0M348.2 496.9a2.3 2.3 0 1 0 4.6 0a2.3 2.3 0 1 0 -4.6 0M356.9 497.1a2.3 2.3 0 1 0 4.6 0a2.3 2.3 0 1 0 -4.6 0M365.7 500.3a2.3 2.3 0 1 0 4.6 0a2.3 2.3 0 1 0 -4.6 0M374.5 494.9a2.3 2.3 0 1 0 4.6 0a2.3 2.3 0 1 0 -4.6 0M383.3 489.8a2.3 2.3 0 1 0 4.6 0a2.3 2.3 0 1 0 -4.6 0M392.0 489.4a2.3 2.3 0 1 0 4.6 0a2.3 2.3 0 1 0 -4.6 0M400.8 498.0a2.3 2.3 0 1 0 4.6 0a2.3 2.3 0 1 0 -4.6 0M409.6 500.2a2.3 2.3 0 1 0 4.6 0a2.3 2.3 0 1 0 -4.6 0M418.3 484.1a2.3 2.3 0 1 0 4.6 0a2.3 2.3 0 1 0 -4.6 0M427.1 499.2a2.3 2.3 0 1 0 4.6 0a2.3 2.3 0 1 0 -4.6 0M435.9 488.7a2.3 2.3 0 1 0 4.6 0a2.3 2.3 0 1 0 -4.6 0M444.6 488.7a2.3 2.3 0 1 0 4.6 0a2.3 2.3 0 1 0 -4.6 0M453.4 478.3a2.3 2.3 0 1 0 4.6 0a2.3 2.3 0 1 0 -4.6 0M462.2 483.3a2.3 2.3 0 1 0 4.6 0a2.3 2.3 0 1 0 -4.6 0M471.0 481.9a2.3 2.3 0 1 0 4.6 0a2.3 2.3 0 1 0 -4.6 0M479.7 481.0a2.3 2.3 0 1 0 4.6 0a2.3 2.3 0 1 0 -4.6 0M488.5 487.9a2.3 2.3 0 1 0 4.6 0a2.3 2.3 0 1 0 -4.6 0M497.3 479.9a2.3 2.3 0 1 0 4.6 0a2.3 2.3 0 1 0 -4.6 0M506.0 475.0a2.3 2.3 0 1 0 4.6 0a2.3 2.3 0 1 0 -4.6 0M514.8 485.7a2.3 2.3 0 1 0 4.6 0a2.3 2.3 0 1 0 -4.6 0M523.6 479.2a2.3 2.3 0 1 0 4.6 0a2.3 2.3 0 1 0 -4.6 0M532.4 488.7a2.3 2.3 0 1 0 4.6 0a2.3 2.3 0 1 0 -4.6 0M541.1 474.6a2.3 2.3 0 1 0 4.6 0a2.3 2.3 0 1 0 -4.6 0M549.9 477.2a2.3 2.3 0 1 0 4.6 0a2.3 2.3 0 1 0 -4.6 0M558.7 474.7a2.3 2.3 0 1 0 4.6 0a2.3 2.3 0 1 0 -4.6 0M567.4 480.2a2.3 2.3 0 1 0 4.6 0a2.3 2.3 0 1 0 -4.6 0M576.2 472.4a2.3 2.3 0 1 0 4.6 0a2.3 2.3 0 1 0 -4.6 0M585.0 486.0a2.3 2.3 0 1 0 4.6 0a2.3 2.3 0 1 0 -4.6 0M593.8 485.7a2.3 2.3 0 1 0 4.6 0a2.3 2.3 0 1 0 -4.6 0M602.5 486.5a2.3 2.3 0 1 0 4.6 0a2.3 2.3 0 1 0 -4.6 0M611.3 479.3a2.3 2.3 0 1 0 4.6 0a2.3 2.3 0 1 0 -4.6 0M620.1 476.2a2.3 2.3 0 1 0 4.6 0a2.3 2.3 0 1 0 -4.6 0M628.8 475.5a2.3 2.3 0 1 0 4.6 0a2.3 2.3 0 1 0 -4.6 0M637.6 468.5a2.3 2.3 0 1 0 4.6 0a2.3 2.3 0 1 0 -4.6 0M646.4 465.1a2.3 2.3 0 1 0 4.6 0a2.3 2.3 0 1 0 -4.6 0M655.1 467.2a2.3 2.3 0 1 0 4.6 0a2.3 2.3 0 1 0 -4.6 0M663.9 499.3a2.3 2.3 0 1 0 4.6 0a2.3 2.3 0 1 0 -4.6 0M672.7 485.1a2.3 2.3 0 1 0 4.6 0a2.3 2.3 0 1 0 -4.6 0M76.3 578.7a2.3 2.3 0 1 0 4.6 0a2.3 2.3 0 1 0 -4.6 0M85.0 607.5a2.3 2.3 0 1 0 4.6 0a2.3 2.3 0 1 0 -4.6 0M93.8 585.1a2.3 2.3 0 1 0 4.6 0a2.3 2.3 0 1 0 -4.6 0M102.6 595.5a2.3 2.3 0 1 0 4.6 0a2.3 2.3 0 1 0 -4.6 0M111.4 584.7a2.3 2.3 0 1 0 4.6 0a2.3 2.3 0 1 0 -4.6 0M120.1 592.1a2.3 2.3 0 1 0 4.6 0a2.3 2.3 0 1 0 -4.6 0M128.9 578.6a2.3 2.3 0 1 0 4.6 0a2.3 2.3 0 1 0 -4.6 0M137.7 589.6a2.3 2.3 0 1 0 4.6 0a2.3 2.3 0 1 0 -4.6 0M146.4 584.7a2.3 2.3 0 1 0 4.6 0a2.3 2.3 0 1 0 -4.6 0M155.2 577.5a2.3 2.3 0 1 0 4.6 0a2.3 2.3 0 1 0 -4.6 0M164.0 571.9a2.3 2.3 0 1 0 4.6 0a2.3 2.3 0 1 0 -4.6 0M172.8 570.5a2.3 2.3 0 1 0 4.6 0a2.3 2.3 0 1 0 -4.6 0M181.5 570.3a2.3 2.3 0 1 0 4.6 0a2.3 2.3 0 1 0 -4.6 0M190.3 554.5a2.3 2.3 0 1 0 4.6 0a2.3 2.3 0 1 0 -4.6 0M199.1 546.9a2.3 2.3 0 1 0 4.6 0a2.3 2.3 0 1 0 -4.6 0M207.8 550.4a2.3 2.3 0 1 0 4.6 0a2.3 2.3 0 1 0 -4.6 0M216.6 547.7a2.3 2.3 0 1 0 4.6 0a2.3 2.3 0 1 0 -4.6 0M225.4 550.9a2.3 2.3 0 1 0 4.6 0a2.3 2.3 0 1 0 -4.6 0M234.1 529.9a2.3 2.3 0 1 0 4.6 0a2.3 2.3 0 1 0 -4.6 0M242.9 539.4a2.3 2.3 0 1 0 4.6 0a2.3 2.3 0 1 0 -4.6 0M251.7 520.9a2.3 2.3 0 1 0 4.6 0a2.3 2.3 0 1 0 -4.6 0M260.5 525.5a2.3 2.3 0 1 0 4.6 0a2.3 2.3 0 1 0 -4.6 0M269.2 507.1a2.3 2.3 0 1 0 4.6 0a2.3 2.3 0 1 0 -4.6 0M278.0 505.4a2.3 2.3 0 1 0 4.6 0a2.3 2.3 0 1 0 -4.6 0M286.8 514.4a2.3 2.3 0 1 0 4.6 0a2.3 2.3 0 1 0 -4.6 0M295.5 504.1a2.3 2.3 0 1 0 4.6 0a2.3 2.3 0 1 0 -4.6 0M304.3 519.7a2.3 2.3 0 1 0 4.6 0a2.3 2.3 0 1 0 -4.6 0M313.1 500.5a2.3 2.3 0 1 0 4.6 0a2.3 2.3 0 1 0 -4.6 0M321.9 519.7a2.3 2.3 0 1 0 4.6 0a2.3 2.3 0 1 0 -4.6 0M330.6 505.8a2.3 2.3 0 1 0 4.6 0a2.3 2.3 0 1 0 -4.6 0M339.4 503.9a2.3 2.3 0 1 0 4.6 0a2.3 2.3 0 1 0 -4.6 0M348.2 503.4a2.3 2.3 0 1 0 4.6 0a2.3 2.3 0 1 0 -4.6 0M356.9 511.2a2.3 2.3 0 1 0 4.6 0a2.3 2.3 0 1 0 -4.6 0M365.7 512.5a2.3 2.3 0 1 0 4.6 0a2.3 2.3 0 1 0 -4.6 0M374.5 512.0a2.3 2.3 0 1 0 4.6 0a2.3 2.3 0 1 0 -4.6 0M383.3 500.6a2.3 2.3 0 1 0 4.6 0a2.3 2.3 0 1 0 -4.6 0M392.0 497.0a2.3 2.3 0 1 0 4.6 0a2.3 2.3 0 1 0 -4.6 0M400.8 505.3a2.3 2.3 0 1 0 4.6 0a2.3 2.3 0 1 0 -4.6 0M409.6 510.9a2.3 2.3 0 1 0 4.6 0a2.3 2.3 0 1 0 -4.6 0M418.3 495.7a2.3 2.3 0 1 0 4.6 0a2.3 2.3 0 1 0 -4.6 0M427.1 508.4a2.3 2.3 0 1 0 4.6 0a2.3 2.3 0 1 0 -4.6 0M435.9 503.8a2.3 2.3 0 1 0 4.6 0a2.3 2.3 0 1 0 -4.6 0M444.6 504.0a2.3 2.3 0 1 0 4.6 0a2.3 2.3 0 1 0 -4.6 0M453.4 492.4a2.3 2.3 0 1 0 4.6 0a2.3 2.3 0 1 0 -4.6 0M462.2 496.7a2.3 2.3 0 1 0 4.6 0a2.3 2.3 0 1 0 -4.6 0M471.0 498.4a2.3 2.3 0 1 0 4.6 0a2.3 2.3 0 1 0 -4.6 0M479.7 495.9a2.3 2.3 0 1 0 4.6 0a2.3 2.3 0 1 0 -4.6 0M488.5 504.4a2.3 2.3 0 1 0 4.6 0a2.3 2.3 0 1 0 -4.6 0M497.3 496.4a2.3 2.3 0 1 0 4.6 0a2.3 2.3 0 1 0 -4.6 0M506.0 485.1a2.3 2.3 0 1 0 4.6 0a2.3 2.3 0 1 0 -4.6 0M514.8 492.8a2.3 2.3 0 1 0 4.6 0a2.3 2.3 0 1 0 -4.6 0M523.6 489.2a2.3 2.3 0 1 0 4.6 0a2.3 2.3 0 1 0 -4.6 0M532.4 496.9a2.3 2.3 0 1 0 4.6 0a2.3 2.3 0 1 0 -4.6 0M541.1 488.4a2.3 2.3 0 1 0 4.6 0a2.3 2.3 0 1 0 -4.6 0M549.9 492.4a2.3 2.3 0 1 0 4.6 0a2.3 2.3 0 1 0 -4.6 0M558.7 484.6a2.3 2.3 0 1 0 4.6 0a2.3 2.3 0 1 0 -4.6 0M567.4 492.5a2.3 2.3 0 1 0 4.6 0a2.3 2.3 0 1 0 -4.6 0M576.2 483.8a2.3 2.3 0 1 0 4.6 0a2.3 2.3 0 1 0 -4.6 0M585.0 498.8a2.3 2.3 0 1 0 4.6 0a2.3 2.3 0 1 0 -4.6 0M593.8 496.5a2.3 2.3 0 1 0 4.6 0a2.3 2.3 0 1 0 -4.6 0M602.5 497.4a2.3 2.3 0 1 0 4.6 0a2.3 2.3 0 1 0 -4.6 0M611.3 490.1a2.3 2.3 0 1 0 4.6 0a2.3 2.3 0 1 0 -4.6 0M620.1 501.3a2.3 2.3 0 1 0 4.6 0a2.3 2.3 0 1 0 -4.6 0M628.8 498.7a2.3 2.3 0 1 0 4.6 0a2.3 2.3 0 1 0 -4.6 0M637.6 490.1a2.3 2.3 0 1 0 4.6 0a2.3 2.3 0 1 0 -4.6 0M646.4 490.2a2.3 2.3 0 1 0 4.6 0a2.3 2.3 0 1 0 -4.6 0M655.1 492.9a2.3 2.3 0 1 0 4.6 0a2.3 2.3 0 1 0 -4.6 0M663.9 510.5a2.3 2.3 0 1 0 4.6 0a2.3 2.3 0 1 0 -4.6 0M672.7 497.1a2.3 2.3 0 1 0 4.6 0a2.3 2.3 0 1 0 -4.6 0M76.3 580.3a2.3 2.3 0 1 0 4.6 0a2.3 2.3 0 1 0 -4.6 0M85.0 610.0a2.3 2.3 0 1 0 4.6 0a2.3 2.3 0 1 0 -4.6 0M93.8 584.6a2.3 2.3 0 1 0 4.6 0a2.3 2.3 0 1 0 -4.6 0M102.6 588.9a2.3 2.3 0 1 0 4.6 0a2.3 2.3 0 1 0 -4.6 0M111.4 584.4a2.3 2.3 0 1 0 4.6 0a2.3 2.3 0 1 0 -4.6 0M120.1 587.6a2.3 2.3 0 1 0 4.6 0a2.3 2.3 0 1 0 -4.6 0M128.9 578.9a2.3 2.3 0 1 0 4.6 0a2.3 2.3 0 1 0 -4.6 0M137.7 583.9a2.3 2.3 0 1 0 4.6 0a2.3 2.3 0 1 0 -4.6 0M146.4 586.1a2.3 2.3 0 1 0 4.6 0a2.3 2.3 0 1 0 -4.6 0M155.2 580.5a2.3 2.3 0 1 0 4.6 0a2.3 2.3 0 1 0 -4.6 0M164.0 572.9a2.3 2.3 0 1 0 4.6 0a2.3 2.3 0 1 0 -4.6 0M172.8 573.3a2.3 2.3 0 1 0 4.6 0a2.3 2.3 0 1 0 -4.6 0M181.5 569.6a2.3 2.3 0 1 0 4.6 0a2.3 2.3 0 1 0 -4.6 0M190.3 559.7a2.3 2.3 0 1 0 4.6 0a2.3 2.3 0 1 0 -4.6 0M199.1 552.8a2.3 2.3 0 1 0 4.6 0a2.3 2.3 0 1 0 -4.6 0M207.8 557.5a2.3 2.3 0 1 0 4.6 0a2.3 2.3 0 1 0 -4.6 0M216.6 552.4a2.3 2.3 0 1 0 4.6 0a2.3 2.3 0 1 0 -4.6 0M225.4 558.1a2.3 2.3 0 1 0 4.6 0a2.3 2.3 0 1 0 -4.6 0M234.1 536.9a2.3 2.3 0 1 0 4.6 0a2.3 2.3 0 1 0 -4.6 0M242.9 544.0a2.3 2.3 0 1 0 4.6 0a2.3 2.3 0 1 0 -4.6 0M251.7 530.6a2.3 2.3 0 1 0 4.6 0a2.3 2.3 0 1 0 -4.6 0M260.5 527.3a2.3 2.3 0 1 0 4.6 0a2.3 2.3 0 1 0 -4.6 0M269.2 516.6a2.3 2.3 0 1 0 4.6 0a2.3 2.3 0 1 0 -4.6 0M278.0 520.7a2.3 2.3 0 1 0 4.6 0a2.3 2.3 0 1 0 -4.6 0M286.8 529.5a2.3 2.3 0 1 0 4.6 0a2.3 2.3 0 1 0 -4.6 0M295.5 519.9a2.3 2.3 0 1 0 4.6 0a2.3 2.3 0 1 0 -4.6 0M304.3 532.0a2.3 2.3 0 1 0 4.6 0a2.3 2.3 0 1 0 -4.6 0M313.1 518.7a2.3 2.3 0 1 0 4.6 0a2.3 2.3 0 1 0 -4.6 0M321.9 537.1a2.3 2.3 0 1 0 4.6 0a2.3 2.3 0 1 0 -4.6 0M330.6 522.4a2.3 2.3 0 1 0 4.6 0a2.3 2.3 0 1 0 -4.6 0M339.4 517.5a2.3 2.3 0 1 0 4.6 0a2.3 2.3 0 1 0 -4.6 0M348.2 524.1a2.3 2.3 0 1 0 4.6 0a2.3 2.3 0 1 0 -4.6 0M356.9 528.0a2.3 2.3 0 1 0 4.6 0a2.3 2.3 0 1 0 -4.6 0M365.7 528.8a2.3 2.3 0 1 0 4.6 0a2.3 2.3 0 1 0 -4.6 0M374.5 523.9a2.3 2.3 0 1 0 4.6 0a2.3 2.3 0 1 0 -4.6 0M383.3 514.6a2.3 2.3 0 1 0 4.6 0a2.3 2.3 0 1 0 -4.6 0M392.0 513.4a2.3 2.3 0 1 0 4.6 0a2.3 2.3 0 1 0 -4.6 0M400.8 523.0a2.3 2.3 0 1 0 4.6 0a2.3 2.3 0 1 0 -4.6 0M409.6 525.6a2.3 2.3 0 1 0 4.6 0a2.3 2.3 0 1 0 -4.6 0M418.3 514.5a2.3 2.3 0 1 0 4.6 0a2.3 2.3 0 1 0 -4.6 0M427.1 532.3a2.3 2.3 0 1 0 4.6 0a2.3 2.3 0 1 0 -4.6 0M435.9 524.2a2.3 2.3 0 1 0 4.6 0a2.3 2.3 0 1 0 -4.6 0M444.6 527.2a2.3 2.3 0 1 0 4.6 0a2.3 2.3 0 1 0 -4.6 0M453.4 516.8a2.3 2.3 0 1 0 4.6 0a2.3 2.3 0 1 0 -4.6 0M462.2 519.3a2.3 2.3 0 1 0 4.6 0a2.3 2.3 0 1 0 -4.6 0M471.0 518.7a2.3 2.3 0 1 0 4.6 0a2.3 2.3 0 1 0 -4.6 0M479.7 518.9a2.3 2.3 0 1 0 4.6 0a2.3 2.3 0 1 0 -4.6 0M488.5 523.9a2.3 2.3 0 1 0 4.6 0a2.3 2.3 0 1 0 -4.6 0M497.3 515.4a2.3 2.3 0 1 0 4.6 0a2.3 2.3 0 1 0 -4.6 0M506.0 511.3a2.3 2.3 0 1 0 4.6 0a2.3 2.3 0 1 0 -4.6 0M514.8 521.5a2.3 2.3 0 1 0 4.6 0a2.3 2.3 0 1 0 -4.6 0M523.6 513.7a2.3 2.3 0 1 0 4.6 0a2.3 2.3 0 1 0 -4.6 0M532.4 518.4a2.3 2.3 0 1 0 4.6 0a2.3 2.3 0 1 0 -4.6 0M541.1 507.8a2.3 2.3 0 1 0 4.6 0a2.3 2.3 0 1 0 -4.6 0M549.9 509.8a2.3 2.3 0 1 0 4.6 0a2.3 2.3 0 1 0 -4.6 0M558.7 509.9a2.3 2.3 0 1 0 4.6 0a2.3 2.3 0 1 0 -4.6 0M567.4 513.9a2.3 2.3 0 1 0 4.6 0a2.3 2.3 0 1 0 -4.6 0M576.2 505.7a2.3 2.3 0 1 0 4.6 0a2.3 2.3 0 1 0 -4.6 0M585.0 516.8a2.3 2.3 0 1 0 4.6 0a2.3 2.3 0 1 0 -4.6 0M593.8 515.7a2.3 2.3 0 1 0 4.6 0a2.3 2.3 0 1 0 -4.6 0M602.5 521.1a2.3 2.3 0 1 0 4.6 0a2.3 2.3 0 1 0 -4.6 0M611.3 507.3a2.3 2.3 0 1 0 4.6 0a2.3 2.3 0 1 0 -4.6 0M620.1 518.3a2.3 2.3 0 1 0 4.6 0a2.3 2.3 0 1 0 -4.6 0M628.8 521.5a2.3 2.3 0 1 0 4.6 0a2.3 2.3 0 1 0 -4.6 0M637.6 505.0a2.3 2.3 0 1 0 4.6 0a2.3 2.3 0 1 0 -4.6 0M646.4 501.7a2.3 2.3 0 1 0 4.6 0a2.3 2.3 0 1 0 -4.6 0M655.1 508.1a2.3 2.3 0 1 0 4.6 0a2.3 2.3 0 1 0 -4.6 0M663.9 532.0a2.3 2.3 0 1 0 4.6 0a2.3 2.3 0 1 0 -4.6 0M672.7 517.1a2.3 2.3 0 1 0 4.6 0a2.3 2.3 0 1 0 -4.6 0"/>
<path stroke="#cc0000" d="M73.2 595.0a2.3 2.3 0 1 0 4.6 0a2.3 2.3 0 1 0 -4.6 0M82.0 588.2a2.3 2.3 0 1 0 4.6 0a2.3 2.3 0 1 0 -4.6 0M90.8 586.3a2.3 2.3 0 1 0 4.6 0a2.3 2.3 0 1 0 -4.6 0M99.5 586.3a2.3 2.3 0 1 0 4.6 0a2.3 2.3 0 1 0 -4.6 0M108.3 585.2a2.3 2.3 0 1 0 4.6 0a2.3 2.3 0 1 0 -4.6 0M117.1 597.4a2.3 2.3 0 1 0 4.6 0a2.3 2.3 0 1 0 -4.6 0M125.9 592.0a2.3 2.3 0 1 0 4.6 0a2.3 2.3 0 1 0 -4.6 0M134.6 593.4a2.3 2.3 0 1 0 4.6 0a2.3 2.3 0 1 0 -4.6 0M143.4 590.5a2.3 2.3 0 1 0 4.6 0a2.3 2.3 0 1 0 -4.6 0M152.2 578.0a2.3 2.3 0 1 0 4.6 0a2.3 2.3 0 1 0 -4.6 0M160.9 580.8a2.3 2.3 0 1 0 4.6 0a2.3 2.3 0 1 0 -4.6 0M169.7 574.4a2.3 2.3 0 1 0 4.6 0a2.3 2.3 0 1 0 -4.6 0M178.5 580.4a2.3 2.3 0 1 0 4.6 0a2.3 2.3 0 1 0 -4.6 0M187.3 563.5a2.3 2.3 0 1 0 4.6 0a2.3 2.3 0 1 0 -4.6 0M196.0 563.9a2.3 2.3 0 1 0 4.6 0a2.3 2.3 0 1 0 -4.6 0M204.8 541.4a2.3 2.3 0 1 0 4.6 0a2.3 2.3 0 1 0 -4.6 0M213.6 534.1a2.3 2.3 0 1 0 4.6 0a2.3 2.3 0 1 0 -4.6 0M222.3 524.4a2.3 2.3 0 1 0 4.6 0a2.3 2.3 0 1 0 -4.6 0M231.1 519.2a2.3 2.3 0 1 0 4.6 0a2.3 2.3 0 1 0 -4.6 0M239.9 503.4a2.3 2.3 0 1 0 4.6 0a2.3 2.3 0 1 0 -4.6 0M248.7 493.5a2.3 2.3 0 1 0 4.6 0a2.3 2.3 0 1 0 -4.6 0M257.4 488.3a2.3 2.3 0 1 0 4.6 0a2.3 2.3 0 1 0 -4.6 0M266.2 481.1a2.3 2.3 0 1 0 4.6 0a2.3 2.3 0 1 0 -4.6 0M275.0 464.1a2.3 2.3 0 1 0 4.6 0a2.3 2.3 0 1 0 -4.6 0M283.7 457.8a2.3 2.3 0 1 0 4.6 0a2.3 2.3 0 1 0 -4.6 0M292.5 451.2a2.3 2.3 0 1 0 4.6 0a2.3 2.3 0 1 0 -4.6 0M301.3 443.3a2.3 2.3 0 1 0 4.6 0a2.3 2.3 0 1 0 -4.6 0M310.0 440.8a2.3 2.3 0 1 0 4.6 0a2.3 2.3 0 1 0 -4.6 0M318.8 421.5a2.3 2.3 0 1 0 4.6 0a2.3 2.3 0 1 0 -4.6 0M327.6 437.1a2.3 2.3 0 1 0 4.6 0a2.3 2.3 0 1 0 -4.6 0M336.4 417.1a2.3 2.3 0 1 0 4.6 0a2.3 2.3 0 1 0 -4.6 0M345.1 419.7a2.3 2.3 0 1 0 4.6 0a2.3 2.3 0 1 0 -4.6 0M353.9 418.5a2.3 2.3 0 1 0 4.6 0a2.3 2.3 0 1 0 -4.6 0M362.7 421.1a2.3 2.3 0 1 0 4.6 0a2.3 2.3 0 1 0 -4.6 0M371.4 408.8a2.3 2.3 0 1 0 4.6 0a2.3 2.3 0 1 0 -4.6 0M380.2 407.9a2.3 2.3 0 1 0 4.6 0a2.3 2.3 0 1 0 -4.6 0M389.0 403.5a2.3 2.3 0 1 0 4.6 0a2.3 2.3 0 1 0 -4.6 0M397.8 407.9a2.3 2.3 0 1 0 4.6 0a2.3 2.3 0 1 0 -4.6 0M406.5 401.9a2.3 2.3 0 1 0 4.6 0a2.3 2.3 0 1 0 -4.6 0M415.3 389.7a2.3 2.3 0 1 0 4.6 0a2.3 2.3 0 1 0 -4.6 0M424.1 394.3a2.3 2.3 0 1 0 4.6 0a2.3 2.3 0 1 0 -4.6 0M432.8 400.3a2.3 2.3 0 1 0 4.6 0a2.3 2.3 0 1 0 -4.6 0M441.6 386.9a2.3 2.3 0 1 0 4.6 0a2.3 2.3 0 1 0 -4.6 0M450.4 396.6a2.3 2.3 0 1 0 4.6 0a2.3 2.3 0 1 0 -4.6 0M459.2 389.6a2.3 2.3 0 1 0 4.6 0a2.3 2.3 0 1 0 -4.6 0M467.9 387.8a2.3 2.3 0 1 0 4.6 0a2.3 2.3 0 1 0 -4.6 0M476.7 396.8a2.3 2.3 0 1 0 4.6 0a2.3 2.3 0 1 0 -4.6 0M485.5 404.9a2.3 2.3 0 1 0 4.6 0a2.3 2.3 0 1 0 -4.6 0M494.2 395.1a2.3 2.3 0 1 0 4.6 0a2.3 2.3 0 1 0 -4.6 0M503.0 386.3a2.3 2.3 0 1 0 4.6 0a2.3 2.3 0 1 0 -4.6 0M511.8 390.1a2.3 2.3 0 1 0 4.6 0a2.3 2.3 0 1 0 -4.6 0M520.5 382.0a2.3 2.3 0 1 0 4.6 0a2.3 2.3 0 1 0 -4.6 0M529.3 379.4a2.3 2.3 0 1 0 4.6 0a2.3 2.3 0 1 0 -4.6 0M538.1 390.0a2.3 2.3 0 1 0 4.6 0a2.3 2.3 0 1 0 -4.6 0M546.9 382.8a2.3 2.3 0 1 0 4.6 0a2.3 2.3 0 1 0 -4.6 0M555.6 374.8a2.3 2.3 0 1 0 4.6 0a2.3 2.3 0 1 0 -4.6 0M564.4 381.6a2.3 2.3 0 1 0 4.6 0a2.3 2.3 0 1 0 -4.6 0M573.2 376.8a2.3 2.3 0 1 0 4.6 0a2.3 2.3 0 1 0 -4.6 0M581.9 376.9a2.3 2.3 0 1 0 4.6 0a2.3 2.3 0 1 0 -4.6 0M590.7 366.9a2.3 2.3 0 1 0 4.6 0a2.3 2.3 0 1 0 -4.6 0M599.5 382.3a2.3 2.3 0 1 0 4.6 0a2.3 2.3 0 1 0 -4.6 0M608.3 380.9a2.3 2.3 0 1 0 4.6 0a2.3 2.3 0 1 0 -4.6 0M617.0 378.8a2.3 2.3 0 1 0 4.6 0a2.3 2.3 0 1 0 -4.6 0M625.8 391.0a2.3 2.3 0 1 0 4.6 0a2.3 2.3 0 1 0 -4.6 0M634.6 393.4a2.3 2.3 0 1 0 4.6 0a2.3 2.3 0 1 0 -4.6 0M643.3 392.9a2.3 2.3 0 1 0 4.6 0a2.3 2.3 0 1 0 -4.6 0M652.1 382.3a2.3 2.3 0 1 0 4.6 0a2.3 2.3 0 1 0 -4.6 0M660.9 385.3a2.3 2.3 0 1 0 4.6 0a2.3 2.3 0 1 0 -4.6 0M669.7 399.9a2.3 2.3 0 1 0 4.6 0a2.3 2.3 0 1 0 -4.6 0M73.2 591.4a2.3 2.3 0 1 0 4.6 0a2.3 2.3 0 1 0 -4.6 0M82.0 584.7a2.3 2.3 0 1 0 4.6 0a2.3 2.3 0 1 0 -4.6 0M90.8 586.2a2.3 2.3 0 1 0 4.6 0a2.3 2.3 0 1 0 -4.6 0M99.5 585.7a2.3 2.3 0 1 0 4.6 0a2.3 2.3 0 1 0 -4.6 0M108.3 578.0a2.3 2.3 0 1 0 4.6 0a2.3 2.3 0 1 0 -4.6 0M117.1 595.4a2.3 2.3 0 1 0 4.6 0a2.3 2.3 0 1 0 -4.6 0M125.9 591.1a2.3 2.3 0 1 0 4.6 0a2.3 2.3 0 1 0 -4.6 0M134.6 591.7a2.3 2.3 0 1 0 4.6 0a2.3 2.3 0 1 0 -4.6 0M143.4 583.7a2.3 2.3 0 1 0 4.6 0a2.3 2.3 0 1 0 -4.6 0M152.2 573.4a2.3 2.3 0 1 0 4.6 0a2.3 2.3 0 1 0 -4.6 0M160.9 570.4a2.3 2.3 0 1 0 4.6 0a2.3 2.3 0 1 0 -4.6 0M169.7 561.3a2.3 2.3 0 1 0 4.6 0a2.3 2.3 0 1 0 -4.6 0M178.5 573.5a2.3 2.3 0 1 0 4.6 0a2.3 2.3 0 1 0 -4.6 0M187.3 552.8a2.3 2.3 0 1 0 4.6 0a2.3 2.3 0 1 0 -4.6 0M196.0 553.1a2.3 2.3 0 1 0 4.6 0a2.3 2.3 0 1 0 -4.6 0M204.8 527.2a2.3 2.3 0 1 0 4.6 0a2.3 2.3 0 1 0 -4.6 0M213.6 528.4a2.3 2.3 0 1 0 4.6 0a2.3 2.3 0 1 0 -4.6 0M222.3 517.2a2.3 2.3 0 1 0 4.6 0a2.3 2.3 0 1 0 -4.6 0M231.1 516.7a2.3 2.3 0 1 0 4.6 0a2.3 2.3 0 1 0 -4.6 0M239.9 502.8a2.3 2.3 0 1 0 4.6 0a2.3 2.3 0 1 0 -4.6 0M248.7 491.7a2.3 2.3 0 1 0 4.6 0a2.3 2.3 0 1 0 -4.6 0M257.4 492.6a2.3 2.3 0 1 0 4.6 0a2.3 2.3 0 1 0 -4.6 0M266.2 484.2a2.3 2.3 0 1 0 4.6 0a2.3 2.3 0 1 0 -4.6 0M275.0 469.8a2.3 2.3 0 1 0 4.6 0a2.3 2.3 0 1 0 -4.6 0M283.7 460.1a2.3 2.3 0 1 0 4.6 0a2.3 2.3 0 1 0 -4.6 0M292.5 455.9a2.3 2.3 0 1 0 4.6 0a2.3 2.3 0 1 0 -4.6 0M301.3 448.6a2.3 2.3 0 1 0 4.6 0a2.3 2.3 0 1 0 -4.6 0M310.0 442.3a2.3 2.3 0 1 0 4.6 0a2.3 2.3 0 1 0 -4.6 0M318.8 425.1a2.3 2.3 0 1 0 4.6 0a2.3 2.3 0 1 0 -4.6 0M327.6 440.6a2.3 2.3 0 1 0 4.6 0a2.3 2.3 0 1 0 -4.6 0M336.4 417.0a2.3 2.3 0 1 0 4.6 0a2.3 2.3 0 1 0 -4.6 0M345.1 429.3a2.3 2.3 0 1 0 4.6 0a2.3 2.3 0 1 0 -4.6 0M353.9 425.8a2.3 2.3 0 1 0 4.6 0a2.3 2.3 0 1 0 -4.6 0M362.7 431.4a2.3 2.3 0 1 0 4.6 0a2.3 2.3 0 1 0 -4.6 0M371.4 415.7a2.3 2.3 0 1 0 4.6 0a2.3 2.3 0 1 0 -4.6 0M380.2 417.0a2.3 2.3 0 1 0 4.6 0a2.3 2.3 0 1 0 -4.6 0M389.0 410.2a2.3 2.3 0 1 0 4.6 0a2.3 2.3 0 1 0 -4.6 0M397.8 413.3a2.3 2.3 0 1 0 4.6 0a2.3 2.3 0 1 0 -4.6 0M406.5 409.0a2.3 2.3 0 1 0 4.6 0a2.3 2.3 0 1 0 -4.6 0M415.3 399.7a2.3 2.3 0 1 0 4.6 0a2.3 2.3 0 1 0 -4.6 0M424.1 403.6a2.3 2.3 0 1 0 4.6 0a2.3 2.3 0 1 0 -4.6 0M432.8 408.3a2.3 2.3 0 1 0 4.6 0a2.3 2.3 0 1 0 -4.6 0M441.6 397.6a2.3 2.3 0 1 0 4.6 0a2.3 2.3 0 1 0 -4.6 0M450.4 407.3a2.3 2.3 0 1 0 4.6 0a2.3 2.3 0 1 0 -4.6 0M459.2 399.7a2.3 2.3 0 1 0 4.6 0a2.3 2.3 0 1 0 -4.6 0M467.9 398.0a2.3 2.3 0 1 0 4.6 0a2.3 2.3 0 1 0 -4.6 0M476.7 405.7a2.3 2.3 0 1 0 4.6 0a2.3 2.3 0 1 0 -4.6 0M485.5 420.5a2.3 2.3 0 1 0 4.6 0a2.3 2.3 0 1 0 -4.6 0M494.2 404.9a2.3 2.3 0 1 0 4.6 0a2.3 2.3 0 1 0 -4.6 0M503.0 397.4a2.3 2.3 0 1 0 4.6 0a2.3 2.3 0 1 0 -4.6 0M511.8 401.9a2.3 2.3 0 1 0 4.6 0a2.3 2.3 0 1 0 -4.6 0M520.5 395.8a2.3 2.3 0 1 0 4.6 0a2.3 2.3 0 1 0 -4.6 0M529.3 393.3a2.3 2.3 0 1 0 4.6 0a2.3 2.3 0 1 0 -4.6 0M538.1 407.1a2.3 2.3 0 1 0 4.6 0a2.3 2.3 0 1 0 -4.6 0M546.9 399.5a2.3 2.3 0 1 0 4.6 0a2.3 2.3 0 1 0 -4.6 0M555.6 389.1a2.3 2.3 0 1 0 4.6 0a2.3 2.3 0 1 0 -4.6 0M564.4 392.1a2.3 2.3 0 1 0 4.6 0a2.3 2.3 0 1 0 -4.6 0M573.2 390.7a2.3 2.3 0 1 0 4.6 0a2.3 2.3 0 1 0 -4.6 0M581.9 391.4a2.3 2.3 0 1 0 4.6 0a2.3 2.3 0 1 0 -4.6 0M590.7 385.6a2.3 2.3 0 1 0 4.6 0a2.3 2.3 0 1 0 -4.6 0M599.5 396.4a2.3 2.3 0 1 0 4.6 0a2.3 2.3 0 1 0 -4.6 0M608.3 394.2a2.3 2.3 0 1 0 4.6 0a2.3 2.3 0 1 0 -4.6 0M617.0 392.8a2.3 2.3 0 1 0 4.6 0a2.3 2.3 0 1 0 -4.6 0M625.8 404.7a2.3 2.3 0 1 0 4.6 0a2.3 2.3 0 1 0 -4.6 0M634.6 409.8a2.3 2.3 0 1 0 4.6 0a2.3 2.3 0 1 0 -4.6 0M643.3 410.2a2.3 2.3 0 1 0 4.6 0a2.3 2.3 0 1 0 -4.6 0M652.1 400.8a2.3 2.3 0 1 0 4.6 0a2.3 2.3 0 1 0 -4.6 0M660.9 402.8a2.3 2.3 0 1 0 4.6 0a2.3 2.3 0 1 0 -4.6 0M669.7 411.6a2.3 2.3 0 1 0 4.6 0a2.3 2.3 0 1 0 -4.6 0M73.2 592.7a2.3 2.3 0 1 0 4.6 0a2.3 2.3 0 1 0 -4.6 0M82.0 585.4a2.3 2.3 0 1 0 4.6 0a2.3 2.3 0 1 0 -4.6 0M90.8 588.5a2.3 2.3 0 1 0 4.6 0a2.3 2.3 0 1 0 -4.6 0M99.5 585.2a2.3 2.3 0 1 0 4.6 0a2.3 2.3 0 1 0 -4.6 0M108.3 583.8a2.3 2.3 0 1 0 4.6 0a2.3 2.3 0 1 0 -4.6 0M117.1 598.2a2.3 2.3 0 1 0 4.6 0a2.3 2.3 0 1 0 -4.6 0M125.9 594.5a2.3 2.3 0 1 0 4.6 0a2.3 2.3 0 1 0 -4.6 0M134.6 598.9a2.3 2.3 0 1 0 4.6 0a2.3 2.3 0 1 0 -4.6 0M143.4 583.1a2.3 2.3 0 1 0 4.6 0a2.3 2.3 0 1 0 -4.6 0M152.2 580.8a2.3 2.3 0 1 0 4.6 0a2.3 2.3 0 1 0 -4.6 0M160.9 578.8a2.3 2.3 0 1 0 4.6 0a2.3 2.3 0 1 0 -4.6 0M169.7 566.9a2.3 2.3 0 1 0 4.6 0a2.3 2.3 0 1 0 -4.6 0M178.5 574.9a2.3 2.3 0 1 0 4.6 0a2.3 2.3 0 1 0 -4.6 0M187.3 556.3a2.3 2.3 0 1 0 4.6 0a2.3 2.3 0 1 0 -4.6 0M196.0 554.7a2.3 2.3 0 1 0 4.6 0a2.3 2.3 0 1 0 -4.6 0M204.8 528.8a2.3 2.3 0 1 0 4.6 0a2.3 2.3 0 1 0 -4.6 0M213.6 529.3a2.3 2.3 0 1 0 4.6 0a2.3 2.3 0 1 0 -4.6 0M222.3 519.7a2.3 2.3 0 1 0 4.6 0a2.3 2.3 0 1 0 -4.6 0M231.1 520.2a2.3 2.3 0 1 0 4.6 0a2.3 2.3 0 1 0 -4.6 0M239.9 505.8a2.3 2.3 0 1 0 4.6 0a2.3 2.3 0 1 0 -4.6 0M248.7 496.0a2.3 2.3 0 1 0 4.6 0a2.3 2.3 0 1 0 -4.6 0M257.4 495.5a2.3 2.3 0 1 0 4.6 0a2.3 2.3 0 1 0 -4.6 0M266.2 489.0a2.3 2.3 0 1 0 4.6 0a2.3 2.3 0 1 0 -4.6 0M275.0 480.4a2.3 2.3 0 1 0 4.6 0a2.3 2.3 0 1 0 -4.6 0M283.7 473.1a2.3 2.3 0 1 0 4.6 0a2.3 2.3 0 1 0 -4.6 0M292.5 470.2a2.3 2.3 0 1 0 4.6 0a2.3 2.3 0 1 0 -4.6 0M301.3 458.7a2.3 2.3 0 1 0 4.6 0a2.3 2.3 0 1 0 -4.6 0M310.0 456.3a2.3 2.3 0 1 0 4.6 0a2.3 2.3 0 1 0 -4.6 0M318.8 438.6a2.3 2.3 0 1 0 4.6 0a2.3 2.3 0 1 0 -4.6 0M327.6 448.0a2.3 2.3 0 1 0 4.6 0a2.3 2.3 0 1 0 -4.6 0M336.4 431.0a2.3 2.3 0 1 0 4.6 0a2.3 2.3 0 1 0 -4.6 0M345.1 438.7a2.3 2.3 0 1 0 4.6 0a2.3 2.3 0 1 0 -4.6 0M353.9 437.5a2.3 2.3 0 1 0 4.6 0a2.3 2.3 0 1 0 -4.6 0M362.7 438.7a2.3 2.3 0 1 0 4.6 0a2.3 2.3 0 1 0 -4.6 0M371.4 429.1a2.3 2.3 0 1 0 4.6 0a2.3 2.3 0 1 0 -4.6 0M380.2 424.3a2.3 2.3 0 1 0 4.6 0a2.3 2.3 0 1 0 -4.6 0M389.0 423.9a2.3 2.3 0 1 0 4.6 0a2.3 2.3 0 1 0 -4.6 0M397.8 428.3a2.3 2.3 0 1 0 4.6 0a2.3 2.3 0 1 0 -4.6 0M406.5 423.7a2.3 2.3 0 1 0 4.6 0a2.3 2.3 0 1 0 -4.6 0M415.3 411.2a2.3 2.3 0 1 0 4.6 0a2.3 2.3 0 1 0 -4.6 0M424.1 422.5a2.3 2.3 0 1 0 4.6 0a2.3 2.3 0 1 0 -4.6 0M432.8 426.0a2.3 2.3 0 1 0 4.6 0a2.3 2.3 0 1 0 -4.6 0M441.6 411.7a2.3 2.3 0 1 0 4.6 0a2.3 2.3 0 1 0 -4.6 0M450.4 419.8a2.3 2.3 0 1 0 4.6 0a2.3 2.3 0 1 0 -4.6 0M459.2 416.1a2.3 2.3 0 1 0 4.6 0a2.3 2.3 0 1 0 -4.6 0M467.9 414.4a2.3 2.3 0 1 0 4.6 0a2.3 2.3 0 1 0 -4.6 0M476.7 423.1a2.3 2.3 0 1 0 4.6 0a2.3 2.3 0 1 0 -4.6 0M485.5 428.5a2.3 2.3 0 1 0 4.6 0a2.3 2.3 0 1 0 -4.6 0M494.2 418.0a2.3 2.3 0 1 0 4.6 0a2.3 2.3 0 1 0 -4.6 0M503.0 412.9a2.3 2.3 0 1 0 4.6 0a2.3 2.3 0 1 0 -4.6 0M511.8 423.8a2.3 2.3 0 1 0 4.6 0a2.3 2.3 0 1 0 -4.6 0M520.5 416.8a2.3 2.3 0 1 0 4.6 0a2.3 2.3 0 1 0 -4.6 0M529.3 414.8a2.3 2.3 0 1 0 4.6 0a2.3 2.3 0 1 0 -4.6 0M538.1 422.9a2.3 2.3 0 1 0 4.6 0a2.3 2.3 0 1 0 -4.6 0M546.9 408.0a2.3 2.3 0 1 0 4.6 0a2.3 2.3 0 1 0 -4.6 0M555.6 407.6a2.3 2.3 0 1 0 4.6 0a2.3 2.3 0 1 0 -4.6 0M564.4 407.4a2.3 2.3 0 1 0 4.6 0a2.3 2.3 0 1 0 -4.6 0M573.2 405.0a2.3 2.3 0 1 0 4.6 0a2.3 2.3 0 1 0 -4.6 0M581.9 405.1a2.3 2.3 0 1 0 4.6 0a2.3 2.3 0 1 0 -4.6 0M590.7 400.0a2.3 2.3 0 1 0 4.6 0a2.3 2.3 0 1 0 -4.6 0M599.5 413.9a2.3 2.3 0 1 0 4.6 0a2.3 2.3 0 1 0 -4.6 0M608.3 412.4a2.3 2.3 0 1 0 4.6 0a2.3 2.3 0 1 0 -4.6 0M617.0 408.2a2.3 2.3 0 1 0 4.6 0a2.3 2.3 0 1 0 -4.6 0M625.8 421.7a2.3 2.3 0 1 0 4.6 0a2.3 2.3 0 1 0 -4.6 0M634.6 425.4a2.3 2.3 0 1 0 4.6 0a2.3 2.3 0 1 0 -4.6 0M643.3 420.6a2.3 2.3 0 1 0 4.6 0a2.3 2.3 0 1 0 -4.6 0M652.1 407.8a2.3 2.3 0 1 0 4.6 0a2.3 2.3 0 1 0 -4.6 0M660.9 410.1a2.3 2.3 0 1 0 4.6 0a2.3 2.3 0 1 0 -4.6 0M669.7 424.9a2.3 2.3 0 1 0 4.6 0a2.3 2.3 0 1 0 -4.6 0M73.2 587.7a2.3 2.3 0 1 0 4.6 0a2.3 2.3 0 1 0 -4.6 0M82.0 584.4a2.3 2.3 0 1 0 4.6 0a2.3 2.3 0 1 0 -4.6 0M90.8 587.6a2.3 2.3 0 1 0 4.6 0a2.3 2.3 0 1 0 -4.6 0M99.5 583.5a2.3 2.3 0 1 0 4.6 0a2.3 2.3 0 1 0 -4.6 0M108.3 579.5a2.3 2.3 0 1 0 4.6 0a2.3 2.3 0 1 0 -4.6 0M117.1 597.7a2.3 2.3 0 1 0 4.6 0a2.3 2.3 0 1 0 -4.6 0M125.9 592.8a2.3 2.3 0 1 0 4.6 0a2.3 2.3 0 1 0 -4.6 0M134.6 598.3a2.3 2.3 0 1 0 4.6 0a2.3 2.3 0 1 0 -4.6 0M143.4 589.4a2.3 2.3 0 1 0 4.6 0a2.3 2.3 0 1 0 -4.6 0M152.2 575.9a2.3 2.3 0 1 0 4.6 0a2.3 2.3 0 1 0 -4.6 0M160.9 576.7a2.3 2.3 0 1 0 4.6 0a2.3 2.3 0 1 0 -4.6 0M169.7 569.2a2.3 2.3 0 1 0 4.6 0a2.3 2.3 0 1 0 -4.6 0M178.5 575.9a2.3 2.3 0 1 0 4.6 0a2.3 2.3 0 1 0 -4.6 0M187.3 559.5a2.3 2.3 0 1 0 4.6 0a2.3 2.3 0 1 0 -4.6 0M196.0 560.7a2.3 2.3 0 1 0 4.6 0a2.3 2.3 0 1 0 -4.6 0M204.8 535.1a2.3 2.3 0 1 0 4.6 0a2.3 2.3 0 1 0 -4.6 0M213.6 531.8a2.3 2.3 0 1 0 4.6 0a2.3 2.3 0 1 0 -4.6 0M222.3 524.6a2.3 2.3 0 1 0 4.6 0a2.3 2.3 0 1 0 -4.6 0M231.1 523.8a2.3 2.3 0 1 0 4.6 0a2.3 2.3 0 1 0 -4.6 0M239.9 509.3a2.3 2.3 0 1 0 4.6 0a2.3 2.3 0 1 0 -4.6 0M248.7 498.0a2.3 2.3 0 1 0 4.6 0a2.3 2.3 0 1 0 -4.6 0M257.4 499.2a2.3 2.3 0 1 0 4.6 0a2.3 2.3 0 1 0 -4.6 0M266.2 496.2a2.3 2.3 0 1 0 4.6 0a2.3 2.3 0 1 0 -4.6 0M275.0 483.7a2.3 2.3 0 1 0 4.6 0a2.3 2.3 0 1 0 -4.6 0M283.7 481.1a2.3 2.3 0 1 0 4.6 0a2.3 2.3 0 1 0 -4.6 0M292.5 479.5a2.3 2.3 0 1 0 4.6 0a2.3 2.3 0 1 0 -4.6 0M301.3 472.7a2.3 2.3 0 1 0 4.6 0a2.3 2.3 0 1 0 -4.6 0M310.0 474.6a2.3 2.3 0 1 0 4.6 0a2.3 2.3 0 1 0 -4.6 0M318.8 455.8a2.3 2.3 0 1 0 4.6 0a2.3 2.3 0 1 0 -4.6 0M327.6 472.5a2.3 2.3 0 1 0 4.6 0a2.3 2.3 0 1 0 -4.6 0M336.4 447.7a2.3 2.3 0 1 0 4.6 0a2.3 2.3 0 1 0 -4.6 0M345.1 449.9a2.3 2.3 0 1 0 4.6 0a2.3 2.3 0 1 0 -4.6 0M353.9 447.7a2.3 2.3 0 1 0 4.6 0a2.3 2.3 0 1 0 -4.6 0M362.7 450.2a2.3 2.3 0 1 0 4.6 0a2.3 2.3 0 1 0 -4.6 0M371.4 442.5a2.3 2.3 0 1 0 4.6 0a2.3 2.3 0 1 0 -4.6 0M380.2 444.0a2.3 2.3 0 1 0 4.6 0a2.3 2.3 0 1 0 -4.6 0M389.0 436.7a2.3 2.3 0 1 0 4.6 0a2.3 2.3 0 1 0 -4.6 0M397.8 444.0a2.3 2.3 0 1 0 4.6 0a2.3 2.3 0 1 0 -4.6 0M406.5 433.1a2.3 2.3 0 1 0 4.6 0a2.3 2.3 0 1 0 -4.6 0M415.3 419.0a2.3 2.3 0 1 0 4.6 0a2.3 2.3 0 1 0 -4.6 0M424.1 433.0a2.3 2.3 0 1 0 4.6 0a2.3 2.3 0 1 0 -4.6 0M432.8 437.0a2.3 2.3 0 1 0 4.6 0a2.3 2.3 0 1 0 -4.6 0M441.6 428.1a2.3 2.3 0 1 0 4.6 0a2.3 2.3 0 1 0 -4.6 0M450.4 435.2a2.3 2.3 0 1 0 4.6 0a2.3 2.3 0 1 0 -4.6 0M459.2 433.0a2.3 2.3 0 1 0 4.6 0a2.3 2.3 0 1 0 -4.6 0M467.9 431.5a2.3 2.3 0 1 0 4.6 0a2.3 2.3 0 1 0 -4.6 0M476.7 435.3a2.3 2.3 0 1 0 4.6 0a2.3 2.3 0 1 0 -4.6 0M485.5 447.8a2.3 2.3 0 1 0 4.6 0a2.3 2.3 0 1 0 -4.6 0M494.2 436.2a2.3 2.3 0 1 0 4.6 0a2.3 2.3 0 1 0 -4.6 0M503.0 430.8a2.3 2.3 0 1 0 4.6 0a2.3 2.3 0 1 0 -4.6 0M511.8 435.7a2.3 2.3 0 1 0 4.6 0a2.3 2.3 0 1 0 -4.6 0M520.5 432.2a2.3 2.3 0 1 0 4.6 0a2.3 2.3 0 1 0 -4.6 0M529.3 428.6a2.3 2.3 0 1 0 4.6 0a2.3 2.3 0 1 0 -4.6 0M538.1 438.9a2.3 2.3 0 1 0 4.6 0a2.3 2.3 0 1 0 -4.6 0M546.9 424.1a2.3 2.3 0 1 0 4.6 0a2.3 2.3 0 1 0 -4.6 0M555.6 423.1a2.3 2.3 0 1 0 4.6 0a2.3 2.3 0 1 0 -4.6 0M564.4 422.9a2.3 2.3 0 1 0 4.6 0a2.3 2.3 0 1 0 -4.6 0M573.2 425.8a2.3 2.3 0 1 0 4.6 0a2.3 2.3 0 1 0 -4.6 0M581.9 426.2a2.3 2.3 0 1 0 4.6 0a2.3 2.3 0 1 0 -4.6 0M590.7 416.6a2.3 2.3 0 1 0 4.6 0a2.3 2.3 0 1 0 -4.6 0M599.5 428.0a2.3 2.3 0 1 0 4.6 0a2.3 2.3 0 1 0 -4.6 0M608.3 429.3a2.3 2.3 0 1 0 4.6 0a2.3 2.3 0 1 0 -4.6 0M617.0 423.7a2.3 2.3 0 1 0 4.6 0a2.3 2.3 0 1 0 -4.6 0M625.8 436.0a2.3 2.3 0 1 0 4.6 0a2.3 2.3 0 1 0 -4.6 0M634.6 441.7a2.3 2.3 0 1 0 4.6 0a2.3 2.3 0 1 0 -4.6 0M643.3 432.2a2.3 2.3 0 1 0 4.6 0a2.3 2.3 0 1 0 -4.6 0M652.1 428.1a2.3 2.3 0 1 0 4.6 0a2.3 2.3 0 1 0 -4.6 0M660.9 426.7a2.3 2.3 0 1 0 4.6 0a2.3 2.3 0 1 0 -4.6 0M669.7 441.1a2.3 2.3 0 1 0 4.6 0a2.3 2.3 0 1 0 -4.6 0M73.2 590.3a2.3 2.3 0 1 0 4.6 0a2.3 2.3 0 1 0 -4.6 0M82.0 586.3a2.3 2.3 0 1 0 4.6 0a2.3 2.3 0 1 0 -4.6 0M90.8 584.3a2.3 2.3 0 1 0 4.6 0a2.3 2.3 0 1 0 -4.6 0M99.5 589.1a2.3 2.3 0 1 0 4.6 0a2.3 2.3 0 1 0 -4.6 0M108.3 582.1a2.3 2.3 0 1 0 4.6 0a2.3 2.3 0 1 0 -4.6 0M117.1 602.6a2.3 2.3 0 1 0 4.6 0a2.3 2.3 0 1 0 -4.6 0M125.9 591.2a2.3 2.3 0 1 0 4.6 0a2.3 2.3 0 1 0 -4.6 0M134.6 596.8a2.3 2.3 0 1 0 4.6 0a2.3 2.3 0 1 0 -4.6 0M143.4 587.3a2.3 2.3 0 1 0 4.6 0a2.3 2.3 0 1 0 -4.6 0M152.2 576.5a2.3 2.3 0 1 0 4.6 0a2.3 2.3 0 1 0 -4.6 0M160.9 575.5a2.3 2.3 0 1 0 4.6 0a2.3 2.3 0 1 0 -4.6 0M169.7 565.5a2.3 2.3 0 1 0 4.6 0a2.3 2.3 0 1 0 -4.6 0M178.5 573.2a2.3 2.3 0 1 0 4.6 0a2.3 2.3 0 1 0 -4.6 0M187.3 553.3a2.3 2.3 0 1 0 4.6 0a2.3 2.3 0 1 0 -4.6 0M196.0 558.7a2.3 2.3 0 1 0 4.6 0a2.3 2.3 0 1 0 -4.6 0M204.8 535.2a2.3 2.3 0 1 0 4.6 0a2.3 2.3 0 1 0 -4.6 0M213.6 525.6a2.3 2.3 0 1 0 4.6 0a2.3 2.3 0 1 0 -4.6 0M222.3 517.4a2.3 2.3 0 1 0 4.6 0a2.3 2.3 0 1 0 -4.6 0M231.1 521.1a2.3 2.3 0 1 0 4.6 0a2.3 2.3 0 1 0 -4.6 0M239.9 506.6a2.3 2.3 0 1 0 4.6 0a2.3 2.3 0 1 0 -4.6 0M248.7 501.7a2.3 2.3 0 1 0 4.6 0a2.3 2.3 0 1 0 -4.6 0M257.4 501.2a2.3 2.3 0 1 0 4.6 0a2.3 2.3 0 1 0 -4.6 0M266.2 501.9a2.3 2.3 0 1 0 4.6 0a2.3 2.3 0 1 0 -4.6 0M275.0 495.1a2.3 2.3 0 1 0 4.6 0a2.3 2.3 0 1 0 -4.6 0M283.7 494.6a2.3 2.3 0 1 0 4.6 0a2.3 2.3 0 1 0 -4.6 0M292.5 483.9a2.3 2.3 0 1 0 4.6 0a2.3 2.3 0 1 0 -4.6 0M301.3 482.4a2.3 2.3 0 1 0 4.6 0a2.3 2.3 0 1 0 -4.6 0M310.0 481.3a2.3 2.3 0 1 0 4.6 0a2.3 2.3 0 1 0 -4.6 0M318.8 469.3a2.3 2.3 0 1 0 4.6 0a2.3 2.3 0 1 0 -4.6 0M327.6 484.7a2.3 2.3 0 1 0 4.6 0a2.3 2.3 0 1 0 -4.6 0M336.4 464.6a2.3 2.3 0 1 0 4.6 0a2.3 2.3 0 1 0 -4.6 0M345.1 470.4a2.3 2.3 0 1 0 4.6 0a2.3 2.3 0 1 0 -4.6 0M353.9 468.1a2.3 2.3 0 1 0 4.6 0a2.3 2.3 0 1 0 -4.6 0M362.7 472.6a2.3 2.3 0 1 0 4.6 0a2.3 2.3 0 1 0 -4.6 0M371.4 464.1a2.3 2.3 0 1 0 4.6 0a2.3 2.3 0 1 0 -4.6 0M380.2 458.6a2.3 2.3 0 1 0 4.6 0a2.3 2.3 0 1 0 -4.6 0M389.0 456.1a2.3 2.3 0 1 0 4.6 0a2.3 2.3 0 1 0 -4.6 0M397.8 458.8a2.3 2.3 0 1 0 4.6 0a2.3 2.3 0 1 0 -4.6 0M406.5 453.4a2.3 2.3 0 1 0 4.6 0a2.3 2.3 0 1 0 -4.6 0M415.3 446.5a2.3 2.3 0 1 0 4.6 0a2.3 2.3 0 1 0 -4.6 0M424.1 452.0a2.3 2.3 0 1 0 4.6 0a2.3 2.3 0 1 0 -4.6 0M432.8 456.8a2.3 2.3 0 1 0 4.6 0a2.3 2.3 0 1 0 -4.6 0M441.6 441.7a2.3 2.3 0 1 0 4.6 0a2.3 2.3 0 1 0 -4.6 0M450.4 448.7a2.3 2.3 0 1 0 4.6 0a2.3 2.3 0 1 0 -4.6 0M459.2 443.3a2.3 2.3 0 1 0 4.6 0a2.3 2.3 0 1 0 -4.6 0M467.9 444.9a2.3 2.3 0 1 0 4.6 0a2.3 2.3 0 1 0 -4.6 0M476.7 453.7a2.3 2.3 0 1 0 4.6 0a2.3 2.3 0 1 0 -4.6 0M485.5 458.8a2.3 2.3 0 1 0 4.6 0a2.3 2.3 0 1 0 -4.6 0M494.2 449.3a2.3 2.3 0 1 0 4.6 0a2.3 2.3 0 1 0 -4.6 0M503.0 441.4a2.3 2.3 0 1 0 4.6 0a2.3 2.3 0 1 0 -4.6 0M511.8 450.0a2.3 2.3 0 1 0 4.6 0a2.3 2.3 0 1 0 -4.6 0M520.5 439.2a2.3 2.3 0 1 0 4.6 0a2.3 2.3 0 1 0 -4.6 0M529.3 437.6a2.3 2.3 0 1 0 4.6 0a2.3 2.3 0 1 0 -4.6 0M538.1 449.4a2.3 2.3 0 1 0 4.6 0a2.3 2.3 0 1 0 -4.6 0M546.9 436.6a2.3 2.3 0 1 0 4.6 0a2.3 2.3 0 1 0 -4.6 0M555.6 435.1a2.3 2.3 0 1 0 4.6 0a2.3 2.3 0 1 0 -4.6 0M564.4 440.0a2.3 2.3 0 1 0 4.6 0a2.3 2.3 0 1 0 -4.6 0M573.2 436.0a2.3 2.3 0 1 0 4.6 0a2.3 2.3 0 1 0 -4.6 0M581.9 437.8a2.3 2.3 0 1 0 4.6 0a2.3 2.3 0 1 0 -4.6 0M590.7 428.4a2.3 2.3 0 1 0 4.6 0a2.3 2.3 0 1 0 -4.6 0M599.5 444.0a2.3 2.3 0 1 0 4.6 0a2.3 2.3 0 1 0 -4.6 0M608.3 450.4a2.3 2.3 0 1 0 4.6 0a2.3 2.3 0 1 0 -4.6 0M617.0 443.3a2.3 2.3 0 1 0 4.6 0a2.3 2.3 0 1 0 -4.6 0M625.8 458.6a2.3 2.3 0 1 0 4.6 0a2.3 2.3 0 1 0 -4.6 0M634.6 462.3a2.3 2.3 0 1 0 4.6 0a2.3 2.3 0 1 0 -4.6 0M643.3 457.2a2.3 2.3 0 1 0 4.6 0a2.3 2.3 0 1 0 -4.6 0M652.1 444.0a2.3 2.3 0 1 0 4.6 0a2.3 2.3 0 1 0 -4.6 0M660.9 446.4a2.3 2.3 0 1 0 4.6 0a2.3 2.3 0 1 0 -4.6 0M669.7 460.4a2.3 2.3 0 1 0 4.6 0a2.3 2.3 0 1 0 -4.6 0"/>
<path stroke="#00c800" d="M70.2 590.4a2.3 2.3 0 1 0 4.6 0a2.3 2.3 0 1 0 -4.6 0M79.0 583.3a2.3 2.3 0 1 0 4.6 0a2.3 2.3 0 1 0 -4.6 0M87.7 580.6a2.3 2.3 0 1 0 4.6 0a2.3 2.3 0 1 0 -4.6 0M96.5 591.3a2.3 2.3 0 1 0 4.6 0a2.3 2.3 0 1 0 -4.6 0M105.3 585.9a2.3 2.3 0 1 0 4.6 0a2.3 2.3 0 1 0 -4.6 0M114.1 589.4a2.3 2.3 0 1 0 4.6 0a2.3 2.3 0 1 0 -4.6 0M122.8 580.6a2.3 2.3 0 1 0 4.6 0a2.3 2.3 0 1 0 -4.6 0M131.6 578.5a2.3 2.3 0 1 0 4.6 0a2.3 2.3 0 1 0 -4.6 0M140.4 576.8a2.3 2.3 0 1 0 4.6 0a2.3 2.3 0 1 0 -4.6 0M149.1 588.4a2.3 2.3 0 1 0 4.6 0a2.3 2.3 0 1 0 -4.6 0M157.9 556.8a2.3 2.3 0 1 0 4.6 0a2.3 2.3 0 1 0 -4.6 0M166.7 567.1a2.3 2.3 0 1 0 4.6 0a2.3 2.3 0 1 0 -4.6 0M175.4 550.7a2.3 2.3 0 1 0 4.6 0a2.3 2.3 0 1 0 -4.6 0M184.2 550.2a2.3 2.3 0 1 0 4.6 0a2.3 2.3 0 1 0 -4.6 0M193.0 541.3a2.3 2.3 0 1 0 4.6 0a2.3 2.3 0 1 0 -4.6 0M201.8 527.3a2.3 2.3 0 1 0 4.6 0a2.3 2.3 0 1 0 -4.6 0M210.5 510.6a2.3 2.3 0 1 0 4.6 0a2.3 2.3 0 1 0 -4.6 0M219.3 505.3a2.3 2.3 0 1 0 4.6 0a2.3 2.3 0 1 0 -4.6 0M228.1 494.6a2.3 2.3 0 1 0 4.6 0a2.3 2.3 0 1 0 -4.6 0M236.8 472.9a2.3 2.3 0 1 0 4.6 0a2.3 2.3 0 1 0 -4.6 0M245.6 470.4a2.3 2.3 0 1 0 4.6 0a2.3 2.3 0 1 0 -4.6 0M254.4 459.9a2.3 2.3 0 1 0 4.6 0a2.3 2.3 0 1 0 -4.6 0M263.2 438.4a2.3 2.3 0 1 0 4.6 0a2.3 2.3 0 1 0 -4.6 0M271.9 434.5a2.3 2.3 0 1 0 4.6 0a2.3 2.3 0 1 0 -4.6 0M280.7 431.5a2.3 2.3 0 1 0 4.6 0a2.3 2.3 0 1 0 -4.6 0M289.5 414.6a2.3 2.3 0 1 0 4.6 0a2.3 2.3 0 1 0 -4.6 0M298.2 407.8a2.3 2.3 0 1 0 4.6 0a2.3 2.3 0 1 0 -4.6 0M307.0 406.6a2.3 2.3 0 1 0 4.6 0a2.3 2.3 0 1 0 -4.6 0M315.8 401.5a2.3 2.3 0 1 0 4.6 0a2.3 2.3 0 1 0 -4.6 0M324.6 385.1a2.3 2.3 0 1 0 4.6 0a2.3 2.3 0 1 0 -4.6 0M333.3 377.0a2.3 2.3 0 1 0 4.6 0a2.3 2.3 0 1 0 -4.6 0M342.1 380.6a2.3 2.3 0 1 0 4.6 0a2.3 2.3 0 1 0 -4.6 0M350.9 382.7a2.3 2.3 0 1 0 4.6 0a2.3 2.3 0 1 0 -4.6 0M359.6 369.4a2.3 2.3 0 1 0 4.6 0a2.3 2.3 0 1 0 -4.6 0M368.4 363.2a2.3 2.3 0 1 0 4.6 0a2.3 2.3 0 1 0 -4.6 0M377.2 370.4a2.3 2.3 0 1 0 4.6 0a2.3 2.3 0 1 0 -4.6 0M385.9 362.6a2.3 2.3 0 1 0 4.6 0a2.3 2.3 0 1 0 -4.6 0M394.7 358.1a2.3 2.3 0 1 0 4.6 0a2.3 2.3 0 1 0 -4.6 0M403.5 363.0a2.3 2.3 0 1 0 4.6 0a2.3 2.3 0 1 0 -4.6 0M412.3 368.0a2.3 2.3 0 1 0 4.6 0a2.3 2.3 0 1 0 -4.6 0M421.0 353.6a2.3 2.3 0 1 0 4.6 0a2.3 2.3 0 1 0 -4.6 0M429.8 349.0a2.3 2.3 0 1 0 4.6 0a2.3 2.3 0 1 0 -4.6 0M438.6 343.3a2.3 2.3 0 1 0 4.6 0a2.3 2.3 0 1 0 -4.6 0M447.3 352.7a2.3 2.3 0 1 0 4.6 0a2.3 2.3 0 1 0 -4.6 0M456.1 341.6a2.3 2.3 0 1 0 4.6 0a2.3 2.3 0 1 0 -4.6 0M464.9 346.4a2.3 2.3 0 1 0 4.6 0a2.3 2.3 0 1 0 -4.6 0M473.7 351.2a2.3 2.3 0 1 0 4.6 0a2.3 2.3 0 1 0 -4.6 0M482.4 336.6a2.3 2.3 0 1 0 4.6 0a2.3 2.3 0 1 0 -4.6 0M491.2 335.5a2.3 2.3 0 1 0 4.6 0a2.3 2.3 0 1 0 -4.6 0M500.0 343.8a2.3 2.3 0 1 0 4.6 0a2.3 2.3 0 1 0 -4.6 0M508.7 327.1a2.3 2.3 0 1 0 4.6 0a2.3 2.3 0 1 0 -4.6 0M517.5 328.0a2.3 2.3 0 1 0 4.6 0a2.3 2.3 0 1 0 -4.6 0M526.3 329.4a2.3 2.3 0 1 0 4.6 0a2.3 2.3 0 1 0 -4.6 0M535.1 331.9a2.3 2.3 0 1 0 4.6 0a2.3 2.3 0 1 0 -4.6 0M543.8 328.0a2.3 2.3 0 1 0 4.6 0a2.3 2.3 0 1 0 -4.6 0M552.6 343.2a2.3 2.3 0 1 0 4.6 0a2.3 2.3 0 1 0 -4.6 0M561.4 329.6a2.3 2.3 0 1 0 4.6 0a2.3 2.3 0 1 0 -4.6 0M570.1 327.4a2.3 2.3 0 1 0 4.6 0a2.3 2.3 0 1 0 -4.6 0M578.9 345.7a2.3 2.3 0 1 0 4.6 0a2.3 2.3 0 1 0 -4.6 0M587.7 330.2a2.3 2.3 0 1 0 4.6 0a2.3 2.3 0 1 0 -4.6 0M596.4 337.2a2.3 2.3 0 1 0 4.6 0a2.3 2.3 0 1 0 -4.6 0M605.2 327.1a2.3 2.3 0 1 0 4.6 0a2.3 2.3 0 1 0 -4.6 0M614.0 338.9a2.3 2.3 0 1 0 4.6 0a2.3 2.3 0 1 0 -4.6 0M622.8 335.7a2.3 2.3 0 1 0 4.6 0a2.3 2.3 0 1 0 -4.6 0M631.5 329.4a2.3 2.3 0 1 0 4.6 0a2.3 2.3 0 1 0 -4.6 0M640.3 334.8a2.3 2.3 0 1 0 4.6 0a2.3 2.3 0 1 0 -4.6 0M649.1 326.9a2.3 2.3 0 1 0 4.6 0a2.3 2.3 0 1 0 -4.6 0M657.8 329.9a2.3 2.3 0 1 0 4.6 0a2.3 2.3 0 1 0 -4.6 0M666.6 324.5a2.3 2.3 0 1 0 4.6 0a2.3 2.3 0 1 0 -4.6 0M70.2 590.4a2.3 2.3 0 1 0 4.6 0a2.3 2.3 0 1 0 -4.6 0M79.0 582.6a2.3 2.3 0 1 0 4.6 0a2.3 2.3 0 1 0 -4.6 0M87.7 584.5a2.3 2.3 0 1 0 4.6 0a2.3 2.3 0 1 0 -4.6 0M96.5 597.2a2.3 2.3 0 1 0 4.6 0a2.3 2.3 0 1 0 -4.6 0M105.3 590.5a2.3 2.3 0 1 0 4.6 0a2.3 2.3 0 1 0 -4.6 0M114.1 592.4a2.3 2.3 0 1 0 4.6 0a2.3 2.3 0 1 0 -4.6 0M122.8 583.9a2.3 2.3 0 1 0 4.6 0a2.3 2.3 0 1 0 -4.6 0M131.6 585.6a2.3 2.3 0 1 0 4.6 0a2.3 2.3 0 1 0 -4.6 0M140.4 582.8a2.3 2.3 0 1 0 4.6 0a2.3 2.3 0 1 0 -4.6 0M149.1 596.5a2.3 2.3 0 1 0 4.6 0a2.3 2.3 0 1 0 -4.6 0M157.9 574.0a2.3 2.3 0 1 0 4.6 0a2.3 2.3 0 1 0 -4.6 0M166.7 574.4a2.3 2.3 0 1 0 4.6 0a2.3 2.3 0 1 0 -4.6 0M175.4 560.4a2.3 2.3 0 1 0 4.6 0a2.3 2.3 0 1 0 -4.6 0M184.2 556.0a2.3 2.3 0 1 0 4.6 0a2.3 2.3 0 1 0 -4.6 0M193.0 552.0a2.3 2.3 0 1 0 4.6 0a2.3 2.3 0 1 0 -4.6 0M201.8 537.2a2.3 2.3 0 1 0 4.6 0a2.3 2.3 0 1 0 -4.6 0M210.5 521.6a2.3 2.3 0 1 0 4.6 0a2.3 2.3 0 1 0 -4.6 0M219.3 519.8a2.3 2.3 0 1 0 4.6 0a2.3 2.3 0 1 0 -4.6 0M228.1 505.3a2.3 2.3 0 1 0 4.6 0a2.3 2.3 0 1 0 -4.6 0M236.8 485.4a2.3 2.3 0 1 0 4.6 0a2.3 2.3 0 1 0 -4.6 0M245.6 481.2a2.3 2.3 0 1 0 4.6 0a2.3 2.3 0 1 0 -4.6 0M254.4 470.3a2.3 2.3 0 1 0 4.6 0a2.3 2.3 0 1 0 -4.6 0M263.2 444.8a2.3 2.3 0 1 0 4.6 0a2.3 2.3 0 1 0 -4.6 0M271.9 442.4a2.3 2.3 0 1 0 4.6 0a2.3 2.3 0 1 0 -4.6 0M280.7 437.8a2.3 2.3 0 1 0 4.6 0a2.3 2.3 0 1 0 -4.6 0M289.5 423.7a2.3 2.3 0 1 0 4.6 0a2.3 2.3 0 1 0 -4.6 0M298.2 412.2a2.3 2.3 0 1 0 4.6 0a2.3 2.3 0 1 0 -4.6 0M307.0 411.3a2.3 2.3 0 1 0 4.6 0a2.3 2.3 0 1 0 -4.6 0M315.8 412.4a2.3 2.3 0 1 0 4.6 0a2.3 2.3 0 1 0 -4.6 0M324.6 399.5a2.3 2.3 0 1 0 4.6 0a2.3 2.3 0 1 0 -4.6 0M333.3 385.0a2.3 2.3 0 1 0 4.6 0a2.3 2.3 0 1 0 -4.6 0M342.1 391.9a2.3 2.3 0 1 0 4.6 0a2.3 2.3 0 1 0 -4.6 0M350.9 397.1a2.3 2.3 0 1 0 4.6 0a2.3 2.3 0 1 0 -4.6 0M359.6 384.3a2.3 2.3 0 1 0 4.6 0a2.3 2.3 0 1 0 -4.6 0M368.4 377.7a2.3 2.3 0 1 0 4.6 0a2.3 2.3 0 1 0 -4.6 0M377.2 381.6a2.3 2.3 0 1 0 4.6 0a2.3 2.3 0 1 0 -4.6 0M385.9 372.1a2.3 2.3 0 1 0 4.6 0a2.3 2.3 0 1 0 -4.6 0M394.7 366.7a2.3 2.3 0 1 0 4.6 0a2.3 2.3 0 1 0 -4.6 0M403.5 374.0a2.3 2.3 0 1 0 4.6 0a2.3 2.3 0 1 0 -4.6 0M412.3 373.5a2.3 2.3 0 1 0 4.6 0a2.3 2.3 0 1 0 -4.6 0M421.0 364.5a2.3 2.3 0 1 0 4.6 0a2.3 2.3 0 1 0 -4.6 0M429.8 362.5a2.3 2.3 0 1 0 4.6 0a2.3 2.3 0 1 0 -4.6 0M438.6 353.7a2.3 2.3 0 1 0 4.6 0a2.3 2.3 0 1 0 -4.6 0M447.3 369.8a2.3 2.3 0 1 0 4.6 0a2.3 2.3 0 1 0 -4.6 0M456.1 359.6a2.3 2.3 0 1 0 4.6 0a2.3 2.3 0 1 0 -4.6 0M464.9 362.1a2.3 2.3 0 1 0 4.6 0a2.3 2.3 0 1 0 -4.6 0M473.7 367.4a2.3 2.3 0 1 0 4.6 0a2.3 2.3 0 1 0 -4.6 0M482.4 354.1a2.3 2.3 0 1 0 4.6 0a2.3 2.3 0 1 0 -4.6 0M491.2 345.8a2.3 2.3 0 1 0 4.6 0a2.3 2.3 0 1 0 -4.6 0M500.0 353.1a2.3 2.3 0 1 0 4.6 0a2.3 2.3 0 1 0 -4.6 0M508.7 339.2a2.3 2.3 0 1 0 4.6 0a2.3 2.3 0 1 0 -4.6 0M517.5 342.0a2.3 2.3 0 1 0 4.6 0a2.3 2.3 0 1 0 -4.6 0M526.3 341.3a2.3 2.3 0 1 0 4.6 0a2.3 2.3 0 1 0 -4.6 0M535.1 345.7a2.3 2.3 0 1 0 4.6 0a2.3 2.3 0 1 0 -4.6 0M543.8 337.2a2.3 2.3 0 1 0 4.6 0a2.3 2.3 0 1 0 -4.6 0M552.6 354.9a2.3 2.3 0 1 0 4.6 0a2.3 2.3 0 1 0 -4.6 0M561.4 339.2a2.3 2.3 0 1 0 4.6 0a2.3 2.3 0 1 0 -4.6 0M570.1 341.1a2.3 2.3 0 1 0 4.6 0a2.3 2.3 0 1 0 -4.6 0M578.9 353.3a2.3 2.3 0 1 0 4.6 0a2.3 2.3 0 1 0 -4.6 0M587.7 343.1a2.3 2.3 0 1 0 4.6 0a2.3 2.3 0 1 0 -4.6 0M596.4 345.4a2.3 2.3 0 1 0 4.6 0a2.3 2.3 0 1 0 -4.6 0M605.2 335.8a2.3 2.3 0 1 0 4.6 0a2.3 2.3 0 1 0 -4.6 0M614.0 340.3a2.3 2.3 0 1 0 4.6 0a2.3 2.3 0 1 0 -4.6 0M622.8 337.5a2.3 2.3 0 1 0 4.6 0a2.3 2.3 0 1 0 -4.6 0M631.5 335.6a2.3 2.3 0 1 0 4.6 0a2.3 2.3 0 1 0 -4.6 0M640.3 342.9a2.3 2.3 0 1 0 4.6 0a2.3 2.3 0 1 0 -4.6 0M649.1 332.4a2.3 2.3 0 1 0 4.6 0a2.3 2.3 0 1 0 -4.6 0M657.8 339.9a2.3 2.3 0 1 0 4.6 0a2.3 2.3 0 1 0 -4.6 0M666.6 338.1a2.3 2.3 0 1 0 4.6 0a2.3 2.3 0 1 0 -4.6 0M70.2 596.2a2.3 2.3 0 1 0 4.6 0a2.3 2.3 0 1 0 -4.6 0M79.0 581.8a2.3 2.3 0 1 0 4.6 0a2.3 2.3 0 1 0 -4.6 0M87.7 582.1a2.3 2.3 0 1 0 4.6 0a2.3 2.3 0 1 0 -4.6 0M96.5 591.9a2.3 2.3 0 1 0 4.6 0a2.3 2.3 0 1 0 -4.6 0M105.3 595.4a2.3 2.3 0 1 0 4.6 0a2.3 2.3 0 1 0 -4.6 0M114.1 591.8a2.3 2.3 0 1 0 4.6 0a2.3 2.3 0 1 0 -4.6 0M122.8 581.0a2.3 2.3 0 1 0 4.6 0a2.3 2.3 0 1 0 -4.6 0M131.6 590.2a2.3 2.3 0 1 0 4.6 0a2.3 2.3 0 1 0 -4.6 0M140.4 579.0a2.3 2.3 0 1 0 4.6 0a2.3 2.3 0 1 0 -4.6 0M149.1 588.4a2.3 2.3 0 1 0 4.6 0a2.3 2.3 0 1 0 -4.6 0M157.9 564.8a2.3 2.3 0 1 0 4.6 0a2.3 2.3 0 1 0 -4.6 0M166.7 566.3a2.3 2.3 0 1 0 4.6 0a2.3 2.3 0 1 0 -4.6 0M175.4 553.7a2.3 2.3 0 1 0 4.6 0a2.3 2.3 0 1 0 -4.6 0M184.2 552.0a2.3 2.3 0 1 0 4.6 0a2.3 2.3 0 1 0 -4.6 0M193.0 545.0a2.3 2.3 0 1 0 4.6 0a2.3 2.3 0 1 0 -4.6 0M201.8 531.9a2.3 2.3 0 1 0 4.6 0a2.3 2.3 0 1 0 -4.6 0M210.5 516.6a2.3 2.3 0 1 0 4.6 0a2.3 2.3 0 1 0 -4.6 0M219.3 512.3a2.3 2.3 0 1 0 4.6 0a2.3 2.3 0 1 0 -4.6 0M228.1 501.7a2.3 2.3 0 1 0 4.6 0a2.3 2.3 0 1 0 -4.6 0M236.8 484.4a2.3 2.3 0 1 0 4.6 0a2.3 2.3 0 1 0 -4.6 0M245.6 481.1a2.3 2.3 0 1 0 4.6 0a2.3 2.3 0 1 0 -4.6 0M254.4 477.9a2.3 2.3 0 1 0 4.6 0a2.3 2.3 0 1 0 -4.6 0M263.2 450.8a2.3 2.3 0 1 0 4.6 0a2.3 2.3 0 1 0 -4.6 0M271.9 453.1a2.3 2.3 0 1 0 4.6 0a2.3 2.3 0 1 0 -4.6 0M280.7 452.8a2.3 2.3 0 1 0 4.6 0a2.3 2.3 0 1 0 -4.6 0M289.5 437.1a2.3 2.3 0 1 0 4.6 0a2.3 2.3 0 1 0 -4.6 0M298.2 424.5a2.3 2.3 0 1 0 4.6 0a2.3 2.3 0 1 0 -4.6 0M307.0 423.4a2.3 2.3 0 1 0 4.6 0a2.3 2.3 0 1 0 -4.6 0M315.8 422.3a2.3 2.3 0 1 0 4.6 0a2.3 2.3 0 1 0 -4.6 0M324.6 409.7a2.3 2.3 0 1 0 4.6 0a2.3 2.3 0 1 0 -4.6 0M333.3 399.3a2.3 2.3 0 1 0 4.6 0a2.3 2.3 0 1 0 -4.6 0M342.1 402.7a2.3 2.3 0 1 0 4.6 0a2.3 2.3 0 1 0 -4.6 0M350.9 402.7a2.3 2.3 0 1 0 4.6 0a2.3 2.3 0 1 0 -4.6 0M359.6 390.5a2.3 2.3 0 1 0 4.6 0a2.3 2.3 0 1 0 -4.6 0M368.4 386.6a2.3 2.3 0 1 0 4.6 0a2.3 2.3 0 1 0 -4.6 0M377.2 392.6a2.3 2.3 0 1 0 4.6 0a2.3 2.3 0 1 0 -4.6 0M385.9 382.0a2.3 2.3 0 1 0 4.6 0a2.3 2.3 0 1 0 -4.6 0M394.7 379.0a2.3 2.3 0 1 0 4.6 0a2.3 2.3 0 1 0 -4.6 0M403.5 387.6a2.3 2.3 0 1 0 4.6 0a2.3 2.3 0 1 0 -4.6 0M412.3 393.1a2.3 2.3 0 1 0 4.6 0a2.3 2.3 0 1 0 -4.6 0M421.0 379.6a2.3 2.3 0 1 0 4.6 0a2.3 2.3 0 1 0 -4.6 0M429.8 378.9a2.3 2.3 0 1 0 4.6 0a2.3 2.3 0 1 0 -4.6 0M438.6 368.7a2.3 2.3 0 1 0 4.6 0a2.3 2.3 0 1 0 -4.6 0M447.3 379.6a2.3 2.3 0 1 0 4.6 0a2.3 2.3 0 1 0 -4.6 0M456.1 373.8a2.3 2.3 0 1 0 4.6 0a2.3 2.3 0 1 0 -4.6 0M464.9 374.1a2.3 2.3 0 1 0 4.6 0a2.3 2.3 0 1 0 -4.6 0M473.7 381.3a2.3 2.3 0 1 0 4.6 0a2.3 2.3 0 1 0 -4.6 0M482.4 368.0a2.3 2.3 0 1 0 4.6 0a2.3 2.3 0 1 0 -4.6 0M491.2 361.1a2.3 2.3 0 1 0 4.6 0a2.3 2.3 0 1 0 -4.6 0M500.0 374.2a2.3 2.3 0 1 0 4.6 0a2.3 2.3 0 1 0 -4.6 0M508.7 354.7a2.3 2.3 0 1 0 4.6 0a2.3 2.3 0 1 0 -4.6 0M517.5 357.4a2.3 2.3 0 1 0 4.6 0a2.3 2.3 0 1 0 -4.6 0M526.3 358.1a2.3 2.3 0 1 0 4.6 0a2.3 2.3 0 1 0 -4.6 0M535.1 360.6a2.3 2.3 0 1 0 4.6 0a2.3 2.3 0 1 0 -4.6 0M543.8 350.9a2.3 2.3 0 1 0 4.6 0a2.3 2.3 0 1 0 -4.6 0M552.6 369.6a2.3 2.3 0 1 0 4.6 0a2.3 2.3 0 1 0 -4.6 0M561.4 356.4a2.3 2.3 0 1 0 4.6 0a2.3 2.3 0 1 0 -4.6 0M570.1 355.2a2.3 2.3 0 1 0 4.6 0a2.3 2.3 0 1 0 -4.6 0M578.9 366.0a2.3 2.3 0 1 0 4.6 0a2.3 2.3 0 1 0 -4.6 0M587.7 352.0a2.3 2.3 0 1 0 4.6 0a2.3 2.3 0 1 0 -4.6 0M596.4 360.0a2.3 2.3 0 1 0 4.6 0a2.3 2.3 0 1 0 -4.6 0M605.2 351.2a2.3 2.3 0 1 0 4.6 0a2.3 2.3 0 1 0 -4.6 0M614.0 357.1a2.3 2.3 0 1 0 4.6 0a2.3 2.3 0 1 0 -4.6 0M622.8 356.6a2.3 2.3 0 1 0 4.6 0a2.3 2.3 0 1 0 -4.6 0M631.5 352.3a2.3 2.3 0 1 0 4.6 0a2.3 2.3 0 1 0 -4.6 0M640.3 360.8a2.3 2.3 0 1 0 4.6 0a2.3 2.3 0 1 0 -4.6 0M649.1 353.5a2.3 2.3 0 1 0 4.6 0a2.3 2.3 0 1 0 -4.6 0M657.8 358.4a2.3 2.3 0 1 0 4.6 0a2.3 2.3 0 1 0 -4.6 0M666.6 351.1a2.3 2.3 0 1 0 4.6 0a2.3 2.3 0 1 0 -4.6 0M70.2 594.8a2.3 2.3 0 1 0 4.6 0a2.3 2.3 0 1 0 -4.6 0M79.0 587.6a2.3 2.3 0 1 0 4.6 0a2.3 2.3 0 1 0 -4.6 0M87.7 588.2a2.3 2.3 0 1 0 4.6 0a2.3 2.3 0 1 0 -4.6 0M96.5 598.9a2.3 2.3 0 1 0 4.6 0a2.3 2.3 0 1 0 -4.6 0M105.3 598.0a2.3 2.3 0 1 0 4.6 0a2.3 2.3 0 1 0 -4.6 0M114.1 594.8a2.3 2.3 0 1 0 4.6 0a2.3 2.3 0 1 0 -4.6 0M122.8 589.8a2.3 2.3 0 1 0 4.6 0a2.3 2.3 0 1 0 -4.6 0M131.6 586.5a2.3 2.3 0 1 0 4.6 0a2.3 2.3 0 1 0 -4.6 0M140.4 581.0a2.3 2.3 0 1 0 4.6 0a2.3 2.3 0 1 0 -4.6 0M149.1 596.2a2.3 2.3 0 1 0 4.6 0a2.3 2.3 0 1 0 -4.6 0M157.9 570.3a2.3 2.3 0 1 0 4.6 0a2.3 2.3 0 1 0 -4.6 0M166.7 574.2a2.3 2.3 0 1 0 4.6 0a2.3 2.3 0 1 0 -4.6 0M175.4 559.5a2.3 2.3 0 1 0 4.6 0a2.3 2.3 0 1 0 -4.6 0M184.2 556.6a2.3 2.3 0 1 0 4.6 0a2.3 2.3 0 1 0 -4.6 0M193.0 552.5a2.3 2.3 0 1 0 4.6 0a2.3 2.3 0 1 0 -4.6 0M201.8 537.7a2.3 2.3 0 1 0 4.6 0a2.3 2.3 0 1 0 -4.6 0M210.5 525.9a2.3 2.3 0 1 0 4.6 0a2.3 2.3 0 1 0 -4.6 0M219.3 518.1a2.3 2.3 0 1 0 4.6 0a2.3 2.3 0 1 0 -4.6 0M228.1 508.3a2.3 2.3 0 1 0 4.6 0a2.3 2.3 0 1 0 -4.6 0M236.8 487.0a2.3 2.3 0 1 0 4.6 0a2.3 2.3 0 1 0 -4.6 0M245.6 484.8a2.3 2.3 0 1 0 4.6 0a2.3 2.3 0 1 0 -4.6 0M254.4 483.9a2.3 2.3 0 1 0 4.6 0a2.3 2.3 0 1 0 -4.6 0M263.2 462.0a2.3 2.3 0 1 0 4.6 0a2.3 2.3 0 1 0 -4.6 0M271.9 455.8a2.3 2.3 0 1 0 4.6 0a2.3 2.3 0 1 0 -4.6 0M280.7 455.7a2.3 2.3 0 1 0 4.6 0a2.3 2.3 0 1 0 -4.6 0M289.5 444.6a2.3 2.3 0 1 0 4.6 0a2.3 2.3 0 1 0 -4.6 0M298.2 435.2a2.3 2.3 0 1 0 4.6 0a2.3 2.3 0 1 0 -4.6 0M307.0 434.3a2.3 2.3 0 1 0 4.6 0a2.3 2.3 0 1 0 -4.6 0M315.8 433.3a2.3 2.3 0 1 0 4.6 0a2.3 2.3 0 1 0 -4.6 0M324.6 418.4a2.3 2.3 0 1 0 4.6 0a2.3 2.3 0 1 0 -4.6 0M333.3 412.8a2.3 2.3 0 1 0 4.6 0a2.3 2.3 0 1 0 -4.6 0M342.1 413.7a2.3 2.3 0 1 0 4.6 0a2.3 2.3 0 1 0 -4.6 0M350.9 414.6a2.3 2.3 0 1 0 4.6 0a2.3 2.3 0 1 0 -4.6 0M359.6 403.4a2.3 2.3 0 1 0 4.6 0a2.3 2.3 0 1 0 -4.6 0M368.4 400.4a2.3 2.3 0 1 0 4.6 0a2.3 2.3 0 1 0 -4.6 0M377.2 404.0a2.3 2.3 0 1 0 4.6 0a2.3 2.3 0 1 0 -4.6 0M385.9 396.5a2.3 2.3 0 1 0 4.6 0a2.3 2.3 0 1 0 -4.6 0M394.7 389.0a2.3 2.3 0 1 0 4.6 0a2.3 2.3 0 1 0 -4.6 0M403.5 395.6a2.3 2.3 0 1 0 4.6 0a2.3 2.3 0 1 0 -4.6 0M412.3 402.8a2.3 2.3 0 1 0 4.6 0a2.3 2.3 0 1 0 -4.6 0M421.0 391.7a2.3 2.3 0 1 0 4.6 0a2.3 2.3 0 1 0 -4.6 0M429.8 392.8a2.3 2.3 0 1 0 4.6 0a2.3 2.3 0 1 0 -4.6 0M438.6 383.8a2.3 2.3 0 1 0 4.6 0a2.3 2.3 0 1 0 -4.6 0M447.3 399.5a2.3 2.3 0 1 0 4.6 0a2.3 2.3 0 1 0 -4.6 0M456.1 389.7a2.3 2.3 0 1 0 4.6 0a2.3 2.3 0 1 0 -4.6 0M464.9 386.4a2.3 2.3 0 1 0 4.6 0a2.3 2.3 0 1 0 -4.6 0M473.7 394.7a2.3 2.3 0 1 0 4.6 0a2.3 2.3 0 1 0 -4.6 0M482.4 380.0a2.3 2.3 0 1 0 4.6 0a2.3 2.3 0 1 0 -4.6 0M491.2 376.8a2.3 2.3 0 1 0 4.6 0a2.3 2.3 0 1 0 -4.6 0M500.0 388.3a2.3 2.3 0 1 0 4.6 0a2.3 2.3 0 1 0 -4.6 0M508.7 365.1a2.3 2.3 0 1 0 4.6 0a2.3 2.3 0 1 0 -4.6 0M517.5 370.7a2.3 2.3 0 1 0 4.6 0a2.3 2.3 0 1 0 -4.6 0M526.3 375.3a2.3 2.3 0 1 0 4.6 0a2.3 2.3 0 1 0 -4.6 0M535.1 378.0a2.3 2.3 0 1 0 4.6 0a2.3 2.3 0 1 0 -4.6 0M543.8 379.5a2.3 2.3 0 1 0 4.6 0a2.3 2.3 0 1 0 -4.6 0M552.6 386.6a2.3 2.3 0 1 0 4.6 0a2.3 2.3 0 1 0 -4.6 0M561.4 373.7a2.3 2.3 0 1 0 4.6 0a2.3 2.3 0 1 0 -4.6 0M570.1 373.6a2.3 2.3 0 1 0 4.6 0a2.3 2.3 0 1 0 -4.6 0M578.9 386.1a2.3 2.3 0 1 0 4.6 0a2.3 2.3 0 1 0 -4.6 0M587.7 373.2a2.3 2.3 0 1 0 4.6 0a2.3 2.3 0 1 0 -4.6 0M596.4 378.7a2.3 2.3 0 1 0 4.6 0a2.3 2.3 0 1 0 -4.6 0M605.2 362.7a2.3 2.3 0 1 0 4.6 0a2.3 2.3 0 1 0 -4.6 0M614.0 373.5a2.3 2.3 0 1 0 4.6 0a2.3 2.3 0 1 0 -4.6 0M622.8 372.5a2.3 2.3 0 1 0 4.6 0a2.3 2.3 0 1 0 -4.6 0M631.5 366.3a2.3 2.3 0 1 0 4.6 0a2.3 2.3 0 1 0 -4.6 0M640.3 373.1a2.3 2.3 0 1 0 4.6 0a2.3 2.3 0 1 0 -4.6 0M649.1 361.0a2.3 2.3 0 1 0 4.6 0a2.3 2.3 0 1 0 -4.6 0M657.8 372.7a2.3 2.3 0 1 0 4.6 0a2.3 2.3 0 1 0 -4.6 0M666.6 365.4a2.3 2.3 0 1 0 4.6 0a2.3 2.3 0 1 0 -4.6 0M70.2 592.4a2.3 2.3 0 1 0 4.6 0a2.3 2.3 0 1 0 -4.6 0M79.0 585.3a2.3 2.3 0 1 0 4.6 0a2.3 2.3 0 1 0 -4.6 0M87.7 582.6a2.3 2.3 0 1 0 4.6 0a2.3 2.3 0 1 0 -4.6 0M96.5 591.6a2.3 2.3 0 1 0 4.6 0a2.3 2.3 0 1 0 -4.6 0M105.3 590.0a2.3 2.3 0 1 0 4.6 0a2.3 2.3 0 1 0 -4.6 0M114.1 589.5a2.3 2.3 0 1 0 4.6 0a2.3 2.3 0 1 0 -4.6 0M122.8 580.6a2.3 2.3 0 1 0 4.6 0a2.3 2.3 0 1 0 -4.6 0M131.6 584.1a2.3 2.3 0 1 0 4.6 0a2.3 2.3 0 1 0 -4.6 0M140.4 577.5a2.3 2.3 0 1 0 4.6 0a2.3 2.3 0 1 0 -4.6 0M149.1 589.9a2.3 2.3 0 1 0 4.6 0a2.3 2.3 0 1 0 -4.6 0M157.9 562.9a2.3 2.3 0 1 0 4.6 0a2.3 2.3 0 1 0 -4.6 0M166.7 564.0a2.3 2.3 0 1 0 4.6 0a2.3 2.3 0 1 0 -4.6 0M175.4 550.4a2.3 2.3 0 1 0 4.6 0a2.3 2.3 0 1 0 -4.6 0M184.2 556.8a2.3 2.3 0 1 0 4.6 0a2.3 2.3 0 1 0 -4.6 0M193.0 549.7a2.3 2.3 0 1 0 4.6 0a2.3 2.3 0 1 0 -4.6 0M201.8 530.0a2.3 2.3 0 1 0 4.6 0a2.3 2.3 0 1 0 -4.6 0M210.5 516.5a2.3 2.3 0 1 0 4.6 0a2.3 2.3 0 1 0 -4.6 0M219.3 520.1a2.3 2.3 0 1 0 4.6 0a2.3 2.3 0 1 0 -4.6 0M228.1 503.6a2.3 2.3 0 1 0 4.6 0a2.3 2.3 0 1 0 -4.6 0M236.8 488.4a2.3 2.3 0 1 0 4.6 0a2.3 2.3 0 1 0 -4.6 0M245.6 490.6a2.3 2.3 0 1 0 4.6 0a2.3 2.3 0 1 0 -4.6 0M254.4 485.1a2.3 2.3 0 1 0 4.6 0a2.3 2.3 0 1 0 -4.6 0M263.2 462.9a2.3 2.3 0 1 0 4.6 0a2.3 2.3 0 1 0 -4.6 0M271.9 463.7a2.3 2.3 0 1 0 4.6 0a2.3 2.3 0 1 0 -4.6 0M280.7 467.3a2.3 2.3 0 1 0 4.6 0a2.3 2.3 0 1 0 -4.6 0M289.5 454.7a2.3 2.3 0 1 0 4.6 0a2.3 2.3 0 1 0 -4.6 0M298.2 448.0a2.3 2.3 0 1 0 4.6 0a2.3 2.3 0 1 0 -4.6 0M307.0 453.2a2.3 2.3 0 1 0 4.6 0a2.3 2.3 0 1 0 -4.6 0M315.8 451.1a2.3 2.3 0 1 0 4.6 0a2.3 2.3 0 1 0 -4.6 0M324.6 438.0a2.3 2.3 0 1 0 4.6 0a2.3 2.3 0 1 0 -4.6 0M333.3 433.8a2.3 2.3 0 1 0 4.6 0a2.3 2.3 0 1 0 -4.6 0M342.1 432.4a2.3 2.3 0 1 0 4.6 0a2.3 2.3 0 1 0 -4.6 0M350.9 437.3a2.3 2.3 0 1 0 4.6 0a2.3 2.3 0 1 0 -4.6 0M359.6 426.3a2.3 2.3 0 1 0 4.6 0a2.3 2.3 0 1 0 -4.6 0M368.4 418.7a2.3 2.3 0 1 0 4.6 0a2.3 2.3 0 1 0 -4.6 0M377.2 424.7a2.3 2.3 0 1 0 4.6 0a2.3 2.3 0 1 0 -4.6 0M385.9 415.9a2.3 2.3 0 1 0 4.6 0a2.3 2.3 0 1 0 -4.6 0M394.7 407.4a2.3 2.3 0 1 0 4.6 0a2.3 2.3 0 1 0 -4.6 0M403.5 416.3a2.3 2.3 0 1 0 4.6 0a2.3 2.3 0 1 0 -4.6 0M412.3 414.3a2.3 2.3 0 1 0 4.6 0a2.3 2.3 0 1 0 -4.6 0M421.0 402.8a2.3 2.3 0 1 0 4.6 0a2.3 2.3 0 1 0 -4.6 0M429.8 406.6a2.3 2.3 0 1 0 4.6 0a2.3 2.3 0 1 0 -4.6 0M438.6 397.5a2.3 2.3 0 1 0 4.6 0a2.3 2.3 0 1 0 -4.6 0M447.3 412.9a2.3 2.3 0 1 0 4.6 0a2.3 2.3 0 1 0 -4.6 0M456.1 409.0a2.3 2.3 0 1 0 4.6 0a2.3 2.3 0 1 0 -4.6 0M464.9 410.0a2.3 2.3 0 1 0 4.6 0a2.3 2.3 0 1 0 -4.6 0M473.7 413.8a2.3 2.3 0 1 0 4.6 0a2.3 2.3 0 1 0 -4.6 0M482.4 396.7a2.3 2.3 0 1 0 4.6 0a2.3 2.3 0 1 0 -4.6 0M491.2 394.8a2.3 2.3 0 1 0 4.6 0a2.3 2.3 0 1 0 -4.6 0M500.0 403.5a2.3 2.3 0 1 0 4.6 0a2.3 2.3 0 1 0 -4.6 0M508.7 389.1a2.3 2.3 0 1 0 4.6 0a2.3 2.3 0 1 0 -4.6 0M517.5 390.6a2.3 2.3 0 1 0 4.6 0a2.3 2.3 0 1 0 -4.6 0M526.3 391.1a2.3 2.3 0 1 0 4.6 0a2.3 2.3 0 1 0 -4.6 0M535.1 393.2a2.3 2.3 0 1 0 4.6 0a2.3 2.3 0 1 0 -4.6 0M543.8 385.0a2.3 2.3 0 1 0 4.6 0a2.3 2.3 0 1 0 -4.6 0M552.6 404.1a2.3 2.3 0 1 0 4.6 0a2.3 2.3 0 1 0 -4.6 0M561.4 384.8a2.3 2.3 0 1 0 4.6 0a2.3 2.3 0 1 0 -4.6 0M570.1 389.9a2.3 2.3 0 1 0 4.6 0a2.3 2.3 0 1 0 -4.6 0M578.9 408.0a2.3 2.3 0 1 0 4.6 0a2.3 2.3 0 1 0 -4.6 0M587.7 394.9a2.3 2.3 0 1 0 4.6 0a2.3 2.3 0 1 0 -4.6 0M596.4 396.8a2.3 2.3 0 1 0 4.6 0a2.3 2.3 0 1 0 -4.6 0M605.2 389.2a2.3 2.3 0 1 0 4.6 0a2.3 2.3 0 1 0 -4.6 0M614.0 397.4a2.3 2.3 0 1 0 4.6 0a2.3 2.3 0 1 0 -4.6 0M622.8 395.3a2.3 2.3 0 1 0 4.6 0a2.3 2.3 0 1 0 -4.6 0M631.5 393.7a2.3 2.3 0 1 0 4.6 0a2.3 2.3 0 1 0 -4.6 0M640.3 399.7a2.3 2.3 0 1 0 4.6 0a2.3 2.3 0 1 0 -4.6 0M649.1 388.8a2.3 2.3 0 1 0 4.6 0a2.3 2.3 0 1 0 -4.6 0M657.8 393.7a2.3 2.3 0 1 0 4.6 0a2.3 2.3 0 1 0 -4.6 0M666.6 390.3a2.3 2.3 0 1 0 4.6 0a2.3 2.3 0 1 0 -4.6 0"/>
</g>
<g fill="none" stroke-width="1.5">
<path stroke="#0066ff" d="M72.5,591.9 L76.3,591.9 L80.1,591.8 L83.9,591.7 L87.7,591.6 L91.5,591.5 L95.3,591.3 L99.1,591.1 L102.9,590.9 L106.7,590.7 L110.5,590.5 L114.3,590.3 L118.1,590.0 L121.9,589.7 L125.7,589.4 L129.5,589.0 L133.2,588.5 L137.0,588.0 L140.8,587.4 L144.6,586.6 L148.4,585.5 L152.2,584.3 L156.0,582.8 L159.8,581.2 L163.6,579.5 L167.4,577.6 L171.2,575.7 L175.0,573.7 L178.8,571.7 L182.6,569.6 L186.4,567.6 L190.2,565.5 L194.0,563.2 L197.8,560.7 L201.6,558.1 L205.4,555.5 L209.2,552.9 L213.0,550.4 L216.8,547.9 L220.6,545.5 L224.4,543.2 L228.2,540.8 L232.0,538.5 L235.8,536.1 L239.6,533.6 L243.4,531.1 L247.2,528.5 L251.0,525.8 L254.8,523.2 L258.5,520.6 L262.3,518.3 L266.1,516.2 L269.9,514.1 L273.7,512.1 L277.5,510.2 L281.3,508.3 L285.1,506.6 L288.9,505.0 L292.7,503.7 L296.5,502.5 L300.3,501.4 L304.1,500.4 L307.9,499.5 L311.7,498.6 L315.5,497.8 L319.3,497.0 L323.1,496.4 L326.9,495.8 L330.7,495.2 L334.5,494.8 L338.3,494.3 L342.1,493.8 L345.9,493.4 L349.7,493.0 L353.5,492.6 L357.3,492.2 L361.1,491.9 L364.9,491.5 L368.7,491.2 L372.5,490.9 L376.2,490.6 L380.0,490.3 L383.8,490.0 L387.6,489.7 L391.4,489.4 L395.2,489.1 L399.0,488.9 L402.8,488.6 L406.6,488.3 L410.4,488.1 L414.2,487.8 L418.0,487.5 L421.8,487.2 L425.6,487.0 L429.4,486.7 L433.2,486.4 L437.0,486.2 L440.8,485.9 L444.6,485.7 L448.4,485.4 L452.2,485.2 L456.0,484.9 L459.8,484.7 L463.6,484.4 L467.4,484.2 L471.2,484.0 L475.0,483.7 L478.8,483.5 L482.6,483.3 L486.4,483.1 L490.2,482.9 L494.0,482.7 L497.8,482.5 L501.5,482.3 L505.3,482.1 L509.1,481.9 L512.9,481.7 L516.7,481.5 L520.5,481.4 L524.3,481.2 L528.1,481.0 L531.9,480.8 L535.7,480.6 L539.5,480.5 L543.3,480.3 L547.1,480.1 L550.9,480.0 L554.7,479.8 L558.5,479.6 L562.3,479.4 L566.1,479.3 L569.9,479.1 L573.7,479.0 L577.5,478.8 L581.3,478.6 L585.1,478.5 L588.9,478.3 L592.7,478.2 L596.5,478.0 L600.3,477.9 L604.1,477.7 L607.9,477.6 L611.7,477.5 L615.5,477.3 L619.2,477.2 L623.0,477.1 L626.8,476.9 L630.6,476.8 L634.4,476.7 L638.2,476.5 L642.0,476.4 L645.8,476.3 L649.6,476.2 L653.4,476.1 L657.2,476.0 L661.0,475.9 L664.8,475.8 L668.6,475.7 L672.4,475.6 L676.2,475.5 L680.0,475.4"/>
<path stroke="#cc0000" d="M72.5,591.3 L76.3,591.3 L80.1,591.3 L83.9,591.2 L87.7,591.1 L91.5,591.0 L95.3,590.9 L99.1,590.8 L102.9,590.6 L106.7,590.5 L110.5,590.3 L114.3,590.2 L118.1,589.9 L121.9,589.7 L125.7,589.3 L129.5,588.9 L133.2,588.5 L137.0,588.0 L140.8,587.4 L144.6,586.4 L148.4,585.1 L152.2,583.4 L156.0,581.5 L159.8,579.4 L163.6,577.1 L167.4,574.8 L171.2,572.4 L175.0,570.1 L178.8,567.6 L182.6,564.9 L186.4,562.0 L190.2,559.0 L194.0,555.8 L197.8,552.5 L201.6,549.2 L205.4,545.5 L209.2,541.6 L213.0,537.5 L216.8,533.3 L220.6,529.1 L224.4,524.9 L228.2,520.9 L232.0,517.1 L235.8,513.5 L239.6,510.0 L243.4,506.6 L247.2,503.2 L251.0,499.7 L254.8,496.3 L258.5,492.8 L262.3,489.2 L266.1,485.5 L269.9,481.9 L273.7,478.4 L277.5,474.9 L281.3,471.7 L285.1,468.6 L288.9,465.6 L292.7,462.8 L296.5,460.2 L300.3,457.6 L304.1,455.1 L307.9,452.8 L311.7,450.6 L315.5,448.4 L319.3,446.3 L323.1,444.4 L326.9,442.5 L330.7,440.9 L334.5,439.3 L338.3,437.7 L342.1,436.2 L345.9,434.8 L349.7,433.4 L353.5,432.1 L357.3,430.9 L361.1,429.8 L364.9,428.7 L368.7,427.8 L372.5,427.0 L376.2,426.3 L380.0,425.6 L383.8,425.0 L387.6,424.4 L391.4,423.8 L395.2,423.3 L399.0,422.8 L402.8,422.3 L406.6,421.9 L410.4,421.4 L414.2,421.0 L418.0,420.5 L421.8,420.1 L425.6,419.7 L429.4,419.2 L433.2,418.8 L437.0,418.4 L440.8,418.0 L444.6,417.6 L448.4,417.3 L452.2,416.9 L456.0,416.6 L459.8,416.3 L463.6,416.0 L467.4,415.7 L471.2,415.4 L475.0,415.1 L478.8,414.9 L482.6,414.6 L486.4,414.4 L490.2,414.2 L494.0,414.0 L497.8,413.8 L501.5,413.5 L505.3,413.3 L509.1,413.1 L512.9,412.9 L516.7,412.7 L520.5,412.4 L524.3,412.2 L528.1,412.0 L531.9,411.7 L535.7,411.5 L539.5,411.2 L543.3,411.0 L547.1,410.7 L550.9,410.5 L554.7,410.3 L558.5,410.1 L562.3,409.9 L566.1,409.7 L569.9,409.6 L573.7,409.5 L577.5,409.4 L581.3,409.3 L585.1,409.3 L588.9,409.3 L592.7,409.3 L596.5,409.3 L600.3,409.3 L604.1,409.3 L607.9,409.3 L611.7,409.3 L615.5,409.4 L619.2,409.4 L623.0,409.4 L626.8,409.5 L630.6,409.6 L634.4,409.6 L638.2,409.7 L642.0,409.8 L645.8,409.9 L649.6,410.0 L653.4,410.1 L657.2,410.3 L661.0,410.4 L664.8,410.6 L668.6,410.7 L672.4,410.9 L676.2,411.1 L680.0,411.4"/>
<path stroke="#00c800" d="M72.5,591.3 L76.3,591.3 L80.1,591.2 L83.9,591.1 L87.7,591.0 L91.5,590.9 L95.3,590.7 L99.1,590.5 L102.9,590.3 L106.7,590.0 L110.5,589.8 L114.3,589.5 L118.1,589.0 L121.9,588.5 L125.7,587.9 L129.5,587.2 L133.2,586.3 L137.0,585.4 L140.8,584.4 L144.6,583.0 L148.4,581.3 L152.2,579.1 L156.0,576.7 L159.8,574.1 L163.6,571.4 L167.4,568.7 L171.2,565.9 L175.0,563.1 L178.8,560.2 L182.6,557.0 L186.4,553.7 L190.2,550.3 L194.0,546.7 L197.8,542.9 L201.6,538.9 L205.4,534.6 L209.2,529.9 L213.0,525.0 L216.8,519.9 L220.6,514.7 L224.4,509.6 L228.2,504.6 L232.0,499.4 L235.8,494.1 L239.6,488.8 L243.4,483.6 L247.2,478.4 L251.0,473.4 L254.8,468.7 L258.5,463.9 L262.3,459.2 L266.1,454.6 L269.9,450.2 L273.7,446.0 L277.5,442.2 L281.3,438.5 L285.1,435.0 L288.9,431.7 L292.7,428.6 L296.5,425.7 L300.3,423.1 L304.1,420.9 L307.9,418.8 L311.7,417.0 L315.5,415.2 L319.3,413.6 L323.1,412.0 L326.9,410.6 L330.7,409.2 L334.5,407.9 L338.3,406.7 L342.1,405.6 L345.9,404.5 L349.7,403.4 L353.5,402.4 L357.3,401.3 L361.1,400.2 L364.9,399.1 L368.7,398.0 L372.5,396.9 L376.2,395.8 L380.0,394.6 L383.8,393.6 L387.6,392.5 L391.4,391.4 L395.2,390.3 L399.0,389.2 L402.8,388.2 L406.6,387.1 L410.4,386.1 L414.2,385.1 L418.0,384.1 L421.8,383.2 L425.6,382.2 L429.4,381.2 L433.2,380.2 L437.0,379.2 L440.8,378.2 L444.6,377.3 L448.4,376.3 L452.2,375.5 L456.0,374.7 L459.8,373.9 L463.6,373.2 L467.4,372.7 L471.2,372.1 L475.0,371.6 L478.8,371.1 L482.6,370.7 L486.4,370.2 L490.2,369.8 L494.0,369.5 L497.8,369.1 L501.5,368.8 L505.3,368.4 L509.1,368.1 L512.9,367.8 L516.7,367.5 L520.5,367.2 L524.3,366.9 L528.1,366.7 L531.9,366.4 L535.7,366.1 L539.5,365.9 L543.3,365.6 L547.1,365.4 L550.9,365.2 L554.7,364.9 L558.5,364.7 L562.3,364.5 L566.1,364.3 L569.9,364.1 L573.7,363.9 L577.5,363.8 L581.3,363.6 L585.1,363.4 L588.9,363.3 L592.7,363.2 L596.5,363.0 L600.3,362.9 L604.1,362.7 L607.9,362.6 L611.7,362.5 L615.5,362.3 L619.2,362.2 L623.0,362.1 L626.8,362.0 L630.6,361.9 L634.4,361.7 L638.2,361.6 L642.0,361.5 L645.8,361.4 L649.6,361.3 L653.4,361.3 L657.2,361.2 L661.0,361.1 L664.8,361.0 L668.6,361.0 L672.4,360.9 L676.2,360.9 L680.0,360.8"/>
</g>
<rect x="72.5" y="306.3" width="607.5" height="304.0" fill="none" stroke="#111" stroke-width="1.4"/>
<path d="M72.5 591.3H79.0M72.5 496.3H79.0M72.5 401.3H79.0M148.4 610.3V603.8M224.4 610.3V603.8M300.3 610.3V603.8M376.2 610.3V603.8M452.2 610.3V603.8M528.1 610.3V603.8M604.1 610.3V603.8" stroke="#111" stroke-width="1.3"/>
<g stroke-width="2.6"><path d="M96.3 333.6H119.3" stroke="#00c800"/><path d="M96.3 350.3H119.3" stroke="#cc0000"/><path d="M96.3 369.4H119.3" stroke="#0066ff"/></g>
<g font-size="15.6" fill="#111"><text x="129.3" y="337.5">Top slice</text><text x="129.3" y="356.9">Middle slice</text><text x="129.3" y="376.3">Bottom slice</text></g>
</svg></body></html>
